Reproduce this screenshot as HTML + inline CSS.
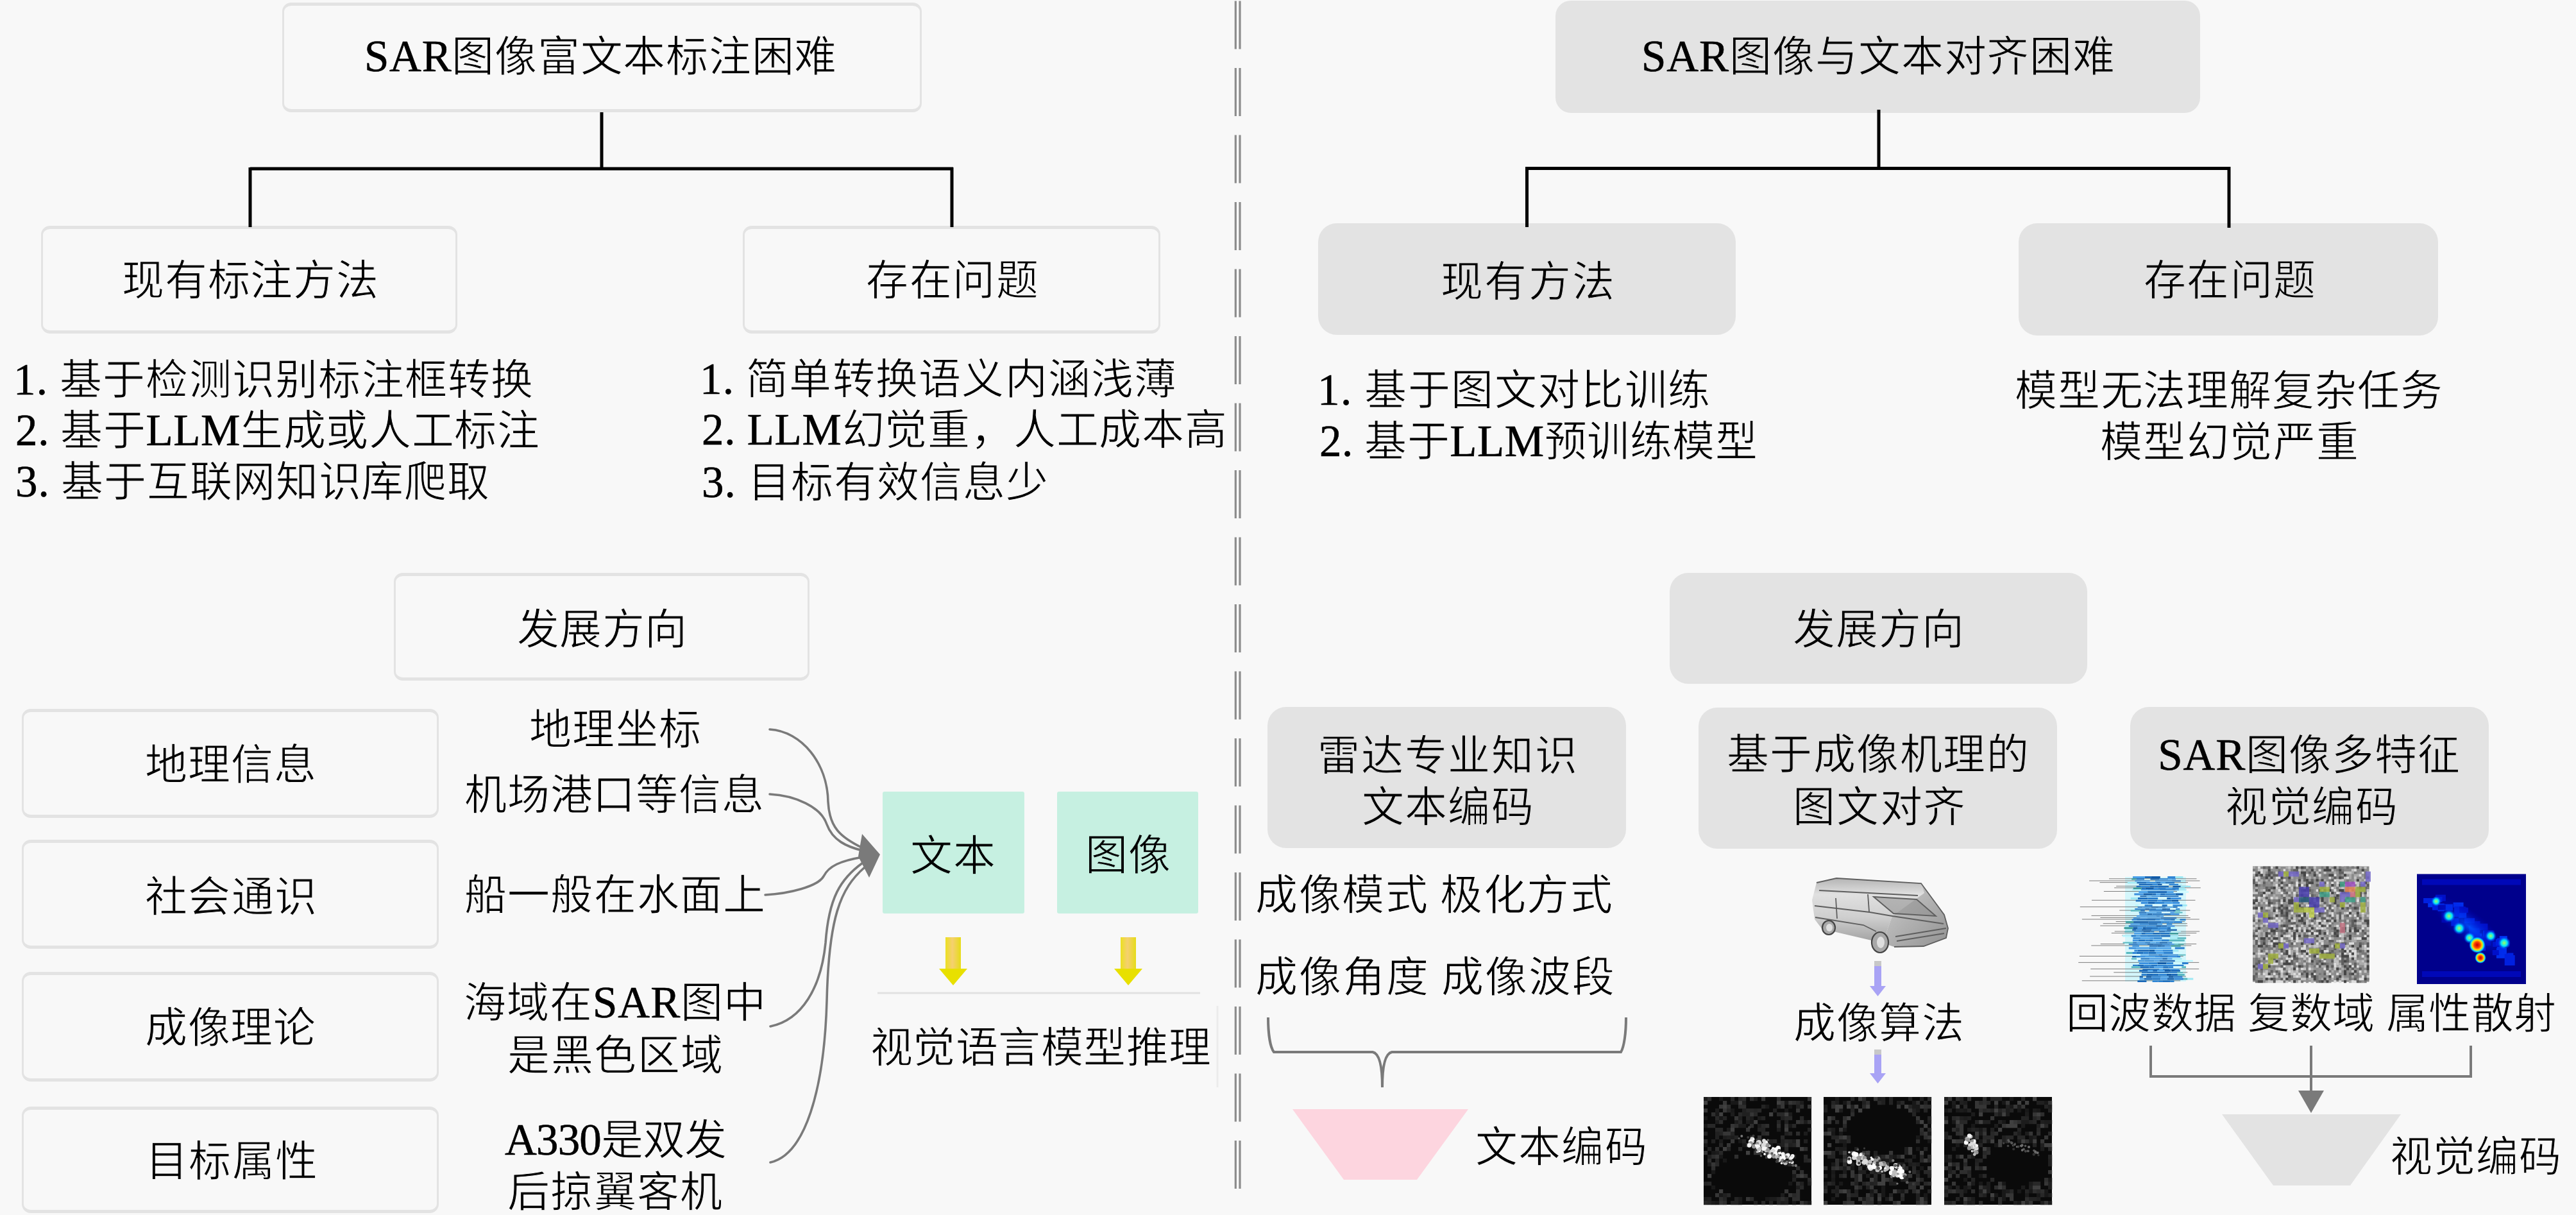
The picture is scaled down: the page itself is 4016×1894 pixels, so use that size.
<!DOCTYPE html>
<html lang="zh-CN"><head><meta charset="utf-8"><style>
html,body{margin:0;padding:0;background:#f8f8f8;}
#c{position:relative;width:4016px;height:1894px;overflow:hidden;background:#f8f8f8;}
.b{position:absolute;box-sizing:border-box;}
.t{position:absolute;white-space:nowrap;font-family:"Liberation Serif",serif;font-size:66px;color:#000;line-height:66px;}
svg{position:absolute;left:0;top:0;}
.l{-webkit-text-stroke:0.6px #000 !important;font-size:69px;}
</style></head><body><div id="c">
<div class="b" style="left:440px;top:4px;width:997px;height:171px;background:#f8f8f8;border:solid #e3e3e3;border-width:5px 3px;border-radius:14px;"></div>
<div class="b" style="left:64px;top:352px;width:649px;height:168px;background:#f8f8f8;border:solid #e3e3e3;border-width:5px 3px;border-radius:14px;"></div>
<div class="b" style="left:1158px;top:352px;width:651px;height:168px;background:#f8f8f8;border:solid #e3e3e3;border-width:5px 3px;border-radius:14px;"></div>
<div class="b" style="left:614px;top:893px;width:648px;height:168px;background:#f8f8f8;border:solid #e3e3e3;border-width:5px 3px;border-radius:14px;"></div>
<div class="b" style="left:34px;top:1105px;width:650px;height:170px;background:#f8f8f8;border:solid #e3e3e3;border-width:5px 3px;border-radius:14px;"></div>
<div class="b" style="left:34px;top:1309px;width:650px;height:170px;background:#f8f8f8;border:solid #e3e3e3;border-width:5px 3px;border-radius:14px;"></div>
<div class="b" style="left:34px;top:1515px;width:650px;height:171px;background:#f8f8f8;border:solid #e3e3e3;border-width:5px 3px;border-radius:14px;"></div>
<div class="b" style="left:34px;top:1725px;width:650px;height:166px;background:#f8f8f8;border:solid #e3e3e3;border-width:5px 3px;border-radius:14px;"></div>
<div class="b" style="left:1376px;top:1234px;width:221px;height:190px;background:#c6f0e1;border:solid #c6f0e1;border-width:0px 0px;border-radius:3px;"></div>
<div class="b" style="left:1648px;top:1234px;width:220px;height:190px;background:#c6f0e1;border:solid #c6f0e1;border-width:0px 0px;border-radius:3px;"></div>
<div class="b" style="left:2425px;top:1px;width:1005px;height:175px;background:#e3e3e3;border:solid #e3e3e3;border-width:0px 0px;border-radius:24px;"></div>
<div class="b" style="left:2055px;top:348px;width:651px;height:174px;background:#e3e3e3;border:solid #e3e3e3;border-width:0px 0px;border-radius:29px;"></div>
<div class="b" style="left:3147px;top:348px;width:654px;height:175px;background:#e3e3e3;border:solid #e3e3e3;border-width:0px 0px;border-radius:29px;"></div>
<div class="b" style="left:2603px;top:893px;width:651px;height:173px;background:#e3e3e3;border:solid #e3e3e3;border-width:0px 0px;border-radius:29px;"></div>
<div class="b" style="left:1976px;top:1102px;width:559px;height:220px;background:#e3e3e3;border:solid #e3e3e3;border-width:0px 0px;border-radius:29px;"></div>
<div class="b" style="left:2648px;top:1103px;width:559px;height:220px;background:#e3e3e3;border:solid #e3e3e3;border-width:0px 0px;border-radius:29px;"></div>
<div class="b" style="left:3321px;top:1102px;width:559px;height:221px;background:#e3e3e3;border:solid #e3e3e3;border-width:0px 0px;border-radius:29px;"></div>
<div class="t" id="t_ltop" style="left:568.00px;top:55.00px;letter-spacing:0.727px;-webkit-text-stroke:1.0px #f8f8f8"><span class="l">SAR</span>图像富文本标注困难</div>
<div class="t" id="t_l2a" style="left:190.00px;top:405.00px;letter-spacing:0.800px;-webkit-text-stroke:1.0px #f8f8f8">现有标注方法</div>
<div class="t" id="t_l2b" style="left:1350.00px;top:405.00px;letter-spacing:1.667px;-webkit-text-stroke:1.0px #f8f8f8">存在问题</div>
<div class="t" id="t_ll1" style="left:21.00px;top:559.00px;letter-spacing:1.231px;-webkit-text-stroke:1.0px #f8f8f8"><span class="l">1.</span> 基于检测识别标注框转换</div>
<div class="t" id="t_ll2" style="left:24.00px;top:638.00px;letter-spacing:0.643px;-webkit-text-stroke:1.0px #f8f8f8"><span class="l">2.</span> 基于<span class="l">LLM</span>生成或人工标注</div>
<div class="t" id="t_ll3" style="left:24.00px;top:718.00px;letter-spacing:0.917px;-webkit-text-stroke:1.0px #f8f8f8"><span class="l">3.</span> 基于互联网知识库爬取</div>
<div class="t" id="t_lr1" style="left:1091.00px;top:558.00px;letter-spacing:1.250px;-webkit-text-stroke:1.0px #f8f8f8"><span class="l">1.</span> 简单转换语义内涵浅薄</div>
<div class="t" id="t_lr2" style="left:1094.00px;top:637.00px;letter-spacing:0.786px;-webkit-text-stroke:1.0px #f8f8f8"><span class="l">2.</span> <span class="l">LLM</span>幻觉重，人工成本高</div>
<div class="t" id="t_lr3" style="left:1094.00px;top:719.00px;letter-spacing:1.111px;-webkit-text-stroke:1.0px #f8f8f8"><span class="l">3.</span> 目标有效信息少</div>
<div class="t" id="t_lfz" style="left:806.00px;top:949.00px;letter-spacing:0.333px;-webkit-text-stroke:1.0px #f8f8f8">发展方向</div>
<div class="t" id="t_s1" style="left:226.00px;top:1160.00px;letter-spacing:1.000px;-webkit-text-stroke:1.0px #f8f8f8">地理信息</div>
<div class="t" id="t_s2" style="left:226.00px;top:1366.00px;letter-spacing:1.333px;-webkit-text-stroke:1.0px #f8f8f8">社会通识</div>
<div class="t" id="t_s3" style="left:226.00px;top:1570.00px;letter-spacing:0.667px;-webkit-text-stroke:1.0px #f8f8f8">成像理论</div>
<div class="t" id="t_s4" style="left:227.00px;top:1778.00px;letter-spacing:1.333px;-webkit-text-stroke:1.0px #f8f8f8">目标属性</div>
<div class="t" id="t_m1" style="left:825.00px;top:1105.00px;letter-spacing:1.333px;-webkit-text-stroke:1.0px #f8f8f8">地理坐标</div>
<div class="t" id="t_m2" style="left:724.00px;top:1207.00px;letter-spacing:0.833px;-webkit-text-stroke:1.0px #f8f8f8">机场港口等信息</div>
<div class="t" id="t_m3" style="left:724.00px;top:1363.00px;letter-spacing:1.167px;-webkit-text-stroke:1.0px #f8f8f8">船一般在水面上</div>
<div class="t" id="t_m4" style="left:723.00px;top:1530.00px;letter-spacing:1.000px;-webkit-text-stroke:1.0px #f8f8f8">海域在<span class="l">SAR</span>图中</div>
<div class="t" id="t_m5" style="left:791.00px;top:1613.00px;letter-spacing:1.500px;-webkit-text-stroke:1.0px #f8f8f8">是黑色区域</div>
<div class="t" id="t_m6" style="left:787.00px;top:1744.00px;letter-spacing:-0.833px;-webkit-text-stroke:1.0px #f8f8f8"><span class="l">A330</span>是双发</div>
<div class="t" id="t_m7" style="left:791.00px;top:1826.00px;letter-spacing:1.250px;-webkit-text-stroke:1.0px #f8f8f8">后掠翼客机</div>
<div class="t" id="t_wb" style="left:1419.00px;top:1302.00px;letter-spacing:1.000px;-webkit-text-stroke:1.0px #c6f0e1">文本</div>
<div class="t" id="t_tx" style="left:1691.60px;top:1301.00px;letter-spacing:1.000px;-webkit-text-stroke:1.0px #c6f0e1">图像</div>
<div class="t" id="t_vlm" style="left:1357.00px;top:1601.00px;letter-spacing:0.429px;-webkit-text-stroke:1.0px #f8f8f8">视觉语言模型推理</div>
<div class="t" id="t_rtop" style="left:2559.00px;top:55.00px;letter-spacing:0.909px;-webkit-text-stroke:1.0px #e3e3e3"><span class="l">SAR</span>图像与文本对齐困难</div>
<div class="t" id="t_r2a" style="left:2246.00px;top:407.00px;letter-spacing:2.333px;-webkit-text-stroke:1.0px #e3e3e3">现有方法</div>
<div class="t" id="t_r2b" style="left:3342.00px;top:405.00px;letter-spacing:1.333px;-webkit-text-stroke:1.0px #e3e3e3">存在问题</div>
<div class="t" id="t_rl1" style="left:2054.00px;top:575.00px;letter-spacing:1.600px;-webkit-text-stroke:1.0px #f8f8f8"><span class="l">1.</span> 基于图文对比训练</div>
<div class="t" id="t_rl2" style="left:2057.00px;top:654.80px;letter-spacing:0.583px;-webkit-text-stroke:1.0px #f8f8f8"><span class="l">2.</span> 基于<span class="l">LLM</span>预训练模型</div>
<div class="t" id="t_rr1" style="left:3141.00px;top:577.00px;letter-spacing:0.778px;-webkit-text-stroke:1.0px #f8f8f8">模型无法理解复杂任务</div>
<div class="t" id="t_rr2" style="left:3274.00px;top:657.00px;letter-spacing:1.400px;-webkit-text-stroke:1.0px #f8f8f8">模型幻觉严重</div>
<div class="t" id="t_rfz" style="left:2795.00px;top:949.00px;letter-spacing:1.000px;-webkit-text-stroke:1.0px #e3e3e3">发展方向</div>
<div class="t" id="t_b1a" style="left:2054.00px;top:1146.00px;letter-spacing:1.800px;-webkit-text-stroke:1.0px #e3e3e3">雷达专业知识</div>
<div class="t" id="t_b1b" style="left:2123.00px;top:1225.80px;letter-spacing:1.167px;-webkit-text-stroke:1.0px #e3e3e3">文本编码</div>
<div class="t" id="t_b2a" style="left:2692.00px;top:1143.60px;letter-spacing:1.417px;-webkit-text-stroke:1.0px #e3e3e3">基于成像机理的</div>
<div class="t" id="t_b2b" style="left:2795.00px;top:1226.00px;letter-spacing:1.833px;-webkit-text-stroke:1.0px #e3e3e3">图文对齐</div>
<div class="t" id="t_b3a" style="left:3364.20px;top:1143.60px;letter-spacing:0.929px;-webkit-text-stroke:1.0px #e3e3e3"><span class="l">SAR</span>图像多特征</div>
<div class="t" id="t_b3b" style="left:3469.00px;top:1225.60px;letter-spacing:1.667px;-webkit-text-stroke:1.0px #e3e3e3">视觉编码</div>
<div class="t" id="t_cx1" style="left:1957.00px;top:1362.60px;letter-spacing:1.500px;-webkit-text-stroke:1.0px #f8f8f8">成像模式 极化方式</div>
<div class="t" id="t_cx2" style="left:1957.00px;top:1490.60px;letter-spacing:1.875px;-webkit-text-stroke:1.0px #f8f8f8">成像角度 成像波段</div>
<div class="t" id="t_wbm" style="left:2300.00px;top:1755.60px;letter-spacing:1.167px;-webkit-text-stroke:1.0px #f8f8f8">文本编码</div>
<div class="t" id="t_cxsf" style="left:2796.00px;top:1562.80px;letter-spacing:0.667px;-webkit-text-stroke:1.0px #f8f8f8">成像算法</div>
<div class="t" id="t_hb" style="left:3221.00px;top:1548.00px;letter-spacing:0.417px;-webkit-text-stroke:1.0px #f8f8f8">回波数据 复数域 属性散射</div>
<div class="t" id="t_sjbm" style="left:3726.40px;top:1771.00px;letter-spacing:1.000px;-webkit-text-stroke:1.0px #f8f8f8">视觉编码</div>
<svg width="4016" height="1894" viewBox="0 0 4016 1894">
<g stroke="#000" stroke-width="5" fill="none" stroke-linecap="butt"><path d="M938 175V263M390 263H1486M390 261V354M1484 261V354"/><path d="M2929 171V263M2378 262.5H3477M2380.5 260V354M3475 260V355"/></g>
<path d="M1926.3 1.5v75M1933 1.5v75M1926.3 106.0v75M1933 106.0v75M1926.3 210.5v75M1933 210.5v75M1926.3 315.0v75M1933 315.0v75M1926.3 419.5v75M1933 419.5v75M1926.3 524.0v75M1933 524.0v75M1926.3 628.5v75M1933 628.5v75M1926.3 733.0v75M1933 733.0v75M1926.3 837.5v75M1933 837.5v75M1926.3 942.0v75M1933 942.0v75M1926.3 1046.5v75M1933 1046.5v75M1926.3 1151.0v75M1933 1151.0v75M1926.3 1255.5v75M1933 1255.5v75M1926.3 1360.0v75M1933 1360.0v75M1926.3 1464.5v75M1933 1464.5v75M1926.3 1569.0v75M1933 1569.0v75M1926.3 1673.5v75M1933 1673.5v75M1926.3 1778.0v75M1933 1778.0v75" stroke="#8c8c8c" stroke-width="3.2" fill="none"/>
<path d="M1368 1548H1871" stroke="#e2e2e2" stroke-width="3" fill="none"/>
<path d="M1898 1568V1695" stroke="#ececec" stroke-width="3" fill="none"/>
<g stroke="#7a7a7a" stroke-width="3.6" fill="none" stroke-linecap="round"><path d="M1200 1137C1250 1140 1290 1190 1291 1250C1293 1290 1310 1305 1345 1322"/><path d="M1200 1238C1240 1240 1280 1258 1289 1285C1298 1310 1320 1320 1345 1326"/><path d="M1193 1395C1230 1393 1275 1382 1284 1366C1292 1350 1310 1342 1345 1336"/><path d="M1201 1600C1250 1590 1280 1540 1287 1470C1292 1400 1310 1370 1345 1345"/><path d="M1201 1812C1255 1800 1285 1700 1289 1560C1292 1430 1310 1385 1348 1352"/></g>
<path d="M1344 1300L1372 1332L1355 1368L1338 1335Z" fill="#7a7a7a"/>
<defs><linearGradient id="yg1486" x1="0" y1="0" x2="1" y2="0"><stop offset="0" stop-color="#ece020"/><stop offset="0.45" stop-color="#f5d070"/><stop offset="1" stop-color="#e6dc18"/></linearGradient></defs>
<path d="M1474 1461H1498V1512H1474Z" fill="url(#yg1486)"/>
<path d="M1464 1510H1508L1486 1536Z" fill="#e8e000"/>
<defs><linearGradient id="yg1759" x1="0" y1="0" x2="1" y2="0"><stop offset="0" stop-color="#ece020"/><stop offset="0.45" stop-color="#f5d070"/><stop offset="1" stop-color="#e6dc18"/></linearGradient></defs>
<path d="M1747 1461H1771V1512H1747Z" fill="url(#yg1759)"/>
<path d="M1737 1510H1781L1759 1536Z" fill="#e8e000"/>
<path d="M1977 1586C1977 1610 1980 1632 1986 1640H2140C2150 1642 2155 1660 2155 1695C2155 1660 2160 1642 2170 1640H2527C2532 1632 2535 1610 2535 1586" stroke="#7a7a7a" stroke-width="4" fill="none"/>
<path d="M2015 1729H2289L2209 1839H2095Z" fill="#fdd5df"/>
<path d="M2922 1498H2933V1537H2940L2927.5 1553L2915 1537H2922Z" fill="#a9a3f5"/>
<path d="M2922 1498H2933V1506H2922Z" fill="#c8c8c8"/>
<path d="M2922 1636H2933V1673H2940L2927.5 1689L2915 1673H2922Z" fill="#a9a3f5"/>
<path d="M2922 1636H2933V1644H2922Z" fill="#c8c8c8"/>
<g stroke="#7a7a7a" stroke-width="4" fill="none"><path d="M3353 1630V1678H3852V1630M3603 1630V1702"/></g>
<path d="M3583 1700H3623L3603 1735Z" fill="#7a7a7a"/>
<path d="M3464 1737H3743L3664 1848H3544Z" fill="#e3e3e3"/>
<rect x="2656" y="1710" width="168" height="168" fill="#0a0a0a"/>
<path fill="#1c1c1c" d="M2656.0 1710.0h6.2v6.2h-6.2zM2656.0 1866.0h6.2v6.2h-6.2zM2662.0 1812.0h6.2v6.2h-6.2zM2668.0 1872.0h6.2v6.2h-6.2zM2674.0 1728.0h6.2v6.2h-6.2zM2674.0 1746.0h6.2v6.2h-6.2zM2674.0 1794.0h6.2v6.2h-6.2zM2680.0 1776.0h6.2v6.2h-6.2zM2686.0 1770.0h6.2v6.2h-6.2zM2692.0 1758.0h6.2v6.2h-6.2zM2698.0 1734.0h6.2v6.2h-6.2zM2698.0 1770.0h6.2v6.2h-6.2zM2704.0 1746.0h6.2v6.2h-6.2zM2710.0 1752.0h6.2v6.2h-6.2zM2710.0 1866.0h6.2v6.2h-6.2zM2716.0 1752.0h6.2v6.2h-6.2zM2722.0 1746.0h6.2v6.2h-6.2zM2728.0 1740.0h6.2v6.2h-6.2zM2734.0 1710.0h6.2v6.2h-6.2zM2740.0 1740.0h6.2v6.2h-6.2zM2740.0 1752.0h6.2v6.2h-6.2zM2746.0 1788.0h6.2v6.2h-6.2zM2752.0 1776.0h6.2v6.2h-6.2zM2758.0 1866.0h6.2v6.2h-6.2zM2764.0 1866.0h6.2v6.2h-6.2zM2770.0 1758.0h6.2v6.2h-6.2zM2776.0 1860.0h6.2v6.2h-6.2zM2776.0 1872.0h6.2v6.2h-6.2zM2782.0 1794.0h6.2v6.2h-6.2zM2788.0 1734.0h6.2v6.2h-6.2zM2794.0 1776.0h6.2v6.2h-6.2zM2794.0 1800.0h6.2v6.2h-6.2zM2800.0 1848.0h6.2v6.2h-6.2zM2806.0 1716.0h6.2v6.2h-6.2zM2812.0 1746.0h6.2v6.2h-6.2zM2812.0 1764.0h6.2v6.2h-6.2z"/>
<path fill="#404040" d="M2656.0 1716.0h6.2v6.2h-6.2zM2662.0 1830.0h6.2v6.2h-6.2zM2680.0 1734.0h6.2v6.2h-6.2zM2680.0 1854.0h6.2v6.2h-6.2zM2686.0 1722.0h6.2v6.2h-6.2zM2686.0 1788.0h6.2v6.2h-6.2zM2698.0 1758.0h6.2v6.2h-6.2zM2710.0 1716.0h6.2v6.2h-6.2zM2722.0 1794.0h6.2v6.2h-6.2zM2728.0 1776.0h6.2v6.2h-6.2zM2734.0 1746.0h6.2v6.2h-6.2zM2740.0 1782.0h6.2v6.2h-6.2zM2752.0 1782.0h6.2v6.2h-6.2zM2752.0 1794.0h6.2v6.2h-6.2zM2758.0 1734.0h6.2v6.2h-6.2zM2764.0 1800.0h6.2v6.2h-6.2zM2770.0 1716.0h6.2v6.2h-6.2zM2782.0 1734.0h6.2v6.2h-6.2zM2782.0 1758.0h6.2v6.2h-6.2zM2800.0 1776.0h6.2v6.2h-6.2zM2800.0 1782.0h6.2v6.2h-6.2zM2806.0 1788.0h6.2v6.2h-6.2zM2806.0 1830.0h6.2v6.2h-6.2z"/>
<path fill="#363636" d="M2656.0 1728.0h6.2v6.2h-6.2zM2656.0 1794.0h6.2v6.2h-6.2zM2668.0 1812.0h6.2v6.2h-6.2zM2674.0 1800.0h6.2v6.2h-6.2zM2674.0 1860.0h6.2v6.2h-6.2zM2680.0 1722.0h6.2v6.2h-6.2zM2680.0 1872.0h6.2v6.2h-6.2zM2686.0 1716.0h6.2v6.2h-6.2zM2686.0 1728.0h6.2v6.2h-6.2zM2686.0 1764.0h6.2v6.2h-6.2zM2692.0 1764.0h6.2v6.2h-6.2zM2692.0 1782.0h6.2v6.2h-6.2zM2698.0 1752.0h6.2v6.2h-6.2zM2698.0 1776.0h6.2v6.2h-6.2zM2704.0 1740.0h6.2v6.2h-6.2zM2722.0 1758.0h6.2v6.2h-6.2zM2722.0 1782.0h6.2v6.2h-6.2zM2722.0 1866.0h6.2v6.2h-6.2zM2728.0 1734.0h6.2v6.2h-6.2zM2734.0 1794.0h6.2v6.2h-6.2zM2740.0 1770.0h6.2v6.2h-6.2zM2740.0 1794.0h6.2v6.2h-6.2zM2746.0 1710.0h6.2v6.2h-6.2zM2752.0 1788.0h6.2v6.2h-6.2zM2752.0 1800.0h6.2v6.2h-6.2zM2770.0 1800.0h6.2v6.2h-6.2zM2776.0 1716.0h6.2v6.2h-6.2zM2776.0 1722.0h6.2v6.2h-6.2zM2782.0 1752.0h6.2v6.2h-6.2zM2782.0 1782.0h6.2v6.2h-6.2zM2782.0 1854.0h6.2v6.2h-6.2zM2788.0 1716.0h6.2v6.2h-6.2zM2788.0 1860.0h6.2v6.2h-6.2zM2800.0 1728.0h6.2v6.2h-6.2zM2800.0 1746.0h6.2v6.2h-6.2zM2800.0 1830.0h6.2v6.2h-6.2zM2806.0 1872.0h6.2v6.2h-6.2zM2818.0 1710.0h6.2v6.2h-6.2zM2818.0 1722.0h6.2v6.2h-6.2z"/>
<path fill="#181818" d="M2656.0 1740.0h6.2v6.2h-6.2zM2656.0 1752.0h6.2v6.2h-6.2zM2656.0 1782.0h6.2v6.2h-6.2zM2668.0 1794.0h6.2v6.2h-6.2zM2668.0 1824.0h6.2v6.2h-6.2zM2668.0 1848.0h6.2v6.2h-6.2zM2674.0 1734.0h6.2v6.2h-6.2zM2674.0 1872.0h6.2v6.2h-6.2zM2680.0 1710.0h6.2v6.2h-6.2zM2680.0 1740.0h6.2v6.2h-6.2zM2680.0 1800.0h6.2v6.2h-6.2zM2680.0 1860.0h6.2v6.2h-6.2zM2686.0 1806.0h6.2v6.2h-6.2zM2698.0 1716.0h6.2v6.2h-6.2zM2698.0 1728.0h6.2v6.2h-6.2zM2704.0 1716.0h6.2v6.2h-6.2zM2710.0 1776.0h6.2v6.2h-6.2zM2710.0 1872.0h6.2v6.2h-6.2zM2716.0 1782.0h6.2v6.2h-6.2zM2728.0 1746.0h6.2v6.2h-6.2zM2734.0 1788.0h6.2v6.2h-6.2zM2752.0 1722.0h6.2v6.2h-6.2zM2752.0 1866.0h6.2v6.2h-6.2zM2758.0 1782.0h6.2v6.2h-6.2zM2770.0 1782.0h6.2v6.2h-6.2zM2782.0 1716.0h6.2v6.2h-6.2zM2782.0 1728.0h6.2v6.2h-6.2zM2782.0 1812.0h6.2v6.2h-6.2zM2788.0 1722.0h6.2v6.2h-6.2zM2788.0 1752.0h6.2v6.2h-6.2zM2788.0 1842.0h6.2v6.2h-6.2zM2794.0 1830.0h6.2v6.2h-6.2zM2794.0 1872.0h6.2v6.2h-6.2zM2818.0 1872.0h6.2v6.2h-6.2z"/>
<path fill="#242424" d="M2656.0 1764.0h6.2v6.2h-6.2zM2656.0 1842.0h6.2v6.2h-6.2zM2662.0 1788.0h6.2v6.2h-6.2zM2662.0 1872.0h6.2v6.2h-6.2zM2674.0 1806.0h6.2v6.2h-6.2zM2680.0 1764.0h6.2v6.2h-6.2zM2686.0 1740.0h6.2v6.2h-6.2zM2686.0 1866.0h6.2v6.2h-6.2zM2692.0 1728.0h6.2v6.2h-6.2zM2692.0 1788.0h6.2v6.2h-6.2zM2698.0 1764.0h6.2v6.2h-6.2zM2698.0 1872.0h6.2v6.2h-6.2zM2704.0 1770.0h6.2v6.2h-6.2zM2704.0 1866.0h6.2v6.2h-6.2zM2704.0 1872.0h6.2v6.2h-6.2zM2716.0 1776.0h6.2v6.2h-6.2zM2722.0 1740.0h6.2v6.2h-6.2zM2728.0 1770.0h6.2v6.2h-6.2zM2734.0 1728.0h6.2v6.2h-6.2zM2740.0 1758.0h6.2v6.2h-6.2zM2746.0 1722.0h6.2v6.2h-6.2zM2746.0 1740.0h6.2v6.2h-6.2zM2746.0 1758.0h6.2v6.2h-6.2zM2758.0 1776.0h6.2v6.2h-6.2zM2758.0 1872.0h6.2v6.2h-6.2zM2770.0 1746.0h6.2v6.2h-6.2zM2770.0 1794.0h6.2v6.2h-6.2zM2770.0 1866.0h6.2v6.2h-6.2zM2770.0 1872.0h6.2v6.2h-6.2zM2776.0 1806.0h6.2v6.2h-6.2zM2782.0 1866.0h6.2v6.2h-6.2zM2788.0 1776.0h6.2v6.2h-6.2zM2794.0 1782.0h6.2v6.2h-6.2zM2812.0 1806.0h6.2v6.2h-6.2zM2812.0 1872.0h6.2v6.2h-6.2zM2818.0 1758.0h6.2v6.2h-6.2z"/>
<path fill="#2e2e2e" d="M2656.0 1776.0h6.2v6.2h-6.2zM2662.0 1710.0h6.2v6.2h-6.2zM2662.0 1806.0h6.2v6.2h-6.2zM2668.0 1734.0h6.2v6.2h-6.2zM2668.0 1800.0h6.2v6.2h-6.2zM2668.0 1818.0h6.2v6.2h-6.2zM2674.0 1788.0h6.2v6.2h-6.2zM2680.0 1746.0h6.2v6.2h-6.2zM2680.0 1866.0h6.2v6.2h-6.2zM2686.0 1872.0h6.2v6.2h-6.2zM2692.0 1722.0h6.2v6.2h-6.2zM2704.0 1752.0h6.2v6.2h-6.2zM2704.0 1800.0h6.2v6.2h-6.2zM2710.0 1722.0h6.2v6.2h-6.2zM2716.0 1710.0h6.2v6.2h-6.2zM2716.0 1722.0h6.2v6.2h-6.2zM2728.0 1710.0h6.2v6.2h-6.2zM2728.0 1752.0h6.2v6.2h-6.2zM2740.0 1776.0h6.2v6.2h-6.2zM2752.0 1752.0h6.2v6.2h-6.2zM2752.0 1764.0h6.2v6.2h-6.2zM2770.0 1710.0h6.2v6.2h-6.2zM2770.0 1752.0h6.2v6.2h-6.2zM2776.0 1866.0h6.2v6.2h-6.2zM2794.0 1716.0h6.2v6.2h-6.2zM2794.0 1824.0h6.2v6.2h-6.2zM2794.0 1866.0h6.2v6.2h-6.2zM2800.0 1764.0h6.2v6.2h-6.2zM2800.0 1842.0h6.2v6.2h-6.2zM2800.0 1854.0h6.2v6.2h-6.2zM2800.0 1860.0h6.2v6.2h-6.2zM2800.0 1866.0h6.2v6.2h-6.2zM2806.0 1722.0h6.2v6.2h-6.2zM2806.0 1746.0h6.2v6.2h-6.2zM2806.0 1824.0h6.2v6.2h-6.2zM2812.0 1788.0h6.2v6.2h-6.2zM2812.0 1830.0h6.2v6.2h-6.2zM2818.0 1746.0h6.2v6.2h-6.2z"/>
<path fill="#282828" d="M2656.0 1872.0h6.2v6.2h-6.2zM2662.0 1752.0h6.2v6.2h-6.2zM2662.0 1842.0h6.2v6.2h-6.2zM2668.0 1752.0h6.2v6.2h-6.2zM2674.0 1740.0h6.2v6.2h-6.2zM2674.0 1758.0h6.2v6.2h-6.2zM2674.0 1812.0h6.2v6.2h-6.2zM2680.0 1758.0h6.2v6.2h-6.2zM2680.0 1782.0h6.2v6.2h-6.2zM2680.0 1794.0h6.2v6.2h-6.2zM2692.0 1860.0h6.2v6.2h-6.2zM2698.0 1710.0h6.2v6.2h-6.2zM2710.0 1710.0h6.2v6.2h-6.2zM2710.0 1734.0h6.2v6.2h-6.2zM2710.0 1746.0h6.2v6.2h-6.2zM2710.0 1788.0h6.2v6.2h-6.2zM2722.0 1728.0h6.2v6.2h-6.2zM2728.0 1728.0h6.2v6.2h-6.2zM2728.0 1866.0h6.2v6.2h-6.2zM2734.0 1734.0h6.2v6.2h-6.2zM2734.0 1782.0h6.2v6.2h-6.2zM2740.0 1728.0h6.2v6.2h-6.2zM2746.0 1752.0h6.2v6.2h-6.2zM2746.0 1764.0h6.2v6.2h-6.2zM2746.0 1872.0h6.2v6.2h-6.2zM2764.0 1776.0h6.2v6.2h-6.2zM2764.0 1788.0h6.2v6.2h-6.2zM2764.0 1794.0h6.2v6.2h-6.2zM2770.0 1734.0h6.2v6.2h-6.2zM2770.0 1788.0h6.2v6.2h-6.2zM2770.0 1806.0h6.2v6.2h-6.2zM2776.0 1734.0h6.2v6.2h-6.2zM2776.0 1770.0h6.2v6.2h-6.2zM2776.0 1794.0h6.2v6.2h-6.2zM2782.0 1740.0h6.2v6.2h-6.2zM2782.0 1776.0h6.2v6.2h-6.2zM2782.0 1788.0h6.2v6.2h-6.2zM2788.0 1740.0h6.2v6.2h-6.2zM2788.0 1764.0h6.2v6.2h-6.2zM2788.0 1812.0h6.2v6.2h-6.2zM2794.0 1752.0h6.2v6.2h-6.2zM2794.0 1860.0h6.2v6.2h-6.2zM2800.0 1716.0h6.2v6.2h-6.2zM2800.0 1818.0h6.2v6.2h-6.2zM2806.0 1740.0h6.2v6.2h-6.2zM2806.0 1848.0h6.2v6.2h-6.2zM2812.0 1800.0h6.2v6.2h-6.2zM2818.0 1806.0h6.2v6.2h-6.2zM2818.0 1836.0h6.2v6.2h-6.2z"/>
<path fill="#202020" d="M2662.0 1800.0h6.2v6.2h-6.2zM2662.0 1866.0h6.2v6.2h-6.2zM2668.0 1776.0h6.2v6.2h-6.2zM2674.0 1764.0h6.2v6.2h-6.2zM2674.0 1770.0h6.2v6.2h-6.2zM2686.0 1860.0h6.2v6.2h-6.2zM2692.0 1770.0h6.2v6.2h-6.2zM2710.0 1740.0h6.2v6.2h-6.2zM2716.0 1716.0h6.2v6.2h-6.2zM2716.0 1728.0h6.2v6.2h-6.2zM2716.0 1734.0h6.2v6.2h-6.2zM2722.0 1734.0h6.2v6.2h-6.2zM2734.0 1872.0h6.2v6.2h-6.2zM2746.0 1776.0h6.2v6.2h-6.2zM2764.0 1728.0h6.2v6.2h-6.2zM2770.0 1722.0h6.2v6.2h-6.2zM2776.0 1740.0h6.2v6.2h-6.2zM2776.0 1776.0h6.2v6.2h-6.2zM2776.0 1782.0h6.2v6.2h-6.2zM2782.0 1746.0h6.2v6.2h-6.2zM2782.0 1764.0h6.2v6.2h-6.2zM2782.0 1872.0h6.2v6.2h-6.2zM2788.0 1782.0h6.2v6.2h-6.2zM2794.0 1836.0h6.2v6.2h-6.2zM2800.0 1722.0h6.2v6.2h-6.2zM2806.0 1842.0h6.2v6.2h-6.2zM2812.0 1776.0h6.2v6.2h-6.2zM2818.0 1842.0h6.2v6.2h-6.2z"/>
<circle cx="2794.0" cy="1811.7" r="2.5" fill="#f5f5f5"/>
<circle cx="2744.8" cy="1788.5" r="1.5" fill="#969696"/>
<circle cx="2791.2" cy="1806.1" r="2.8" fill="#dcdcdc"/>
<circle cx="2771.8" cy="1801.9" r="2.5" fill="#969696"/>
<circle cx="2749.7" cy="1785.8" r="4.2" fill="#dcdcdc"/>
<circle cx="2741.6" cy="1792.2" r="4.1" fill="#f5f5f5"/>
<circle cx="2740.8" cy="1787.4" r="3.4" fill="#f5f5f5"/>
<circle cx="2752.7" cy="1781.5" r="3.7" fill="#f5f5f5"/>
<circle cx="2764.5" cy="1794.1" r="4.1" fill="#bebebe"/>
<circle cx="2765.6" cy="1795.0" r="3.6" fill="#969696"/>
<circle cx="2753.8" cy="1794.2" r="1.7" fill="#ffffff"/>
<circle cx="2779.8" cy="1804.4" r="2.6" fill="#969696"/>
<circle cx="2794.7" cy="1802.1" r="3.0" fill="#f5f5f5"/>
<circle cx="2783.4" cy="1813.0" r="3.3" fill="#bebebe"/>
<circle cx="2760.4" cy="1797.6" r="3.6" fill="#969696"/>
<circle cx="2775.1" cy="1805.0" r="3.3" fill="#f5f5f5"/>
<circle cx="2777.6" cy="1813.2" r="1.8" fill="#f5f5f5"/>
<circle cx="2767.8" cy="1790.9" r="2.2" fill="#ffffff"/>
<circle cx="2742.5" cy="1791.1" r="3.0" fill="#bebebe"/>
<circle cx="2778.3" cy="1809.1" r="1.8" fill="#dcdcdc"/>
<circle cx="2793.3" cy="1804.2" r="3.0" fill="#f5f5f5"/>
<circle cx="2750.1" cy="1778.2" r="2.9" fill="#dcdcdc"/>
<circle cx="2769.2" cy="1793.7" r="2.0" fill="#ffffff"/>
<circle cx="2772.3" cy="1789.7" r="3.8" fill="#ffffff"/>
<circle cx="2731.8" cy="1775.6" r="3.4" fill="#dcdcdc"/>
<circle cx="2756.2" cy="1793.7" r="2.2" fill="#bebebe"/>
<circle cx="2758.5" cy="1802.6" r="3.4" fill="#ffffff"/>
<circle cx="2733.3" cy="1779.8" r="1.9" fill="#bebebe"/>
<circle cx="2744.3" cy="1782.6" r="1.8" fill="#bebebe"/>
<circle cx="2765.5" cy="1801.9" r="3.7" fill="#969696"/>
<circle cx="2764.1" cy="1790.1" r="2.0" fill="#ffffff"/>
<circle cx="2764.3" cy="1795.3" r="3.6" fill="#dcdcdc"/>
<circle cx="2773.8" cy="1808.3" r="2.3" fill="#dcdcdc"/>
<circle cx="2745.0" cy="1781.8" r="1.8" fill="#dcdcdc"/>
<circle cx="2728.4" cy="1783.5" r="3.3" fill="#969696"/>
<circle cx="2739.7" cy="1795.0" r="2.3" fill="#bebebe"/>
<circle cx="2733.7" cy="1775.9" r="1.9" fill="#f5f5f5"/>
<circle cx="2751.9" cy="1790.8" r="1.8" fill="#dcdcdc"/>
<circle cx="2741.8" cy="1781.0" r="4.1" fill="#dcdcdc"/>
<circle cx="2790.1" cy="1811.7" r="1.8" fill="#dcdcdc"/>
<circle cx="2753.4" cy="1790.8" r="2.9" fill="#ffffff"/>
<circle cx="2758.6" cy="1786.0" r="2.1" fill="#dcdcdc"/>
<circle cx="2752.6" cy="1794.3" r="2.0" fill="#bebebe"/>
<circle cx="2779.7" cy="1798.9" r="3.0" fill="#ffffff"/>
<circle cx="2734.5" cy="1787.0" r="3.5" fill="#969696"/>
<circle cx="2767.9" cy="1798.8" r="3.8" fill="#ffffff"/>
<circle cx="2761.3" cy="1795.9" r="3.3" fill="#bebebe"/>
<circle cx="2729.5" cy="1779.6" r="3.7" fill="#f5f5f5"/>
<circle cx="2785.6" cy="1802.2" r="3.9" fill="#bebebe"/>
<circle cx="2738.6" cy="1785.2" r="2.6" fill="#ffffff"/>
<circle cx="2729.5" cy="1782.3" r="3.2" fill="#969696"/>
<circle cx="2751.1" cy="1799.0" r="1.9" fill="#ffffff"/>
<circle cx="2779.8" cy="1800.8" r="2.7" fill="#f5f5f5"/>
<circle cx="2739.6" cy="1782.5" r="2.7" fill="#969696"/>
<circle cx="2747.1" cy="1794.7" r="1.5" fill="#969696"/>
<circle cx="2780.6" cy="1805.1" r="3.6" fill="#ffffff"/>
<circle cx="2749.5" cy="1790.7" r="3.3" fill="#f5f5f5"/>
<circle cx="2774.0" cy="1809.3" r="2.1" fill="#ffffff"/>
<circle cx="2793.4" cy="1802.6" r="1.6" fill="#dcdcdc"/>
<circle cx="2755.4" cy="1785.3" r="3.2" fill="#969696"/>
<circle cx="2763.2" cy="1794.3" r="3.5" fill="#dcdcdc"/>
<circle cx="2756.2" cy="1792.4" r="2.9" fill="#969696"/>
<circle cx="2739.7" cy="1786.7" r="3.0" fill="#f5f5f5"/>
<circle cx="2787.6" cy="1800.5" r="3.1" fill="#f5f5f5"/>
<circle cx="2781.5" cy="1812.6" r="2.0" fill="#bebebe"/>
<circle cx="2727.1" cy="1785.4" r="3.3" fill="#f5f5f5"/>
<circle cx="2770.9" cy="1803.8" r="3.3" fill="#bebebe"/>
<circle cx="2750.5" cy="1783.4" r="2.8" fill="#dcdcdc"/>
<circle cx="2773.7" cy="1802.8" r="1.8" fill="#969696"/>
<circle cx="2774.5" cy="1797.3" r="2.5" fill="#ffffff"/>
<circle cx="2773.7" cy="1793.6" r="2.5" fill="#3c3c3c"/>
<circle cx="2779.3" cy="1808.3" r="2.1" fill="#787878"/>
<circle cx="2771.5" cy="1809.6" r="2.5" fill="#787878"/>
<circle cx="2795.3" cy="1816.6" r="2.2" fill="#5a5a5a"/>
<circle cx="2754.8" cy="1798.2" r="2.1" fill="#3c3c3c"/>
<circle cx="2725.2" cy="1773.0" r="1.9" fill="#3c3c3c"/>
<circle cx="2799.7" cy="1817.0" r="2.2" fill="#787878"/>
<circle cx="2785.8" cy="1811.0" r="2.0" fill="#787878"/>
<circle cx="2762.5" cy="1798.0" r="2.1" fill="#5a5a5a"/>
<circle cx="2711.1" cy="1774.4" r="1.5" fill="#5a5a5a"/>
<circle cx="2756.2" cy="1777.2" r="1.6" fill="#787878"/>
<circle cx="2766.3" cy="1800.5" r="1.9" fill="#787878"/>
<circle cx="2782.2" cy="1810.2" r="2.2" fill="#3c3c3c"/>
<circle cx="2745.5" cy="1801.7" r="1.8" fill="#5a5a5a"/>
<circle cx="2792.9" cy="1810.0" r="2.2" fill="#5a5a5a"/>
<circle cx="2784.9" cy="1803.1" r="1.9" fill="#787878"/>
<circle cx="2739.0" cy="1776.2" r="1.8" fill="#3c3c3c"/>
<circle cx="2715.3" cy="1770.9" r="2.0" fill="#787878"/>
<circle cx="2789.3" cy="1809.3" r="1.9" fill="#3c3c3c"/>
<circle cx="2727.2" cy="1757.4" r="2.2" fill="#3c3c3c"/>
<circle cx="2771.8" cy="1806.9" r="2.1" fill="#3c3c3c"/>
<circle cx="2770.0" cy="1810.6" r="2.3" fill="#3c3c3c"/>
<circle cx="2737.7" cy="1792.9" r="1.9" fill="#3c3c3c"/>
<circle cx="2733.5" cy="1770.5" r="2.0" fill="#3c3c3c"/>
<circle cx="2747.8" cy="1795.9" r="1.5" fill="#787878"/>
<rect x="2843" y="1710" width="168" height="168" fill="#0a0a0a"/>
<path fill="#1c1c1c" d="M2843.0 1722.0h6.2v6.2h-6.2zM2855.0 1758.0h6.2v6.2h-6.2zM2855.0 1830.0h6.2v6.2h-6.2zM2861.0 1716.0h6.2v6.2h-6.2zM2861.0 1854.0h6.2v6.2h-6.2zM2867.0 1728.0h6.2v6.2h-6.2zM2867.0 1776.0h6.2v6.2h-6.2zM2867.0 1788.0h6.2v6.2h-6.2zM2873.0 1776.0h6.2v6.2h-6.2zM2873.0 1788.0h6.2v6.2h-6.2zM2873.0 1818.0h6.2v6.2h-6.2zM2873.0 1824.0h6.2v6.2h-6.2zM2879.0 1800.0h6.2v6.2h-6.2zM2897.0 1806.0h6.2v6.2h-6.2zM2903.0 1812.0h6.2v6.2h-6.2zM2903.0 1866.0h6.2v6.2h-6.2zM2909.0 1830.0h6.2v6.2h-6.2zM2915.0 1812.0h6.2v6.2h-6.2zM2927.0 1710.0h6.2v6.2h-6.2zM2927.0 1800.0h6.2v6.2h-6.2zM2927.0 1872.0h6.2v6.2h-6.2zM2933.0 1824.0h6.2v6.2h-6.2zM2939.0 1806.0h6.2v6.2h-6.2zM2939.0 1866.0h6.2v6.2h-6.2zM2957.0 1716.0h6.2v6.2h-6.2zM2963.0 1812.0h6.2v6.2h-6.2zM2969.0 1806.0h6.2v6.2h-6.2zM2975.0 1812.0h6.2v6.2h-6.2zM2981.0 1800.0h6.2v6.2h-6.2zM2987.0 1812.0h6.2v6.2h-6.2zM2987.0 1824.0h6.2v6.2h-6.2zM2999.0 1866.0h6.2v6.2h-6.2zM3005.0 1746.0h6.2v6.2h-6.2z"/>
<path fill="#202020" d="M2843.0 1728.0h6.2v6.2h-6.2zM2843.0 1830.0h6.2v6.2h-6.2zM2843.0 1848.0h6.2v6.2h-6.2zM2855.0 1842.0h6.2v6.2h-6.2zM2855.0 1854.0h6.2v6.2h-6.2zM2861.0 1788.0h6.2v6.2h-6.2zM2861.0 1848.0h6.2v6.2h-6.2zM2867.0 1794.0h6.2v6.2h-6.2zM2879.0 1806.0h6.2v6.2h-6.2zM2885.0 1722.0h6.2v6.2h-6.2zM2885.0 1812.0h6.2v6.2h-6.2zM2891.0 1788.0h6.2v6.2h-6.2zM2891.0 1842.0h6.2v6.2h-6.2zM2891.0 1854.0h6.2v6.2h-6.2zM2897.0 1824.0h6.2v6.2h-6.2zM2903.0 1716.0h6.2v6.2h-6.2zM2903.0 1824.0h6.2v6.2h-6.2zM2909.0 1806.0h6.2v6.2h-6.2zM2909.0 1848.0h6.2v6.2h-6.2zM2915.0 1842.0h6.2v6.2h-6.2zM2915.0 1860.0h6.2v6.2h-6.2zM2921.0 1794.0h6.2v6.2h-6.2zM2921.0 1812.0h6.2v6.2h-6.2zM2921.0 1824.0h6.2v6.2h-6.2zM2933.0 1710.0h6.2v6.2h-6.2zM2933.0 1716.0h6.2v6.2h-6.2zM2945.0 1800.0h6.2v6.2h-6.2zM2945.0 1842.0h6.2v6.2h-6.2zM2951.0 1818.0h6.2v6.2h-6.2zM2951.0 1842.0h6.2v6.2h-6.2zM2957.0 1854.0h6.2v6.2h-6.2zM2963.0 1824.0h6.2v6.2h-6.2zM2969.0 1788.0h6.2v6.2h-6.2zM2969.0 1794.0h6.2v6.2h-6.2zM2981.0 1728.0h6.2v6.2h-6.2zM2981.0 1812.0h6.2v6.2h-6.2zM2987.0 1860.0h6.2v6.2h-6.2zM2987.0 1866.0h6.2v6.2h-6.2zM2993.0 1710.0h6.2v6.2h-6.2zM2999.0 1716.0h6.2v6.2h-6.2z"/>
<path fill="#242424" d="M2843.0 1746.0h6.2v6.2h-6.2zM2849.0 1758.0h6.2v6.2h-6.2zM2849.0 1800.0h6.2v6.2h-6.2zM2855.0 1716.0h6.2v6.2h-6.2zM2855.0 1770.0h6.2v6.2h-6.2zM2855.0 1800.0h6.2v6.2h-6.2zM2861.0 1770.0h6.2v6.2h-6.2zM2861.0 1860.0h6.2v6.2h-6.2zM2867.0 1830.0h6.2v6.2h-6.2zM2879.0 1770.0h6.2v6.2h-6.2zM2885.0 1710.0h6.2v6.2h-6.2zM2885.0 1728.0h6.2v6.2h-6.2zM2885.0 1860.0h6.2v6.2h-6.2zM2891.0 1800.0h6.2v6.2h-6.2zM2891.0 1830.0h6.2v6.2h-6.2zM2891.0 1836.0h6.2v6.2h-6.2zM2891.0 1860.0h6.2v6.2h-6.2zM2903.0 1842.0h6.2v6.2h-6.2zM2909.0 1818.0h6.2v6.2h-6.2zM2921.0 1800.0h6.2v6.2h-6.2zM2921.0 1836.0h6.2v6.2h-6.2zM2921.0 1842.0h6.2v6.2h-6.2zM2945.0 1710.0h6.2v6.2h-6.2zM2945.0 1716.0h6.2v6.2h-6.2zM2945.0 1860.0h6.2v6.2h-6.2zM2951.0 1830.0h6.2v6.2h-6.2zM2963.0 1836.0h6.2v6.2h-6.2zM2969.0 1830.0h6.2v6.2h-6.2zM2975.0 1710.0h6.2v6.2h-6.2zM2975.0 1722.0h6.2v6.2h-6.2zM2975.0 1806.0h6.2v6.2h-6.2zM2981.0 1734.0h6.2v6.2h-6.2zM2987.0 1746.0h6.2v6.2h-6.2zM2987.0 1830.0h6.2v6.2h-6.2zM2993.0 1800.0h6.2v6.2h-6.2zM2999.0 1728.0h6.2v6.2h-6.2zM2999.0 1788.0h6.2v6.2h-6.2zM3005.0 1740.0h6.2v6.2h-6.2zM3005.0 1830.0h6.2v6.2h-6.2zM3005.0 1854.0h6.2v6.2h-6.2z"/>
<path fill="#363636" d="M2843.0 1764.0h6.2v6.2h-6.2zM2849.0 1746.0h6.2v6.2h-6.2zM2861.0 1818.0h6.2v6.2h-6.2zM2867.0 1758.0h6.2v6.2h-6.2zM2867.0 1770.0h6.2v6.2h-6.2zM2867.0 1854.0h6.2v6.2h-6.2zM2873.0 1746.0h6.2v6.2h-6.2zM2879.0 1818.0h6.2v6.2h-6.2zM2879.0 1872.0h6.2v6.2h-6.2zM2885.0 1824.0h6.2v6.2h-6.2zM2885.0 1830.0h6.2v6.2h-6.2zM2885.0 1872.0h6.2v6.2h-6.2zM2891.0 1848.0h6.2v6.2h-6.2zM2897.0 1818.0h6.2v6.2h-6.2zM2897.0 1866.0h6.2v6.2h-6.2zM2903.0 1872.0h6.2v6.2h-6.2zM2909.0 1860.0h6.2v6.2h-6.2zM2915.0 1818.0h6.2v6.2h-6.2zM2915.0 1848.0h6.2v6.2h-6.2zM2915.0 1866.0h6.2v6.2h-6.2zM2921.0 1710.0h6.2v6.2h-6.2zM2927.0 1806.0h6.2v6.2h-6.2zM2927.0 1860.0h6.2v6.2h-6.2zM2939.0 1836.0h6.2v6.2h-6.2zM2945.0 1794.0h6.2v6.2h-6.2zM2945.0 1866.0h6.2v6.2h-6.2zM2957.0 1722.0h6.2v6.2h-6.2zM2957.0 1824.0h6.2v6.2h-6.2zM2957.0 1830.0h6.2v6.2h-6.2zM2975.0 1728.0h6.2v6.2h-6.2zM2975.0 1830.0h6.2v6.2h-6.2zM2987.0 1740.0h6.2v6.2h-6.2zM2987.0 1836.0h6.2v6.2h-6.2zM2987.0 1854.0h6.2v6.2h-6.2zM2993.0 1722.0h6.2v6.2h-6.2zM2999.0 1764.0h6.2v6.2h-6.2zM3005.0 1770.0h6.2v6.2h-6.2z"/>
<path fill="#404040" d="M2843.0 1794.0h6.2v6.2h-6.2zM2843.0 1872.0h6.2v6.2h-6.2zM2849.0 1740.0h6.2v6.2h-6.2zM2849.0 1764.0h6.2v6.2h-6.2zM2849.0 1782.0h6.2v6.2h-6.2zM2849.0 1794.0h6.2v6.2h-6.2zM2861.0 1722.0h6.2v6.2h-6.2zM2861.0 1728.0h6.2v6.2h-6.2zM2867.0 1722.0h6.2v6.2h-6.2zM2873.0 1770.0h6.2v6.2h-6.2zM2873.0 1794.0h6.2v6.2h-6.2zM2873.0 1806.0h6.2v6.2h-6.2zM2873.0 1854.0h6.2v6.2h-6.2zM2879.0 1722.0h6.2v6.2h-6.2zM2879.0 1740.0h6.2v6.2h-6.2zM2885.0 1794.0h6.2v6.2h-6.2zM2891.0 1722.0h6.2v6.2h-6.2zM2897.0 1710.0h6.2v6.2h-6.2zM2897.0 1728.0h6.2v6.2h-6.2zM2897.0 1800.0h6.2v6.2h-6.2zM2897.0 1830.0h6.2v6.2h-6.2zM2897.0 1836.0h6.2v6.2h-6.2zM2909.0 1722.0h6.2v6.2h-6.2zM2909.0 1794.0h6.2v6.2h-6.2zM2915.0 1836.0h6.2v6.2h-6.2zM2927.0 1818.0h6.2v6.2h-6.2zM2927.0 1842.0h6.2v6.2h-6.2zM2927.0 1866.0h6.2v6.2h-6.2zM2933.0 1830.0h6.2v6.2h-6.2zM2933.0 1836.0h6.2v6.2h-6.2zM2933.0 1842.0h6.2v6.2h-6.2zM2939.0 1800.0h6.2v6.2h-6.2zM2939.0 1812.0h6.2v6.2h-6.2zM2951.0 1854.0h6.2v6.2h-6.2zM2957.0 1872.0h6.2v6.2h-6.2zM2963.0 1800.0h6.2v6.2h-6.2zM2963.0 1818.0h6.2v6.2h-6.2zM2969.0 1722.0h6.2v6.2h-6.2zM2975.0 1788.0h6.2v6.2h-6.2zM2975.0 1794.0h6.2v6.2h-6.2zM2993.0 1746.0h6.2v6.2h-6.2zM2993.0 1794.0h6.2v6.2h-6.2zM2993.0 1848.0h6.2v6.2h-6.2zM2993.0 1866.0h6.2v6.2h-6.2zM2993.0 1872.0h6.2v6.2h-6.2zM2999.0 1752.0h6.2v6.2h-6.2zM2999.0 1806.0h6.2v6.2h-6.2zM3005.0 1818.0h6.2v6.2h-6.2z"/>
<path fill="#2e2e2e" d="M2843.0 1818.0h6.2v6.2h-6.2zM2843.0 1854.0h6.2v6.2h-6.2zM2855.0 1722.0h6.2v6.2h-6.2zM2855.0 1740.0h6.2v6.2h-6.2zM2855.0 1818.0h6.2v6.2h-6.2zM2861.0 1776.0h6.2v6.2h-6.2zM2861.0 1806.0h6.2v6.2h-6.2zM2861.0 1812.0h6.2v6.2h-6.2zM2873.0 1740.0h6.2v6.2h-6.2zM2873.0 1800.0h6.2v6.2h-6.2zM2873.0 1812.0h6.2v6.2h-6.2zM2873.0 1830.0h6.2v6.2h-6.2zM2873.0 1872.0h6.2v6.2h-6.2zM2879.0 1716.0h6.2v6.2h-6.2zM2879.0 1860.0h6.2v6.2h-6.2zM2885.0 1734.0h6.2v6.2h-6.2zM2885.0 1842.0h6.2v6.2h-6.2zM2903.0 1794.0h6.2v6.2h-6.2zM2909.0 1716.0h6.2v6.2h-6.2zM2909.0 1842.0h6.2v6.2h-6.2zM2909.0 1866.0h6.2v6.2h-6.2zM2909.0 1872.0h6.2v6.2h-6.2zM2915.0 1872.0h6.2v6.2h-6.2zM2921.0 1854.0h6.2v6.2h-6.2zM2927.0 1824.0h6.2v6.2h-6.2zM2933.0 1812.0h6.2v6.2h-6.2zM2951.0 1872.0h6.2v6.2h-6.2zM2963.0 1860.0h6.2v6.2h-6.2zM2969.0 1854.0h6.2v6.2h-6.2zM2975.0 1848.0h6.2v6.2h-6.2zM2981.0 1824.0h6.2v6.2h-6.2zM2981.0 1842.0h6.2v6.2h-6.2zM2981.0 1848.0h6.2v6.2h-6.2zM2987.0 1716.0h6.2v6.2h-6.2zM2987.0 1776.0h6.2v6.2h-6.2zM2987.0 1872.0h6.2v6.2h-6.2zM2993.0 1758.0h6.2v6.2h-6.2zM2999.0 1722.0h6.2v6.2h-6.2zM2999.0 1770.0h6.2v6.2h-6.2zM2999.0 1872.0h6.2v6.2h-6.2zM3005.0 1710.0h6.2v6.2h-6.2zM3005.0 1722.0h6.2v6.2h-6.2zM3005.0 1800.0h6.2v6.2h-6.2zM3005.0 1842.0h6.2v6.2h-6.2z"/>
<path fill="#181818" d="M2843.0 1842.0h6.2v6.2h-6.2zM2855.0 1764.0h6.2v6.2h-6.2zM2855.0 1812.0h6.2v6.2h-6.2zM2855.0 1824.0h6.2v6.2h-6.2zM2855.0 1836.0h6.2v6.2h-6.2zM2855.0 1866.0h6.2v6.2h-6.2zM2861.0 1710.0h6.2v6.2h-6.2zM2867.0 1764.0h6.2v6.2h-6.2zM2867.0 1806.0h6.2v6.2h-6.2zM2867.0 1842.0h6.2v6.2h-6.2zM2873.0 1716.0h6.2v6.2h-6.2zM2873.0 1758.0h6.2v6.2h-6.2zM2873.0 1782.0h6.2v6.2h-6.2zM2885.0 1818.0h6.2v6.2h-6.2zM2915.0 1854.0h6.2v6.2h-6.2zM2927.0 1812.0h6.2v6.2h-6.2zM2933.0 1806.0h6.2v6.2h-6.2zM2933.0 1818.0h6.2v6.2h-6.2zM2933.0 1848.0h6.2v6.2h-6.2zM2933.0 1854.0h6.2v6.2h-6.2zM2933.0 1860.0h6.2v6.2h-6.2zM2939.0 1818.0h6.2v6.2h-6.2zM2951.0 1800.0h6.2v6.2h-6.2zM2963.0 1854.0h6.2v6.2h-6.2zM2981.0 1716.0h6.2v6.2h-6.2zM2981.0 1722.0h6.2v6.2h-6.2zM2987.0 1722.0h6.2v6.2h-6.2zM2987.0 1728.0h6.2v6.2h-6.2zM2987.0 1770.0h6.2v6.2h-6.2zM2987.0 1788.0h6.2v6.2h-6.2zM2993.0 1818.0h6.2v6.2h-6.2zM2999.0 1860.0h6.2v6.2h-6.2zM3005.0 1764.0h6.2v6.2h-6.2zM3005.0 1776.0h6.2v6.2h-6.2z"/>
<path fill="#282828" d="M2849.0 1842.0h6.2v6.2h-6.2zM2855.0 1794.0h6.2v6.2h-6.2zM2861.0 1746.0h6.2v6.2h-6.2zM2867.0 1818.0h6.2v6.2h-6.2zM2873.0 1752.0h6.2v6.2h-6.2zM2879.0 1776.0h6.2v6.2h-6.2zM2879.0 1854.0h6.2v6.2h-6.2zM2879.0 1866.0h6.2v6.2h-6.2zM2897.0 1848.0h6.2v6.2h-6.2zM2903.0 1710.0h6.2v6.2h-6.2zM2903.0 1722.0h6.2v6.2h-6.2zM2903.0 1800.0h6.2v6.2h-6.2zM2909.0 1800.0h6.2v6.2h-6.2zM2915.0 1824.0h6.2v6.2h-6.2zM2921.0 1830.0h6.2v6.2h-6.2zM2927.0 1716.0h6.2v6.2h-6.2zM2933.0 1800.0h6.2v6.2h-6.2zM2945.0 1806.0h6.2v6.2h-6.2zM2945.0 1824.0h6.2v6.2h-6.2zM2945.0 1836.0h6.2v6.2h-6.2zM2957.0 1800.0h6.2v6.2h-6.2zM2957.0 1812.0h6.2v6.2h-6.2zM2963.0 1716.0h6.2v6.2h-6.2zM2963.0 1866.0h6.2v6.2h-6.2zM2969.0 1818.0h6.2v6.2h-6.2zM2969.0 1836.0h6.2v6.2h-6.2zM2975.0 1842.0h6.2v6.2h-6.2zM2981.0 1818.0h6.2v6.2h-6.2zM2981.0 1854.0h6.2v6.2h-6.2zM2987.0 1842.0h6.2v6.2h-6.2zM2993.0 1764.0h6.2v6.2h-6.2zM2993.0 1806.0h6.2v6.2h-6.2zM2993.0 1836.0h6.2v6.2h-6.2zM2999.0 1824.0h6.2v6.2h-6.2zM2999.0 1842.0h6.2v6.2h-6.2zM3005.0 1758.0h6.2v6.2h-6.2zM3005.0 1806.0h6.2v6.2h-6.2zM3005.0 1824.0h6.2v6.2h-6.2z"/>
<circle cx="2901.8" cy="1806.1" r="2.2" fill="#bebebe"/>
<circle cx="2921.9" cy="1813.8" r="2.8" fill="#dcdcdc"/>
<circle cx="2941.1" cy="1822.2" r="3.1" fill="#bebebe"/>
<circle cx="2956.2" cy="1828.1" r="1.9" fill="#bebebe"/>
<circle cx="2962.5" cy="1829.3" r="2.7" fill="#bebebe"/>
<circle cx="2942.6" cy="1822.8" r="1.6" fill="#dcdcdc"/>
<circle cx="2954.3" cy="1825.6" r="2.8" fill="#969696"/>
<circle cx="2890.7" cy="1798.9" r="3.9" fill="#f5f5f5"/>
<circle cx="2962.1" cy="1821.8" r="3.8" fill="#ffffff"/>
<circle cx="2895.8" cy="1804.7" r="3.7" fill="#dcdcdc"/>
<circle cx="2961.1" cy="1826.4" r="1.7" fill="#bebebe"/>
<circle cx="2897.4" cy="1813.5" r="3.8" fill="#dcdcdc"/>
<circle cx="2916.2" cy="1821.3" r="3.8" fill="#dcdcdc"/>
<circle cx="2941.9" cy="1820.6" r="3.8" fill="#bebebe"/>
<circle cx="2947.8" cy="1820.2" r="2.2" fill="#dcdcdc"/>
<circle cx="2948.9" cy="1828.3" r="4.1" fill="#ffffff"/>
<circle cx="2890.6" cy="1804.7" r="3.5" fill="#dcdcdc"/>
<circle cx="2923.3" cy="1809.0" r="3.2" fill="#969696"/>
<circle cx="2959.7" cy="1818.6" r="3.5" fill="#f5f5f5"/>
<circle cx="2940.4" cy="1816.4" r="1.7" fill="#bebebe"/>
<circle cx="2958.4" cy="1831.5" r="3.9" fill="#dcdcdc"/>
<circle cx="2961.5" cy="1831.6" r="3.6" fill="#ffffff"/>
<circle cx="2903.1" cy="1801.6" r="3.5" fill="#bebebe"/>
<circle cx="2958.7" cy="1828.4" r="3.3" fill="#bebebe"/>
<circle cx="2921.2" cy="1817.8" r="2.4" fill="#f5f5f5"/>
<circle cx="2936.4" cy="1814.1" r="4.1" fill="#969696"/>
<circle cx="2902.1" cy="1800.2" r="3.6" fill="#bebebe"/>
<circle cx="2938.9" cy="1821.4" r="1.8" fill="#ffffff"/>
<circle cx="2957.0" cy="1818.5" r="3.3" fill="#ffffff"/>
<circle cx="2934.1" cy="1826.2" r="1.8" fill="#bebebe"/>
<circle cx="2903.9" cy="1807.0" r="1.8" fill="#bebebe"/>
<circle cx="2883.0" cy="1796.3" r="1.8" fill="#dcdcdc"/>
<circle cx="2910.2" cy="1810.1" r="1.6" fill="#bebebe"/>
<circle cx="2970.5" cy="1831.6" r="2.0" fill="#bebebe"/>
<circle cx="2968.9" cy="1831.4" r="2.8" fill="#969696"/>
<circle cx="2922.6" cy="1818.1" r="2.0" fill="#969696"/>
<circle cx="2906.3" cy="1812.1" r="3.8" fill="#bebebe"/>
<circle cx="2903.6" cy="1805.5" r="2.1" fill="#ffffff"/>
<circle cx="2960.0" cy="1827.2" r="2.8" fill="#f5f5f5"/>
<circle cx="2955.4" cy="1816.8" r="3.7" fill="#dcdcdc"/>
<circle cx="2949.5" cy="1821.2" r="3.4" fill="#ffffff"/>
<circle cx="2883.5" cy="1810.7" r="3.9" fill="#f5f5f5"/>
<circle cx="2950.5" cy="1825.9" r="3.0" fill="#ffffff"/>
<circle cx="2932.4" cy="1814.2" r="3.7" fill="#bebebe"/>
<circle cx="2965.0" cy="1834.3" r="3.9" fill="#ffffff"/>
<circle cx="2921.8" cy="1817.8" r="2.3" fill="#f5f5f5"/>
<circle cx="2896.9" cy="1809.5" r="3.3" fill="#bebebe"/>
<circle cx="2959.7" cy="1824.1" r="1.6" fill="#f5f5f5"/>
<circle cx="2927.0" cy="1823.7" r="3.5" fill="#bebebe"/>
<circle cx="2965.3" cy="1826.1" r="3.7" fill="#ffffff"/>
<circle cx="2959.5" cy="1826.6" r="1.9" fill="#ffffff"/>
<circle cx="2964.1" cy="1829.9" r="1.7" fill="#f5f5f5"/>
<circle cx="2898.4" cy="1804.2" r="4.1" fill="#969696"/>
<circle cx="2918.7" cy="1807.3" r="2.5" fill="#f5f5f5"/>
<circle cx="2906.8" cy="1805.3" r="3.4" fill="#969696"/>
<circle cx="2915.3" cy="1811.2" r="3.3" fill="#bebebe"/>
<circle cx="2927.3" cy="1806.6" r="4.1" fill="#969696"/>
<circle cx="2924.5" cy="1820.0" r="3.1" fill="#969696"/>
<circle cx="2883.2" cy="1805.9" r="3.0" fill="#ffffff"/>
<circle cx="2930.9" cy="1820.6" r="3.2" fill="#ffffff"/>
<circle cx="2917.3" cy="1804.3" r="1.6" fill="#ffffff"/>
<circle cx="2958.8" cy="1829.6" r="1.6" fill="#969696"/>
<circle cx="2903.6" cy="1812.0" r="1.6" fill="#dcdcdc"/>
<circle cx="2953.0" cy="1827.5" r="3.3" fill="#bebebe"/>
<circle cx="2914.9" cy="1818.6" r="3.9" fill="#f5f5f5"/>
<circle cx="2922.7" cy="1812.7" r="2.1" fill="#bebebe"/>
<circle cx="2893.7" cy="1799.6" r="3.7" fill="#ffffff"/>
<circle cx="2951.7" cy="1832.0" r="3.1" fill="#bebebe"/>
<circle cx="2911.1" cy="1815.2" r="2.1" fill="#bebebe"/>
<circle cx="2938.9" cy="1824.2" r="2.5" fill="#bebebe"/>
<circle cx="2900.6" cy="1800.2" r="2.1" fill="#ffffff"/>
<circle cx="2908.2" cy="1810.7" r="4.1" fill="#dcdcdc"/>
<circle cx="2960.4" cy="1824.7" r="1.7" fill="#f5f5f5"/>
<circle cx="2920.8" cy="1816.0" r="2.3" fill="#ffffff"/>
<circle cx="2921.2" cy="1818.9" r="3.7" fill="#ffffff"/>
<circle cx="2898.2" cy="1813.2" r="2.1" fill="#3c3c3c"/>
<circle cx="2926.0" cy="1812.8" r="1.7" fill="#3c3c3c"/>
<circle cx="2925.5" cy="1804.3" r="2.4" fill="#3c3c3c"/>
<circle cx="2905.5" cy="1798.5" r="2.1" fill="#5a5a5a"/>
<circle cx="2969.1" cy="1834.0" r="2.3" fill="#3c3c3c"/>
<circle cx="2882.7" cy="1806.6" r="2.4" fill="#3c3c3c"/>
<circle cx="2906.5" cy="1790.1" r="1.6" fill="#3c3c3c"/>
<circle cx="2930.3" cy="1809.4" r="2.0" fill="#3c3c3c"/>
<circle cx="2959.0" cy="1816.8" r="2.4" fill="#3c3c3c"/>
<circle cx="2948.8" cy="1834.5" r="2.0" fill="#787878"/>
<circle cx="2957.9" cy="1845.1" r="1.7" fill="#787878"/>
<circle cx="2913.4" cy="1795.6" r="2.2" fill="#3c3c3c"/>
<circle cx="2973.2" cy="1843.3" r="2.3" fill="#5a5a5a"/>
<circle cx="2927.6" cy="1816.0" r="2.3" fill="#3c3c3c"/>
<circle cx="2954.5" cy="1816.8" r="2.4" fill="#5a5a5a"/>
<circle cx="2968.3" cy="1816.6" r="2.5" fill="#3c3c3c"/>
<circle cx="2928.4" cy="1821.2" r="2.5" fill="#5a5a5a"/>
<circle cx="2927.2" cy="1814.3" r="1.7" fill="#3c3c3c"/>
<circle cx="2896.3" cy="1791.9" r="1.9" fill="#5a5a5a"/>
<circle cx="2936.8" cy="1811.7" r="2.0" fill="#787878"/>
<circle cx="2977.4" cy="1826.8" r="2.1" fill="#787878"/>
<circle cx="2951.3" cy="1809.1" r="2.2" fill="#787878"/>
<circle cx="2967.9" cy="1833.3" r="1.8" fill="#5a5a5a"/>
<circle cx="2982.9" cy="1845.7" r="2.3" fill="#3c3c3c"/>
<circle cx="2958.5" cy="1820.7" r="1.5" fill="#787878"/>
<rect x="3031" y="1710" width="168" height="168" fill="#0a0a0a"/>
<path fill="#202020" d="M3031.0 1710.0h6.2v6.2h-6.2zM3031.0 1764.0h6.2v6.2h-6.2zM3031.0 1770.0h6.2v6.2h-6.2zM3031.0 1854.0h6.2v6.2h-6.2zM3037.0 1824.0h6.2v6.2h-6.2zM3049.0 1758.0h6.2v6.2h-6.2zM3049.0 1848.0h6.2v6.2h-6.2zM3055.0 1716.0h6.2v6.2h-6.2zM3055.0 1740.0h6.2v6.2h-6.2zM3067.0 1740.0h6.2v6.2h-6.2zM3067.0 1848.0h6.2v6.2h-6.2zM3073.0 1872.0h6.2v6.2h-6.2zM3079.0 1758.0h6.2v6.2h-6.2zM3079.0 1806.0h6.2v6.2h-6.2zM3091.0 1746.0h6.2v6.2h-6.2zM3091.0 1848.0h6.2v6.2h-6.2zM3091.0 1860.0h6.2v6.2h-6.2zM3097.0 1746.0h6.2v6.2h-6.2zM3103.0 1728.0h6.2v6.2h-6.2zM3103.0 1758.0h6.2v6.2h-6.2zM3121.0 1770.0h6.2v6.2h-6.2zM3121.0 1776.0h6.2v6.2h-6.2zM3127.0 1722.0h6.2v6.2h-6.2zM3139.0 1872.0h6.2v6.2h-6.2zM3163.0 1848.0h6.2v6.2h-6.2zM3169.0 1770.0h6.2v6.2h-6.2zM3175.0 1716.0h6.2v6.2h-6.2zM3175.0 1752.0h6.2v6.2h-6.2zM3175.0 1866.0h6.2v6.2h-6.2zM3181.0 1716.0h6.2v6.2h-6.2zM3181.0 1746.0h6.2v6.2h-6.2zM3181.0 1782.0h6.2v6.2h-6.2zM3181.0 1872.0h6.2v6.2h-6.2zM3193.0 1806.0h6.2v6.2h-6.2zM3193.0 1812.0h6.2v6.2h-6.2zM3193.0 1842.0h6.2v6.2h-6.2zM3193.0 1848.0h6.2v6.2h-6.2zM3193.0 1860.0h6.2v6.2h-6.2z"/>
<path fill="#404040" d="M3031.0 1716.0h6.2v6.2h-6.2zM3031.0 1746.0h6.2v6.2h-6.2zM3031.0 1836.0h6.2v6.2h-6.2zM3037.0 1812.0h6.2v6.2h-6.2zM3043.0 1776.0h6.2v6.2h-6.2zM3049.0 1722.0h6.2v6.2h-6.2zM3049.0 1746.0h6.2v6.2h-6.2zM3055.0 1800.0h6.2v6.2h-6.2zM3061.0 1866.0h6.2v6.2h-6.2zM3067.0 1770.0h6.2v6.2h-6.2zM3079.0 1764.0h6.2v6.2h-6.2zM3079.0 1788.0h6.2v6.2h-6.2zM3085.0 1734.0h6.2v6.2h-6.2zM3085.0 1746.0h6.2v6.2h-6.2zM3091.0 1788.0h6.2v6.2h-6.2zM3091.0 1818.0h6.2v6.2h-6.2zM3091.0 1854.0h6.2v6.2h-6.2zM3103.0 1776.0h6.2v6.2h-6.2zM3103.0 1860.0h6.2v6.2h-6.2zM3109.0 1716.0h6.2v6.2h-6.2zM3109.0 1728.0h6.2v6.2h-6.2zM3115.0 1758.0h6.2v6.2h-6.2zM3115.0 1776.0h6.2v6.2h-6.2zM3115.0 1782.0h6.2v6.2h-6.2zM3115.0 1848.0h6.2v6.2h-6.2zM3121.0 1734.0h6.2v6.2h-6.2zM3127.0 1752.0h6.2v6.2h-6.2zM3133.0 1746.0h6.2v6.2h-6.2zM3133.0 1752.0h6.2v6.2h-6.2zM3139.0 1752.0h6.2v6.2h-6.2zM3145.0 1716.0h6.2v6.2h-6.2zM3151.0 1776.0h6.2v6.2h-6.2zM3151.0 1872.0h6.2v6.2h-6.2zM3157.0 1716.0h6.2v6.2h-6.2zM3169.0 1710.0h6.2v6.2h-6.2zM3169.0 1776.0h6.2v6.2h-6.2zM3169.0 1848.0h6.2v6.2h-6.2zM3175.0 1734.0h6.2v6.2h-6.2zM3175.0 1848.0h6.2v6.2h-6.2zM3181.0 1752.0h6.2v6.2h-6.2zM3187.0 1782.0h6.2v6.2h-6.2zM3193.0 1782.0h6.2v6.2h-6.2z"/>
<path fill="#181818" d="M3031.0 1728.0h6.2v6.2h-6.2zM3031.0 1800.0h6.2v6.2h-6.2zM3031.0 1806.0h6.2v6.2h-6.2zM3037.0 1848.0h6.2v6.2h-6.2zM3043.0 1722.0h6.2v6.2h-6.2zM3043.0 1746.0h6.2v6.2h-6.2zM3049.0 1728.0h6.2v6.2h-6.2zM3049.0 1782.0h6.2v6.2h-6.2zM3055.0 1770.0h6.2v6.2h-6.2zM3061.0 1728.0h6.2v6.2h-6.2zM3061.0 1836.0h6.2v6.2h-6.2zM3061.0 1848.0h6.2v6.2h-6.2zM3061.0 1854.0h6.2v6.2h-6.2zM3067.0 1788.0h6.2v6.2h-6.2zM3073.0 1752.0h6.2v6.2h-6.2zM3073.0 1788.0h6.2v6.2h-6.2zM3085.0 1758.0h6.2v6.2h-6.2zM3085.0 1776.0h6.2v6.2h-6.2zM3085.0 1830.0h6.2v6.2h-6.2zM3085.0 1842.0h6.2v6.2h-6.2zM3097.0 1776.0h6.2v6.2h-6.2zM3109.0 1782.0h6.2v6.2h-6.2zM3109.0 1860.0h6.2v6.2h-6.2zM3121.0 1716.0h6.2v6.2h-6.2zM3121.0 1746.0h6.2v6.2h-6.2zM3121.0 1842.0h6.2v6.2h-6.2zM3121.0 1854.0h6.2v6.2h-6.2zM3121.0 1860.0h6.2v6.2h-6.2zM3121.0 1866.0h6.2v6.2h-6.2zM3133.0 1710.0h6.2v6.2h-6.2zM3133.0 1722.0h6.2v6.2h-6.2zM3145.0 1728.0h6.2v6.2h-6.2zM3145.0 1854.0h6.2v6.2h-6.2zM3145.0 1872.0h6.2v6.2h-6.2zM3157.0 1728.0h6.2v6.2h-6.2zM3163.0 1770.0h6.2v6.2h-6.2zM3163.0 1776.0h6.2v6.2h-6.2zM3163.0 1854.0h6.2v6.2h-6.2zM3175.0 1728.0h6.2v6.2h-6.2zM3175.0 1860.0h6.2v6.2h-6.2zM3187.0 1716.0h6.2v6.2h-6.2zM3187.0 1854.0h6.2v6.2h-6.2zM3187.0 1860.0h6.2v6.2h-6.2zM3193.0 1836.0h6.2v6.2h-6.2z"/>
<path fill="#242424" d="M3031.0 1740.0h6.2v6.2h-6.2zM3037.0 1728.0h6.2v6.2h-6.2zM3037.0 1872.0h6.2v6.2h-6.2zM3043.0 1812.0h6.2v6.2h-6.2zM3049.0 1800.0h6.2v6.2h-6.2zM3049.0 1854.0h6.2v6.2h-6.2zM3049.0 1866.0h6.2v6.2h-6.2zM3055.0 1710.0h6.2v6.2h-6.2zM3055.0 1854.0h6.2v6.2h-6.2zM3055.0 1860.0h6.2v6.2h-6.2zM3061.0 1770.0h6.2v6.2h-6.2zM3067.0 1728.0h6.2v6.2h-6.2zM3067.0 1824.0h6.2v6.2h-6.2zM3073.0 1758.0h6.2v6.2h-6.2zM3073.0 1836.0h6.2v6.2h-6.2zM3079.0 1746.0h6.2v6.2h-6.2zM3079.0 1812.0h6.2v6.2h-6.2zM3085.0 1782.0h6.2v6.2h-6.2zM3085.0 1806.0h6.2v6.2h-6.2zM3085.0 1818.0h6.2v6.2h-6.2zM3091.0 1728.0h6.2v6.2h-6.2zM3103.0 1710.0h6.2v6.2h-6.2zM3103.0 1866.0h6.2v6.2h-6.2zM3109.0 1710.0h6.2v6.2h-6.2zM3109.0 1722.0h6.2v6.2h-6.2zM3115.0 1710.0h6.2v6.2h-6.2zM3115.0 1728.0h6.2v6.2h-6.2zM3115.0 1746.0h6.2v6.2h-6.2zM3133.0 1728.0h6.2v6.2h-6.2zM3145.0 1758.0h6.2v6.2h-6.2zM3151.0 1740.0h6.2v6.2h-6.2zM3157.0 1740.0h6.2v6.2h-6.2zM3157.0 1854.0h6.2v6.2h-6.2zM3157.0 1872.0h6.2v6.2h-6.2zM3163.0 1746.0h6.2v6.2h-6.2zM3163.0 1866.0h6.2v6.2h-6.2zM3169.0 1740.0h6.2v6.2h-6.2zM3169.0 1782.0h6.2v6.2h-6.2zM3169.0 1866.0h6.2v6.2h-6.2zM3187.0 1722.0h6.2v6.2h-6.2zM3193.0 1728.0h6.2v6.2h-6.2zM3193.0 1800.0h6.2v6.2h-6.2z"/>
<path fill="#363636" d="M3031.0 1818.0h6.2v6.2h-6.2zM3037.0 1710.0h6.2v6.2h-6.2zM3037.0 1830.0h6.2v6.2h-6.2zM3043.0 1842.0h6.2v6.2h-6.2zM3043.0 1854.0h6.2v6.2h-6.2zM3049.0 1776.0h6.2v6.2h-6.2zM3049.0 1818.0h6.2v6.2h-6.2zM3055.0 1752.0h6.2v6.2h-6.2zM3055.0 1758.0h6.2v6.2h-6.2zM3055.0 1764.0h6.2v6.2h-6.2zM3055.0 1776.0h6.2v6.2h-6.2zM3061.0 1806.0h6.2v6.2h-6.2zM3061.0 1818.0h6.2v6.2h-6.2zM3067.0 1710.0h6.2v6.2h-6.2zM3067.0 1818.0h6.2v6.2h-6.2zM3067.0 1842.0h6.2v6.2h-6.2zM3079.0 1716.0h6.2v6.2h-6.2zM3079.0 1722.0h6.2v6.2h-6.2zM3079.0 1770.0h6.2v6.2h-6.2zM3085.0 1722.0h6.2v6.2h-6.2zM3085.0 1848.0h6.2v6.2h-6.2zM3091.0 1722.0h6.2v6.2h-6.2zM3091.0 1764.0h6.2v6.2h-6.2zM3103.0 1740.0h6.2v6.2h-6.2zM3115.0 1842.0h6.2v6.2h-6.2zM3121.0 1752.0h6.2v6.2h-6.2zM3127.0 1716.0h6.2v6.2h-6.2zM3127.0 1860.0h6.2v6.2h-6.2zM3133.0 1860.0h6.2v6.2h-6.2zM3133.0 1866.0h6.2v6.2h-6.2zM3139.0 1722.0h6.2v6.2h-6.2zM3139.0 1746.0h6.2v6.2h-6.2zM3151.0 1722.0h6.2v6.2h-6.2zM3163.0 1764.0h6.2v6.2h-6.2zM3163.0 1872.0h6.2v6.2h-6.2zM3169.0 1734.0h6.2v6.2h-6.2zM3181.0 1776.0h6.2v6.2h-6.2zM3187.0 1770.0h6.2v6.2h-6.2zM3187.0 1842.0h6.2v6.2h-6.2zM3187.0 1872.0h6.2v6.2h-6.2zM3193.0 1716.0h6.2v6.2h-6.2zM3193.0 1824.0h6.2v6.2h-6.2z"/>
<path fill="#2e2e2e" d="M3031.0 1848.0h6.2v6.2h-6.2zM3037.0 1770.0h6.2v6.2h-6.2zM3037.0 1854.0h6.2v6.2h-6.2zM3043.0 1758.0h6.2v6.2h-6.2zM3043.0 1872.0h6.2v6.2h-6.2zM3049.0 1710.0h6.2v6.2h-6.2zM3049.0 1740.0h6.2v6.2h-6.2zM3049.0 1752.0h6.2v6.2h-6.2zM3049.0 1764.0h6.2v6.2h-6.2zM3049.0 1812.0h6.2v6.2h-6.2zM3049.0 1830.0h6.2v6.2h-6.2zM3055.0 1824.0h6.2v6.2h-6.2zM3061.0 1824.0h6.2v6.2h-6.2zM3061.0 1872.0h6.2v6.2h-6.2zM3067.0 1800.0h6.2v6.2h-6.2zM3073.0 1854.0h6.2v6.2h-6.2zM3079.0 1818.0h6.2v6.2h-6.2zM3085.0 1728.0h6.2v6.2h-6.2zM3085.0 1872.0h6.2v6.2h-6.2zM3091.0 1710.0h6.2v6.2h-6.2zM3091.0 1716.0h6.2v6.2h-6.2zM3091.0 1776.0h6.2v6.2h-6.2zM3091.0 1800.0h6.2v6.2h-6.2zM3097.0 1794.0h6.2v6.2h-6.2zM3109.0 1764.0h6.2v6.2h-6.2zM3109.0 1848.0h6.2v6.2h-6.2zM3115.0 1866.0h6.2v6.2h-6.2zM3115.0 1872.0h6.2v6.2h-6.2zM3121.0 1728.0h6.2v6.2h-6.2zM3121.0 1848.0h6.2v6.2h-6.2zM3127.0 1776.0h6.2v6.2h-6.2zM3145.0 1746.0h6.2v6.2h-6.2zM3157.0 1776.0h6.2v6.2h-6.2zM3157.0 1866.0h6.2v6.2h-6.2zM3169.0 1854.0h6.2v6.2h-6.2zM3175.0 1740.0h6.2v6.2h-6.2zM3175.0 1764.0h6.2v6.2h-6.2zM3181.0 1734.0h6.2v6.2h-6.2zM3181.0 1854.0h6.2v6.2h-6.2zM3187.0 1836.0h6.2v6.2h-6.2z"/>
<path fill="#282828" d="M3031.0 1860.0h6.2v6.2h-6.2zM3031.0 1872.0h6.2v6.2h-6.2zM3037.0 1800.0h6.2v6.2h-6.2zM3043.0 1740.0h6.2v6.2h-6.2zM3043.0 1824.0h6.2v6.2h-6.2zM3055.0 1746.0h6.2v6.2h-6.2zM3061.0 1722.0h6.2v6.2h-6.2zM3061.0 1746.0h6.2v6.2h-6.2zM3061.0 1782.0h6.2v6.2h-6.2zM3061.0 1812.0h6.2v6.2h-6.2zM3067.0 1830.0h6.2v6.2h-6.2zM3067.0 1866.0h6.2v6.2h-6.2zM3085.0 1716.0h6.2v6.2h-6.2zM3085.0 1860.0h6.2v6.2h-6.2zM3091.0 1758.0h6.2v6.2h-6.2zM3091.0 1770.0h6.2v6.2h-6.2zM3091.0 1794.0h6.2v6.2h-6.2zM3091.0 1830.0h6.2v6.2h-6.2zM3097.0 1716.0h6.2v6.2h-6.2zM3097.0 1728.0h6.2v6.2h-6.2zM3097.0 1770.0h6.2v6.2h-6.2zM3097.0 1788.0h6.2v6.2h-6.2zM3103.0 1764.0h6.2v6.2h-6.2zM3103.0 1770.0h6.2v6.2h-6.2zM3103.0 1836.0h6.2v6.2h-6.2zM3109.0 1734.0h6.2v6.2h-6.2zM3127.0 1770.0h6.2v6.2h-6.2zM3133.0 1770.0h6.2v6.2h-6.2zM3133.0 1854.0h6.2v6.2h-6.2zM3139.0 1764.0h6.2v6.2h-6.2zM3145.0 1770.0h6.2v6.2h-6.2zM3151.0 1710.0h6.2v6.2h-6.2zM3151.0 1770.0h6.2v6.2h-6.2zM3169.0 1746.0h6.2v6.2h-6.2zM3169.0 1842.0h6.2v6.2h-6.2zM3175.0 1758.0h6.2v6.2h-6.2zM3175.0 1842.0h6.2v6.2h-6.2zM3175.0 1854.0h6.2v6.2h-6.2zM3181.0 1860.0h6.2v6.2h-6.2zM3187.0 1752.0h6.2v6.2h-6.2zM3193.0 1764.0h6.2v6.2h-6.2zM3193.0 1788.0h6.2v6.2h-6.2z"/>
<path fill="#1c1c1c" d="M3037.0 1806.0h6.2v6.2h-6.2zM3037.0 1818.0h6.2v6.2h-6.2zM3043.0 1716.0h6.2v6.2h-6.2zM3043.0 1788.0h6.2v6.2h-6.2zM3055.0 1728.0h6.2v6.2h-6.2zM3061.0 1716.0h6.2v6.2h-6.2zM3061.0 1740.0h6.2v6.2h-6.2zM3061.0 1776.0h6.2v6.2h-6.2zM3067.0 1758.0h6.2v6.2h-6.2zM3067.0 1872.0h6.2v6.2h-6.2zM3073.0 1734.0h6.2v6.2h-6.2zM3073.0 1770.0h6.2v6.2h-6.2zM3073.0 1794.0h6.2v6.2h-6.2zM3073.0 1800.0h6.2v6.2h-6.2zM3073.0 1842.0h6.2v6.2h-6.2zM3073.0 1866.0h6.2v6.2h-6.2zM3079.0 1782.0h6.2v6.2h-6.2zM3085.0 1764.0h6.2v6.2h-6.2zM3085.0 1854.0h6.2v6.2h-6.2zM3097.0 1842.0h6.2v6.2h-6.2zM3097.0 1848.0h6.2v6.2h-6.2zM3097.0 1854.0h6.2v6.2h-6.2zM3109.0 1752.0h6.2v6.2h-6.2zM3115.0 1734.0h6.2v6.2h-6.2zM3127.0 1728.0h6.2v6.2h-6.2zM3127.0 1734.0h6.2v6.2h-6.2zM3127.0 1854.0h6.2v6.2h-6.2zM3145.0 1722.0h6.2v6.2h-6.2zM3145.0 1764.0h6.2v6.2h-6.2zM3145.0 1776.0h6.2v6.2h-6.2zM3151.0 1746.0h6.2v6.2h-6.2zM3151.0 1752.0h6.2v6.2h-6.2zM3151.0 1848.0h6.2v6.2h-6.2zM3157.0 1734.0h6.2v6.2h-6.2zM3157.0 1746.0h6.2v6.2h-6.2zM3157.0 1764.0h6.2v6.2h-6.2zM3157.0 1860.0h6.2v6.2h-6.2zM3163.0 1842.0h6.2v6.2h-6.2zM3169.0 1728.0h6.2v6.2h-6.2zM3181.0 1788.0h6.2v6.2h-6.2zM3187.0 1746.0h6.2v6.2h-6.2zM3193.0 1722.0h6.2v6.2h-6.2zM3193.0 1746.0h6.2v6.2h-6.2zM3193.0 1872.0h6.2v6.2h-6.2z"/>
<circle cx="3071.0" cy="1778.5" r="1.8" fill="#969696"/>
<circle cx="3067.0" cy="1775.5" r="3.8" fill="#969696"/>
<circle cx="3074.8" cy="1794.3" r="1.9" fill="#f5f5f5"/>
<circle cx="3070.8" cy="1784.9" r="2.7" fill="#dcdcdc"/>
<circle cx="3078.0" cy="1785.3" r="3.6" fill="#f5f5f5"/>
<circle cx="3075.9" cy="1787.7" r="2.6" fill="#ffffff"/>
<circle cx="3073.6" cy="1787.6" r="2.2" fill="#bebebe"/>
<circle cx="3077.4" cy="1786.3" r="2.3" fill="#bebebe"/>
<circle cx="3072.4" cy="1771.7" r="3.0" fill="#bebebe"/>
<circle cx="3065.3" cy="1780.9" r="3.5" fill="#ffffff"/>
<circle cx="3078.0" cy="1793.1" r="1.7" fill="#ffffff"/>
<circle cx="3074.4" cy="1788.6" r="2.0" fill="#f5f5f5"/>
<circle cx="3074.1" cy="1783.6" r="2.4" fill="#ffffff"/>
<circle cx="3081.3" cy="1790.1" r="3.2" fill="#dcdcdc"/>
<circle cx="3078.6" cy="1777.9" r="1.8" fill="#ffffff"/>
<circle cx="3078.1" cy="1781.7" r="2.1" fill="#f5f5f5"/>
<circle cx="3080.5" cy="1796.3" r="2.8" fill="#bebebe"/>
<circle cx="3081.6" cy="1796.4" r="3.0" fill="#969696"/>
<circle cx="3075.1" cy="1785.0" r="2.2" fill="#bebebe"/>
<circle cx="3078.3" cy="1799.6" r="2.4" fill="#bebebe"/>
<circle cx="3070.2" cy="1770.6" r="3.3" fill="#f5f5f5"/>
<circle cx="3076.4" cy="1788.2" r="2.8" fill="#f5f5f5"/>
<circle cx="3079.6" cy="1786.4" r="1.8" fill="#f5f5f5"/>
<circle cx="3068.1" cy="1775.8" r="3.0" fill="#bebebe"/>
<circle cx="3076.6" cy="1793.9" r="2.0" fill="#969696"/>
<circle cx="3080.9" cy="1786.9" r="3.3" fill="#bebebe"/>
<circle cx="3077.0" cy="1779.8" r="3.7" fill="#f5f5f5"/>
<circle cx="3068.0" cy="1776.9" r="2.9" fill="#969696"/>
<circle cx="3080.5" cy="1788.3" r="1.6" fill="#dcdcdc"/>
<circle cx="3074.0" cy="1788.6" r="2.7" fill="#bebebe"/>
<circle cx="3074.3" cy="1782.2" r="3.1" fill="#dcdcdc"/>
<circle cx="3070.0" cy="1789.7" r="3.2" fill="#969696"/>
<circle cx="3074.8" cy="1778.2" r="2.3" fill="#969696"/>
<circle cx="3078.3" cy="1783.0" r="1.7" fill="#dcdcdc"/>
<circle cx="3081.7" cy="1785.8" r="2.3" fill="#f5f5f5"/>
<circle cx="3173.7" cy="1796.9" r="2.1" fill="#464646"/>
<circle cx="3151.6" cy="1786.6" r="1.8" fill="#6e6e6e"/>
<circle cx="3146.6" cy="1787.5" r="1.9" fill="#464646"/>
<circle cx="3155.0" cy="1791.4" r="1.9" fill="#5a5a5a"/>
<circle cx="3157.9" cy="1794.6" r="2.1" fill="#464646"/>
<circle cx="3152.7" cy="1792.9" r="1.9" fill="#6e6e6e"/>
<circle cx="3170.8" cy="1799.5" r="2.2" fill="#323232"/>
<circle cx="3178.0" cy="1800.8" r="1.7" fill="#323232"/>
<circle cx="3139.2" cy="1791.2" r="2.0" fill="#323232"/>
<circle cx="3135.5" cy="1780.8" r="1.7" fill="#5a5a5a"/>
<circle cx="3141.5" cy="1782.8" r="1.6" fill="#464646"/>
<circle cx="3136.9" cy="1781.2" r="1.8" fill="#464646"/>
<circle cx="3138.4" cy="1785.6" r="1.6" fill="#6e6e6e"/>
<circle cx="3157.6" cy="1786.3" r="1.7" fill="#5a5a5a"/>
<circle cx="3130.5" cy="1786.3" r="1.8" fill="#464646"/>
<circle cx="3144.5" cy="1787.6" r="1.7" fill="#6e6e6e"/>
<circle cx="3150.4" cy="1786.1" r="1.6" fill="#6e6e6e"/>
<circle cx="3146.4" cy="1787.4" r="1.6" fill="#464646"/>
<circle cx="3173.1" cy="1795.4" r="2.1" fill="#6e6e6e"/>
<circle cx="3139.3" cy="1784.8" r="1.9" fill="#323232"/>
<circle cx="3171.1" cy="1793.6" r="1.9" fill="#5a5a5a"/>
<circle cx="3161.8" cy="1794.2" r="2.0" fill="#5a5a5a"/>
<circle cx="3176.7" cy="1796.9" r="2.0" fill="#6e6e6e"/>
<circle cx="3152.5" cy="1785.2" r="2.0" fill="#6e6e6e"/>
<circle cx="3163.0" cy="1788.0" r="2.1" fill="#6e6e6e"/>
<circle cx="3132.1" cy="1779.4" r="1.8" fill="#5a5a5a"/>
<circle cx="3123.7" cy="1782.1" r="1.6" fill="#464646"/>
<circle cx="3131.1" cy="1777.4" r="1.8" fill="#5a5a5a"/>
<circle cx="3140.9" cy="1784.2" r="1.7" fill="#5a5a5a"/>
<circle cx="3136.3" cy="1782.2" r="1.8" fill="#5a5a5a"/>
<defs><linearGradient id="vs" x1="0" y1="0" x2="0" y2="1"><stop offset="0" stop-color="#b4b4b4"/><stop offset="0.25" stop-color="#e0e0e0"/><stop offset="0.6" stop-color="#cfcfcf"/><stop offset="1" stop-color="#a0a0a0"/></linearGradient><linearGradient id="vf" x1="0" y1="0" x2="1" y2="1"><stop offset="0" stop-color="#d0d0d0"/><stop offset="1" stop-color="#929292"/></linearGradient></defs>
<path d="M2832 1376L2863 1369L2995 1377L3000 1392L2950 1428L2935 1470L2858 1452L2842 1450L2829 1433L2825 1403Z" fill="url(#vs)"/>
<path d="M2995 1377L3031 1426L3037 1447L3034 1462L2999 1475L2953 1476L2935 1470L2950 1428L3000 1392Z" fill="url(#vf)"/>
<g stroke="#5e5e5e" stroke-width="1.8" fill="none"><path d="M2832 1376L2863 1369L2995 1377L3031 1426L3037 1447L3034 1462L2999 1475L2953 1476"/><path d="M2836 1388L2990 1396"/><path d="M2829 1412L2915 1422L2950 1428L3030 1440"/><path d="M2912 1394L2914 1421"/><path d="M2921 1398L2988 1402L3018 1428L2952 1424Z" fill="#8a8a8a" fill-opacity="0.5"/><path d="M2955 1460L3034 1447"/><path d="M2957 1467L3031 1455"/><path d="M2830 1430L2905 1442L2925 1452"/><path d="M2862 1400L2864 1432"/></g>
<g stroke="#444" stroke-width="2.2"><ellipse cx="2931" cy="1469" rx="13" ry="16" fill="#a8a8a8"/><ellipse cx="2851" cy="1446" rx="10" ry="11" fill="#a8a8a8"/></g>
<g fill="#dedede"><ellipse cx="2932" cy="1469" rx="6" ry="9"/><ellipse cx="2852" cy="1446" rx="5" ry="6"/></g>
<rect x="3313" y="1367" width="95" height="163" fill="#d4f6fb"/>
<rect x="3288.0" y="1369.3" width="136.5" height="1" fill="#555" opacity="0.75"/>
<rect x="3257.1" y="1372.5" width="172.4" height="1" fill="#555" opacity="0.75"/>
<rect x="3273.5" y="1375.1" width="137.5" height="1" fill="#555" opacity="0.75"/>
<rect x="3299.2" y="1380.8" width="112.1" height="1" fill="#555" opacity="0.75"/>
<rect x="3296.1" y="1383.4" width="134.7" height="1" fill="#555" opacity="0.75"/>
<rect x="3279.9" y="1389.0" width="126.3" height="1" fill="#555" opacity="0.75"/>
<rect x="3261.0" y="1402.8" width="161.5" height="1" fill="#555" opacity="0.75"/>
<rect x="3242.8" y="1413.2" width="160.4" height="1" fill="#555" opacity="0.75"/>
<rect x="3304.2" y="1418.6" width="110.2" height="1" fill="#555" opacity="0.75"/>
<rect x="3260.5" y="1426.9" width="151.1" height="1" fill="#555" opacity="0.75"/>
<rect x="3274.4" y="1430.0" width="140.4" height="1" fill="#555" opacity="0.75"/>
<rect x="3245.9" y="1432.5" width="182.9" height="1" fill="#555" opacity="0.75"/>
<rect x="3298.7" y="1436.1" width="107.4" height="1" fill="#555" opacity="0.75"/>
<rect x="3278.7" y="1439.2" width="131.3" height="1" fill="#555" opacity="0.75"/>
<rect x="3274.2" y="1442.6" width="136.3" height="1" fill="#555" opacity="0.75"/>
<rect x="3296.7" y="1451.4" width="132.5" height="1" fill="#555" opacity="0.75"/>
<rect x="3291.8" y="1454.0" width="132.5" height="1" fill="#555" opacity="0.75"/>
<rect x="3308.3" y="1457.6" width="106.2" height="1" fill="#555" opacity="0.75"/>
<rect x="3274.7" y="1471.0" width="149.5" height="1" fill="#555" opacity="0.75"/>
<rect x="3260.3" y="1473.5" width="156.0" height="1" fill="#555" opacity="0.75"/>
<rect x="3241.9" y="1490.0" width="161.9" height="1" fill="#555" opacity="0.75"/>
<rect x="3240.2" y="1499.9" width="188.1" height="1" fill="#555" opacity="0.75"/>
<rect x="3259.2" y="1509.9" width="169.0" height="1" fill="#555" opacity="0.75"/>
<rect x="3295.3" y="1515.3" width="115.0" height="1" fill="#555" opacity="0.75"/>
<rect x="3258.1" y="1521.5" width="149.8" height="1" fill="#555" opacity="0.75"/>
<rect x="3245.8" y="1528.3" width="153.4" height="1" fill="#555" opacity="0.75"/>
<path fill="#4aa0e8" d="M3325.0 1366.0h7.1v3.0h-7.1zM3332.1 1366.0h11.9v3.0h-11.9zM3380.1 1369.3h5.8v2.2h-5.8zM3368.1 1375.1h7.8v2.2h-7.8zM3376.7 1383.4h9.6v2.6h-9.6zM3334.4 1389.0h13.8v3.0h-13.8zM3378.1 1389.0h10.5v3.0h-10.5zM3361.0 1392.6h7.1v3.0h-7.1zM3346.6 1396.2h7.5v1.8h-7.5zM3374.0 1406.1h12.4v3.0h-12.4zM3376.1 1413.2h12.0v1.8h-12.0zM3361.0 1415.9h9.6v2.2h-9.6zM3346.0 1421.6h15.8v1.8h-15.8zM3367.0 1432.5h6.3v2.6h-6.3zM3321.3 1439.2h14.6v2.6h-14.6zM3363.3 1439.2h7.8v2.6h-7.8zM3327.1 1454.0h11.4v2.6h-11.4zM3329.9 1457.6h6.5v3.0h-6.5zM3337.2 1461.2h6.7v2.6h-6.7zM3343.8 1461.2h7.2v2.6h-7.2zM3356.4 1464.5h13.2v3.0h-13.2zM3352.1 1468.4h8.6v2.2h-8.6zM3330.0 1476.6h13.2v3.0h-13.2zM3343.2 1476.6h6.6v3.0h-6.6zM3362.3 1476.6h11.3v3.0h-11.3zM3373.6 1476.6h11.6v3.0h-11.6zM3359.1 1480.4h12.9v3.0h-12.9zM3361.5 1484.1h11.6v3.0h-11.6zM3336.9 1487.7h13.0v1.8h-13.0zM3344.6 1490.0h15.3v2.6h-15.3zM3378.7 1493.6h8.0v2.2h-8.0zM3358.1 1506.3h14.1v2.6h-14.1zM3365.8 1509.9h6.3v1.8h-6.3zM3348.4 1512.1h7.7v2.6h-7.7zM3363.0 1512.1h11.5v2.6h-11.5zM3368.7 1521.5h12.3v2.6h-12.3zM3335.6 1524.5h7.2v3.0h-7.2z"/>
<path fill="#1a68b8" d="M3344.0 1366.0h9.9v3.0h-9.9zM3386.1 1372.5h13.8v1.8h-13.8zM3331.3 1375.1h14.7v2.2h-14.7zM3362.0 1375.1h6.1v2.2h-6.1zM3334.7 1377.7h14.2v2.2h-14.2zM3348.9 1377.7h7.0v2.2h-7.0zM3351.4 1380.8h7.3v2.2h-7.3zM3364.5 1380.8h5.7v2.2h-5.7zM3370.2 1380.8h10.8v2.2h-10.8zM3363.0 1389.0h15.1v3.0h-15.1zM3355.8 1392.6h5.2v3.0h-5.2zM3368.1 1392.6h7.6v3.0h-7.6zM3366.8 1396.2h16.0v1.8h-16.0zM3382.7 1396.2h13.7v1.8h-13.7zM3378.2 1398.9h6.4v3.0h-6.4zM3348.6 1406.1h11.2v3.0h-11.2zM3388.0 1413.2h6.8v1.8h-6.8zM3377.9 1415.9h5.2v2.2h-5.2zM3336.8 1418.6h7.0v2.2h-7.0zM3377.7 1418.6h8.9v2.2h-8.9zM3334.7 1421.6h11.3v1.8h-11.3zM3373.7 1424.0h10.5v2.2h-10.5zM3345.1 1432.5h15.6v2.6h-15.6zM3349.3 1436.1h7.6v2.6h-7.6zM3356.9 1436.1h12.2v2.6h-12.2zM3369.6 1442.6h8.6v2.2h-8.6zM3345.8 1445.2h9.3v3.0h-9.3zM3366.0 1451.4h9.1v1.8h-9.1zM3338.6 1454.0h6.2v2.6h-6.2zM3356.2 1454.0h11.5v2.6h-11.5zM3325.1 1468.4h6.0v2.2h-6.0zM3357.3 1471.0h13.7v1.8h-13.7zM3350.9 1473.5h12.8v2.2h-12.8zM3369.0 1473.5h5.9v2.2h-5.9zM3332.7 1480.4h11.3v3.0h-11.3zM3344.0 1480.4h6.4v3.0h-6.4zM3366.3 1496.8h11.3v2.2h-11.3zM3377.5 1496.8h13.3v2.2h-13.3zM3332.2 1503.7h9.9v2.2h-9.9zM3336.3 1506.3h14.0v2.6h-14.0zM3352.8 1509.9h13.1v1.8h-13.1zM3372.1 1509.9h10.1v1.8h-10.1zM3334.9 1512.1h13.6v2.6h-13.6zM3356.2 1512.1h6.8v2.6h-6.8zM3384.4 1512.1h14.5v2.6h-14.5zM3346.9 1515.3h12.1v1.8h-12.1zM3359.0 1515.3h9.0v1.8h-9.0zM3368.0 1515.3h13.5v1.8h-13.5zM3346.2 1518.0h10.7v3.0h-10.7zM3385.8 1518.0h9.1v3.0h-9.1zM3342.8 1524.5h12.3v3.0h-12.3zM3332.4 1528.3h14.0v2.6h-14.0z"/>
<path fill="#0f5aa8" d="M3353.9 1366.0h13.9v3.0h-13.9zM3352.5 1369.3h14.2v2.2h-14.2zM3363.4 1377.7h7.1v2.2h-7.1zM3387.5 1380.8h12.2v2.2h-12.2zM3344.7 1383.4h13.1v2.6h-13.1zM3341.4 1392.6h5.5v3.0h-5.5zM3346.9 1392.6h8.9v3.0h-8.9zM3391.5 1392.6h11.9v3.0h-11.9zM3336.4 1396.2h10.2v1.8h-10.2zM3385.4 1402.8h10.7v2.6h-10.7zM3353.4 1413.2h11.9v1.8h-11.9zM3344.1 1415.9h7.6v2.2h-7.6zM3370.7 1415.9h7.2v2.2h-7.2zM3386.6 1418.6h5.1v2.2h-5.1zM3347.4 1424.0h8.0v2.2h-8.0zM3368.8 1430.0h9.5v1.8h-9.5zM3378.3 1430.0h14.9v1.8h-14.9zM3326.1 1436.1h11.7v2.6h-11.7zM3337.8 1436.1h11.5v2.6h-11.5zM3361.3 1442.6h8.3v2.2h-8.3zM3325.3 1445.2h7.4v3.0h-7.4zM3340.5 1445.2h5.3v3.0h-5.3zM3324.1 1448.6h5.9v2.2h-5.9zM3338.4 1448.6h6.6v2.2h-6.6zM3345.0 1448.6h9.6v2.2h-9.6zM3378.1 1448.6h15.7v2.2h-15.7zM3341.3 1451.4h10.8v1.8h-10.8zM3366.9 1468.4h12.5v2.2h-12.5zM3347.9 1471.0h9.4v1.8h-9.4zM3363.7 1473.5h5.3v2.2h-5.3zM3350.4 1480.4h8.7v3.0h-8.7zM3364.5 1487.7h6.8v1.8h-6.8zM3324.1 1490.0h6.6v2.6h-6.6zM3371.2 1493.6h7.6v2.2h-7.6zM3363.4 1499.9h14.1v3.0h-14.1zM3340.3 1509.9h12.5v1.8h-12.5zM3374.5 1512.1h9.9v2.6h-9.9zM3377.9 1518.0h7.9v3.0h-7.9zM3335.6 1521.5h5.3v2.6h-5.3zM3346.0 1521.5h8.3v2.6h-8.3zM3381.0 1521.5h7.6v2.6h-7.6zM3378.5 1524.5h11.1v3.0h-11.1z"/>
<path fill="#2f86d6" d="M3379.3 1366.0h12.2v3.0h-12.2zM3366.7 1369.3h13.3v2.2h-13.3zM3328.4 1372.5h9.6v1.8h-9.6zM3346.1 1375.1h16.0v2.2h-16.0zM3355.9 1377.7h7.5v2.2h-7.5zM3381.6 1377.7h14.7v2.2h-14.7zM3337.0 1380.8h14.4v2.2h-14.4zM3337.6 1386.3h10.1v1.8h-10.1zM3354.1 1396.2h12.7v1.8h-12.7zM3359.7 1406.1h14.3v3.0h-14.3zM3349.9 1410.1h5.7v2.6h-5.7zM3387.4 1410.1h15.1v2.6h-15.1zM3392.0 1415.9h6.3v2.2h-6.3zM3335.4 1424.0h12.0v2.2h-12.0zM3384.1 1424.0h13.4v2.2h-13.4zM3336.9 1426.9h8.7v2.2h-8.7zM3345.7 1426.9h15.6v2.2h-15.6zM3367.4 1426.9h5.8v2.2h-5.8zM3323.6 1432.5h7.7v2.6h-7.7zM3360.7 1432.5h6.3v2.6h-6.3zM3382.4 1436.1h6.1v2.6h-6.1zM3335.9 1439.2h13.9v2.6h-13.9zM3377.8 1439.2h8.6v2.6h-8.6zM3346.3 1442.6h15.0v2.2h-15.0zM3364.1 1445.2h14.2v3.0h-14.2zM3354.6 1448.6h13.4v2.2h-13.4zM3326.6 1451.4h14.8v1.8h-14.8zM3375.1 1451.4h9.3v1.8h-9.3zM3344.7 1454.0h11.5v2.6h-11.5zM3336.4 1457.6h10.8v3.0h-10.8zM3325.4 1461.2h11.8v2.6h-11.8zM3360.8 1468.4h6.1v2.2h-6.1zM3332.8 1471.0h15.1v1.8h-15.1zM3324.4 1473.5h10.6v2.2h-10.6zM3327.4 1480.4h5.4v3.0h-5.4zM3372.0 1480.4h15.6v3.0h-15.6zM3324.2 1484.1h6.3v3.0h-6.3zM3333.3 1496.8h9.8v2.2h-9.8zM3349.8 1499.9h13.6v3.0h-13.6zM3377.5 1499.9h10.7v3.0h-10.7zM3342.2 1503.7h11.7v2.2h-11.7zM3378.1 1503.7h15.0v2.2h-15.0zM3382.2 1509.9h8.7v1.8h-8.7zM3390.9 1509.9h6.8v1.8h-6.8zM3365.3 1518.0h12.6v3.0h-12.6zM3354.3 1521.5h14.4v2.6h-14.4zM3355.6 1528.3h9.0v2.6h-9.0z"/>
<path fill="#9ee8f4" d="M3391.5 1366.0h11.9v3.0h-11.9zM3399.9 1372.5h7.1v1.8h-7.1zM3316.8 1375.1h14.5v2.2h-14.5zM3399.8 1380.8h15.4v2.2h-15.4zM3396.8 1383.4h9.2v2.6h-9.2zM3324.5 1386.3h13.1v1.8h-13.1zM3397.0 1386.3h11.7v1.8h-11.7zM3321.8 1398.9h11.3v3.0h-11.3zM3402.6 1410.1h7.1v2.6h-7.1zM3390.6 1432.5h7.9v2.6h-7.9zM3312.9 1442.6h5.9v2.2h-5.9zM3313.1 1448.6h11.0v2.2h-11.0zM3383.4 1457.6h12.8v3.0h-12.8zM3383.0 1461.2h11.5v2.6h-11.5zM3387.6 1480.4h8.8v3.0h-8.8zM3386.8 1493.6h14.7v2.2h-14.7zM3410.2 1524.5h9.1v3.0h-9.1z"/>
<path fill="#3a9a9a" d="M3323.2 1369.3h7.6v2.2h-7.6zM3325.8 1383.4h13.0v2.6h-13.0zM3314.2 1436.1h11.9v2.6h-11.9zM3311.5 1445.2h13.8v3.0h-13.8zM3382.6 1454.0h13.3v2.6h-13.3zM3395.9 1471.0h8.7v1.8h-8.7zM3384.5 1473.5h15.2v2.2h-15.2z"/>
<path fill="#1e70c0" d="M3330.7 1369.3h12.3v2.2h-12.3zM3376.0 1375.1h14.1v2.2h-14.1zM3330.6 1380.8h6.4v2.2h-6.4zM3358.8 1380.8h5.8v2.2h-5.8zM3338.9 1383.4h5.8v2.6h-5.8zM3366.9 1386.3h12.7v1.8h-12.7zM3379.6 1386.3h12.3v1.8h-12.3zM3348.3 1389.0h14.7v3.0h-14.7zM3333.0 1398.9h15.4v3.0h-15.4zM3329.7 1402.8h8.8v2.6h-8.8zM3348.8 1402.8h14.5v2.6h-14.5zM3370.3 1402.8h15.1v2.6h-15.1zM3370.7 1410.1h8.0v2.6h-8.0zM3332.6 1413.2h7.7v1.8h-7.7zM3365.2 1413.2h10.8v1.8h-10.8zM3351.8 1415.9h9.3v2.2h-9.3zM3369.1 1418.6h8.6v2.2h-8.6zM3355.4 1424.0h7.4v2.2h-7.4zM3362.8 1424.0h10.9v2.2h-10.9zM3361.3 1426.9h6.1v2.2h-6.1zM3325.9 1430.0h10.8v1.8h-10.8zM3331.2 1432.5h13.9v2.6h-13.9zM3384.1 1432.5h6.5v2.6h-6.5zM3349.8 1439.2h13.5v2.6h-13.5zM3318.8 1442.6h14.0v2.2h-14.0zM3355.0 1445.2h9.1v3.0h-9.1zM3378.3 1445.2h6.0v3.0h-6.0zM3352.1 1451.4h6.2v1.8h-6.2zM3367.8 1454.0h14.8v2.6h-14.8zM3368.5 1457.6h15.0v3.0h-15.0zM3333.4 1464.5h11.1v3.0h-11.1zM3350.2 1464.5h6.2v3.0h-6.2zM3344.1 1468.4h8.0v2.2h-8.0zM3318.8 1471.0h14.0v1.8h-14.0zM3330.5 1484.1h10.7v3.0h-10.7zM3349.7 1484.1h11.8v3.0h-11.8zM3349.9 1487.7h14.5v1.8h-14.5zM3337.5 1493.6h13.6v2.2h-13.6zM3353.8 1503.7h9.8v2.2h-9.8zM3350.4 1506.3h7.7v2.6h-7.7zM3372.2 1506.3h8.5v2.6h-8.5zM3339.0 1515.3h7.9v1.8h-7.9zM3356.8 1518.0h8.4v3.0h-8.4zM3355.1 1524.5h13.2v3.0h-13.2zM3372.0 1528.3h11.8v2.6h-11.8z"/>
<path fill="#3a90e0" d="M3385.8 1369.3h6.2v2.2h-6.2zM3338.0 1372.5h13.6v1.8h-13.6zM3357.8 1383.4h6.4v2.6h-6.4zM3391.8 1386.3h5.1v1.8h-5.1zM3327.3 1392.6h14.1v3.0h-14.1zM3384.6 1398.9h15.8v3.0h-15.8zM3363.4 1402.8h6.9v2.6h-6.9zM3337.8 1406.1h10.8v3.0h-10.8zM3386.4 1406.1h11.7v3.0h-11.7zM3383.4 1421.6h6.5v1.8h-6.5zM3330.9 1426.9h6.1v2.2h-6.1zM3336.7 1430.0h11.2v1.8h-11.2zM3378.2 1442.6h12.2v2.2h-12.2zM3332.8 1445.2h7.7v3.0h-7.7zM3368.1 1448.6h10.0v2.2h-10.0zM3351.1 1461.2h6.4v2.6h-6.4zM3324.9 1464.5h8.4v3.0h-8.4zM3331.1 1468.4h13.0v2.2h-13.0zM3382.7 1471.0h7.1v1.8h-7.1zM3374.9 1473.5h9.6v2.2h-9.6zM3318.8 1476.6h11.2v3.0h-11.2zM3349.8 1476.6h12.5v3.0h-12.5zM3336.2 1490.0h8.5v2.6h-8.5zM3359.9 1490.0h7.3v2.6h-7.3zM3379.8 1490.0h14.2v2.6h-14.2zM3351.1 1493.6h7.5v2.2h-7.5zM3358.6 1493.6h12.6v2.2h-12.6zM3358.2 1496.8h8.1v2.2h-8.1zM3334.8 1499.9h15.0v3.0h-15.0zM3368.3 1524.5h10.3v3.0h-10.3z"/>
<path fill="#2a80d0" d="M3360.0 1372.5h13.3v1.8h-13.3zM3373.3 1372.5h12.8v1.8h-12.8zM3364.2 1383.4h12.5v2.6h-12.5zM3386.3 1383.4h10.5v2.6h-10.5zM3347.7 1386.3h13.3v1.8h-13.3zM3360.9 1386.3h6.0v1.8h-6.0zM3375.7 1392.6h15.8v3.0h-15.8zM3348.4 1398.9h15.8v3.0h-15.8zM3338.5 1402.8h10.4v2.6h-10.4zM3343.6 1410.1h6.3v2.6h-6.3zM3340.3 1413.2h13.0v1.8h-13.0zM3328.1 1415.9h16.0v2.2h-16.0zM3350.5 1418.6h6.0v2.2h-6.0zM3356.6 1418.6h12.5v2.2h-12.5zM3361.8 1421.6h8.1v1.8h-8.1zM3347.9 1430.0h13.2v1.8h-13.2zM3361.1 1430.0h7.7v1.8h-7.7zM3373.3 1432.5h10.8v2.6h-10.8zM3398.5 1432.5h9.0v2.6h-9.0zM3369.1 1436.1h5.4v2.6h-5.4zM3374.6 1436.1h7.9v2.6h-7.9zM3388.5 1436.1h13.3v2.6h-13.3zM3332.7 1442.6h13.5v2.2h-13.5zM3330.0 1448.6h8.5v2.2h-8.5zM3322.5 1457.6h7.4v3.0h-7.4zM3347.2 1457.6h13.7v3.0h-13.7zM3360.8 1457.6h7.6v3.0h-7.6zM3357.5 1461.2h12.9v2.6h-12.9zM3344.5 1464.5h5.7v3.0h-5.7zM3369.6 1464.5h12.2v3.0h-12.2zM3379.4 1468.4h7.1v2.2h-7.1zM3371.0 1471.0h11.7v1.8h-11.7zM3390.5 1476.6h15.2v3.0h-15.2zM3341.2 1484.1h8.5v3.0h-8.5zM3373.1 1484.1h14.7v3.0h-14.7zM3371.3 1487.7h11.2v1.8h-11.2zM3382.5 1487.7h13.7v1.8h-13.7zM3330.7 1490.0h5.5v2.6h-5.5zM3367.2 1490.0h12.6v2.6h-12.6zM3394.0 1490.0h5.2v2.6h-5.2zM3343.2 1496.8h15.0v2.2h-15.0zM3401.8 1499.9h9.8v3.0h-9.8zM3325.0 1503.7h7.2v2.2h-7.2zM3363.6 1503.7h14.4v2.2h-14.4zM3393.0 1503.7h11.4v2.2h-11.4zM3380.7 1506.3h7.4v2.6h-7.4zM3381.5 1515.3h13.0v1.8h-13.0zM3338.6 1518.0h7.6v3.0h-7.6zM3388.6 1521.5h13.8v2.6h-13.8zM3389.6 1524.5h14.9v3.0h-14.9zM3364.6 1528.3h7.4v2.6h-7.4zM3383.8 1528.3h5.7v2.6h-5.7z"/>
<path fill="#b8f6ff" d="M3396.3 1377.7h5.5v2.2h-5.5zM3328.8 1410.1h5.3v2.6h-5.3zM3384.3 1445.2h8.1v3.0h-8.1zM3384.4 1451.4h15.7v1.8h-15.7zM3309.0 1457.6h13.5v3.0h-13.5zM3386.5 1468.4h11.5v2.2h-11.5zM3390.9 1496.8h13.1v2.2h-13.1zM3403.9 1496.8h14.9v2.2h-14.9z"/>
<path fill="#d0fbff" d="M3394.0 1389.0h8.0v3.0h-8.0zM3402.0 1389.0h10.2v3.0h-10.2zM3394.8 1413.2h10.9v1.8h-10.9zM3319.7 1415.9h8.5v2.2h-8.5zM3312.2 1471.0h6.5v1.8h-6.5zM3385.2 1476.6h5.4v3.0h-5.4zM3387.8 1484.1h14.3v3.0h-14.3zM3388.2 1499.9h13.6v3.0h-13.6zM3320.4 1512.1h14.5v2.6h-14.5z"/>
<path fill="#58b8c0" d="M3321.8 1418.6h15.0v2.2h-15.0zM3391.7 1418.6h7.2v2.2h-7.2zM3389.9 1421.6h12.6v1.8h-12.6zM3312.2 1451.4h14.4v1.8h-14.4zM3394.5 1461.2h13.7v2.6h-13.7zM3381.8 1464.5h12.8v3.0h-12.8zM3394.6 1464.5h11.2v3.0h-11.2zM3309.6 1468.4h15.5v2.2h-15.5zM3389.8 1471.0h6.2v1.8h-6.2zM3314.7 1484.1h9.5v3.0h-9.5zM3396.2 1487.7h11.3v1.8h-11.3zM3323.0 1493.6h8.0v2.2h-8.0zM3322.9 1506.3h13.4v2.6h-13.4zM3401.4 1506.3h6.6v2.6h-6.6zM3394.5 1515.3h8.5v1.8h-8.5zM3394.9 1518.0h10.9v3.0h-10.9zM3404.6 1524.5h5.7v3.0h-5.7z"/>
<rect x="3512" y="1350.5" width="181.5" height="180" fill="#8a8a8a"/>
<path fill="#aaaaaa" d="M3512.0 1350.5h4.1v4.1h-4.1zM3512.0 1362.3h4.1v4.1h-4.1zM3512.0 1386.0h4.1v4.1h-4.1zM3512.0 1409.7h4.1v4.1h-4.1zM3512.0 1464.9h4.1v4.1h-4.1zM3512.0 1468.9h4.1v4.1h-4.1zM3515.9 1382.1h4.1v4.1h-4.1zM3515.9 1417.6h4.1v4.1h-4.1zM3515.9 1484.7h4.1v4.1h-4.1zM3519.9 1429.4h4.1v4.1h-4.1zM3519.9 1453.1h4.1v4.1h-4.1zM3519.9 1457.0h4.1v4.1h-4.1zM3519.9 1464.9h4.1v4.1h-4.1zM3519.9 1476.8h4.1v4.1h-4.1zM3519.9 1508.3h4.1v4.1h-4.1zM3519.9 1520.2h4.1v4.1h-4.1zM3523.8 1370.2h4.1v4.1h-4.1zM3523.8 1374.2h4.1v4.1h-4.1zM3523.8 1386.0h4.1v4.1h-4.1zM3523.8 1397.8h4.1v4.1h-4.1zM3523.8 1405.7h4.1v4.1h-4.1zM3523.8 1421.5h4.1v4.1h-4.1zM3523.8 1429.4h4.1v4.1h-4.1zM3523.8 1449.1h4.1v4.1h-4.1zM3523.8 1492.5h4.1v4.1h-4.1zM3523.8 1520.2h4.1v4.1h-4.1zM3527.8 1354.4h4.1v4.1h-4.1zM3527.8 1358.4h4.1v4.1h-4.1zM3527.8 1362.3h4.1v4.1h-4.1zM3527.8 1397.8h4.1v4.1h-4.1zM3527.8 1453.1h4.1v4.1h-4.1zM3527.8 1457.0h4.1v4.1h-4.1zM3527.8 1512.3h4.1v4.1h-4.1zM3527.8 1520.2h4.1v4.1h-4.1zM3527.8 1524.1h4.1v4.1h-4.1zM3531.7 1354.4h4.1v4.1h-4.1zM3531.7 1370.2h4.1v4.1h-4.1zM3531.7 1393.9h4.1v4.1h-4.1zM3531.7 1401.8h4.1v4.1h-4.1zM3531.7 1441.2h4.1v4.1h-4.1zM3531.7 1488.6h4.1v4.1h-4.1zM3531.7 1528.1h4.1v4.1h-4.1zM3535.7 1464.9h4.1v4.1h-4.1zM3539.6 1386.0h4.1v4.1h-4.1zM3539.6 1413.6h4.1v4.1h-4.1zM3539.6 1417.6h4.1v4.1h-4.1zM3539.6 1461.0h4.1v4.1h-4.1zM3539.6 1472.8h4.1v4.1h-4.1zM3543.6 1374.2h4.1v4.1h-4.1zM3543.6 1378.1h4.1v4.1h-4.1zM3543.6 1393.9h4.1v4.1h-4.1zM3543.6 1397.8h4.1v4.1h-4.1zM3543.6 1409.7h4.1v4.1h-4.1zM3543.6 1421.5h4.1v4.1h-4.1zM3543.6 1476.8h4.1v4.1h-4.1zM3543.6 1496.5h4.1v4.1h-4.1zM3547.5 1374.2h4.1v4.1h-4.1zM3547.5 1386.0h4.1v4.1h-4.1zM3547.5 1390.0h4.1v4.1h-4.1zM3547.5 1405.7h4.1v4.1h-4.1zM3547.5 1433.4h4.1v4.1h-4.1zM3547.5 1488.6h4.1v4.1h-4.1zM3547.5 1492.5h4.1v4.1h-4.1zM3551.5 1350.5h4.1v4.1h-4.1zM3551.5 1382.1h4.1v4.1h-4.1zM3551.5 1390.0h4.1v4.1h-4.1zM3551.5 1421.5h4.1v4.1h-4.1zM3551.5 1429.4h4.1v4.1h-4.1zM3551.5 1480.7h4.1v4.1h-4.1zM3551.5 1484.7h4.1v4.1h-4.1zM3555.4 1437.3h4.1v4.1h-4.1zM3555.4 1500.4h4.1v4.1h-4.1zM3559.3 1433.4h4.1v4.1h-4.1zM3559.3 1488.6h4.1v4.1h-4.1zM3559.3 1512.3h4.1v4.1h-4.1zM3559.3 1520.2h4.1v4.1h-4.1zM3563.3 1350.5h4.1v4.1h-4.1zM3563.3 1397.8h4.1v4.1h-4.1zM3563.3 1401.8h4.1v4.1h-4.1zM3563.3 1488.6h4.1v4.1h-4.1zM3563.3 1504.4h4.1v4.1h-4.1zM3563.3 1508.3h4.1v4.1h-4.1zM3567.2 1354.4h4.1v4.1h-4.1zM3567.2 1397.8h4.1v4.1h-4.1zM3567.2 1425.5h4.1v4.1h-4.1zM3567.2 1429.4h4.1v4.1h-4.1zM3567.2 1441.2h4.1v4.1h-4.1zM3567.2 1453.1h4.1v4.1h-4.1zM3567.2 1461.0h4.1v4.1h-4.1zM3567.2 1504.4h4.1v4.1h-4.1zM3571.2 1366.3h4.1v4.1h-4.1zM3571.2 1378.1h4.1v4.1h-4.1zM3571.2 1386.0h4.1v4.1h-4.1zM3571.2 1464.9h4.1v4.1h-4.1zM3571.2 1480.7h4.1v4.1h-4.1zM3571.2 1484.7h4.1v4.1h-4.1zM3571.2 1508.3h4.1v4.1h-4.1zM3575.1 1417.6h4.1v4.1h-4.1zM3575.1 1425.5h4.1v4.1h-4.1zM3575.1 1512.3h4.1v4.1h-4.1zM3579.1 1370.2h4.1v4.1h-4.1zM3579.1 1386.0h4.1v4.1h-4.1zM3579.1 1453.1h4.1v4.1h-4.1zM3579.1 1516.2h4.1v4.1h-4.1zM3579.1 1528.1h4.1v4.1h-4.1zM3583.0 1358.4h4.1v4.1h-4.1zM3583.0 1390.0h4.1v4.1h-4.1zM3583.0 1397.8h4.1v4.1h-4.1zM3583.0 1417.6h4.1v4.1h-4.1zM3583.0 1421.5h4.1v4.1h-4.1zM3583.0 1429.4h4.1v4.1h-4.1zM3583.0 1484.7h4.1v4.1h-4.1zM3583.0 1496.5h4.1v4.1h-4.1zM3587.0 1370.2h4.1v4.1h-4.1zM3587.0 1374.2h4.1v4.1h-4.1zM3587.0 1409.7h4.1v4.1h-4.1zM3587.0 1421.5h4.1v4.1h-4.1zM3587.0 1453.1h4.1v4.1h-4.1zM3587.0 1457.0h4.1v4.1h-4.1zM3587.0 1464.9h4.1v4.1h-4.1zM3590.9 1354.4h4.1v4.1h-4.1zM3590.9 1374.2h4.1v4.1h-4.1zM3590.9 1390.0h4.1v4.1h-4.1zM3590.9 1405.7h4.1v4.1h-4.1zM3590.9 1488.6h4.1v4.1h-4.1zM3594.9 1350.5h4.1v4.1h-4.1zM3594.9 1405.7h4.1v4.1h-4.1zM3594.9 1425.5h4.1v4.1h-4.1zM3594.9 1441.2h4.1v4.1h-4.1zM3594.9 1453.1h4.1v4.1h-4.1zM3594.9 1468.9h4.1v4.1h-4.1zM3594.9 1496.5h4.1v4.1h-4.1zM3598.8 1366.3h4.1v4.1h-4.1zM3598.8 1437.3h4.1v4.1h-4.1zM3598.8 1504.4h4.1v4.1h-4.1zM3598.8 1524.1h4.1v4.1h-4.1zM3602.8 1409.7h4.1v4.1h-4.1zM3602.8 1472.8h4.1v4.1h-4.1zM3602.8 1508.3h4.1v4.1h-4.1zM3602.8 1524.1h4.1v4.1h-4.1zM3602.8 1528.1h4.1v4.1h-4.1zM3606.7 1354.4h4.1v4.1h-4.1zM3606.7 1366.3h4.1v4.1h-4.1zM3606.7 1397.8h4.1v4.1h-4.1zM3606.7 1421.5h4.1v4.1h-4.1zM3606.7 1476.8h4.1v4.1h-4.1zM3610.6 1417.6h4.1v4.1h-4.1zM3610.6 1441.2h4.1v4.1h-4.1zM3610.6 1461.0h4.1v4.1h-4.1zM3614.6 1366.3h4.1v4.1h-4.1zM3614.6 1374.2h4.1v4.1h-4.1zM3614.6 1401.8h4.1v4.1h-4.1zM3614.6 1429.4h4.1v4.1h-4.1zM3614.6 1457.0h4.1v4.1h-4.1zM3614.6 1461.0h4.1v4.1h-4.1zM3614.6 1472.8h4.1v4.1h-4.1zM3614.6 1484.7h4.1v4.1h-4.1zM3618.5 1405.7h4.1v4.1h-4.1zM3618.5 1457.0h4.1v4.1h-4.1zM3618.5 1504.4h4.1v4.1h-4.1zM3618.5 1524.1h4.1v4.1h-4.1zM3622.5 1370.2h4.1v4.1h-4.1zM3622.5 1461.0h4.1v4.1h-4.1zM3622.5 1504.4h4.1v4.1h-4.1zM3626.4 1386.0h4.1v4.1h-4.1zM3626.4 1437.3h4.1v4.1h-4.1zM3626.4 1476.8h4.1v4.1h-4.1zM3626.4 1524.1h4.1v4.1h-4.1zM3630.4 1350.5h4.1v4.1h-4.1zM3630.4 1393.9h4.1v4.1h-4.1zM3630.4 1397.8h4.1v4.1h-4.1zM3630.4 1429.4h4.1v4.1h-4.1zM3630.4 1457.0h4.1v4.1h-4.1zM3630.4 1508.3h4.1v4.1h-4.1zM3634.3 1393.9h4.1v4.1h-4.1zM3634.3 1461.0h4.1v4.1h-4.1zM3634.3 1512.3h4.1v4.1h-4.1zM3634.3 1524.1h4.1v4.1h-4.1zM3638.3 1358.4h4.1v4.1h-4.1zM3638.3 1382.1h4.1v4.1h-4.1zM3638.3 1413.6h4.1v4.1h-4.1zM3638.3 1417.6h4.1v4.1h-4.1zM3638.3 1441.2h4.1v4.1h-4.1zM3642.2 1350.5h4.1v4.1h-4.1zM3642.2 1433.4h4.1v4.1h-4.1zM3642.2 1445.2h4.1v4.1h-4.1zM3642.2 1492.5h4.1v4.1h-4.1zM3642.2 1504.4h4.1v4.1h-4.1zM3646.2 1382.1h4.1v4.1h-4.1zM3646.2 1413.6h4.1v4.1h-4.1zM3646.2 1453.1h4.1v4.1h-4.1zM3646.2 1476.8h4.1v4.1h-4.1zM3646.2 1484.7h4.1v4.1h-4.1zM3646.2 1500.4h4.1v4.1h-4.1zM3650.1 1393.9h4.1v4.1h-4.1zM3650.1 1461.0h4.1v4.1h-4.1zM3650.1 1508.3h4.1v4.1h-4.1zM3650.1 1520.2h4.1v4.1h-4.1zM3654.0 1382.1h4.1v4.1h-4.1zM3654.0 1393.9h4.1v4.1h-4.1zM3654.0 1397.8h4.1v4.1h-4.1zM3654.0 1405.7h4.1v4.1h-4.1zM3654.0 1453.1h4.1v4.1h-4.1zM3654.0 1472.8h4.1v4.1h-4.1zM3654.0 1524.1h4.1v4.1h-4.1zM3658.0 1461.0h4.1v4.1h-4.1zM3658.0 1476.8h4.1v4.1h-4.1zM3658.0 1484.7h4.1v4.1h-4.1zM3658.0 1524.1h4.1v4.1h-4.1zM3661.9 1362.3h4.1v4.1h-4.1zM3661.9 1366.3h4.1v4.1h-4.1zM3661.9 1374.2h4.1v4.1h-4.1zM3661.9 1382.1h4.1v4.1h-4.1zM3661.9 1390.0h4.1v4.1h-4.1zM3661.9 1401.8h4.1v4.1h-4.1zM3661.9 1492.5h4.1v4.1h-4.1zM3661.9 1528.1h4.1v4.1h-4.1zM3665.9 1358.4h4.1v4.1h-4.1zM3665.9 1382.1h4.1v4.1h-4.1zM3665.9 1393.9h4.1v4.1h-4.1zM3665.9 1409.7h4.1v4.1h-4.1zM3665.9 1421.5h4.1v4.1h-4.1zM3665.9 1461.0h4.1v4.1h-4.1zM3665.9 1464.9h4.1v4.1h-4.1zM3665.9 1520.2h4.1v4.1h-4.1zM3669.8 1362.3h4.1v4.1h-4.1zM3669.8 1370.2h4.1v4.1h-4.1zM3669.8 1386.0h4.1v4.1h-4.1zM3669.8 1421.5h4.1v4.1h-4.1zM3669.8 1464.9h4.1v4.1h-4.1zM3669.8 1476.8h4.1v4.1h-4.1zM3669.8 1516.2h4.1v4.1h-4.1zM3673.8 1362.3h4.1v4.1h-4.1zM3673.8 1386.0h4.1v4.1h-4.1zM3673.8 1390.0h4.1v4.1h-4.1zM3673.8 1405.7h4.1v4.1h-4.1zM3673.8 1484.7h4.1v4.1h-4.1zM3677.7 1350.5h4.1v4.1h-4.1zM3677.7 1370.2h4.1v4.1h-4.1zM3677.7 1421.5h4.1v4.1h-4.1zM3677.7 1496.5h4.1v4.1h-4.1zM3677.7 1500.4h4.1v4.1h-4.1zM3677.7 1516.2h4.1v4.1h-4.1zM3681.7 1366.3h4.1v4.1h-4.1zM3681.7 1390.0h4.1v4.1h-4.1zM3681.7 1429.4h4.1v4.1h-4.1zM3681.7 1472.8h4.1v4.1h-4.1zM3681.7 1476.8h4.1v4.1h-4.1zM3681.7 1500.4h4.1v4.1h-4.1zM3685.6 1378.1h4.1v4.1h-4.1zM3685.6 1421.5h4.1v4.1h-4.1zM3685.6 1480.7h4.1v4.1h-4.1zM3685.6 1492.5h4.1v4.1h-4.1zM3689.6 1362.3h4.1v4.1h-4.1zM3689.6 1405.7h4.1v4.1h-4.1zM3689.6 1409.7h4.1v4.1h-4.1zM3689.6 1464.9h4.1v4.1h-4.1zM3689.6 1484.7h4.1v4.1h-4.1z"/>
<path fill="#787878" d="M3512.0 1354.4h4.1v4.1h-4.1zM3512.0 1393.9h4.1v4.1h-4.1zM3512.0 1429.4h4.1v4.1h-4.1zM3512.0 1453.1h4.1v4.1h-4.1zM3512.0 1461.0h4.1v4.1h-4.1zM3512.0 1472.8h4.1v4.1h-4.1zM3515.9 1358.4h4.1v4.1h-4.1zM3515.9 1393.9h4.1v4.1h-4.1zM3515.9 1397.8h4.1v4.1h-4.1zM3515.9 1492.5h4.1v4.1h-4.1zM3515.9 1496.5h4.1v4.1h-4.1zM3515.9 1520.2h4.1v4.1h-4.1zM3515.9 1528.1h4.1v4.1h-4.1zM3519.9 1362.3h4.1v4.1h-4.1zM3519.9 1378.1h4.1v4.1h-4.1zM3519.9 1390.0h4.1v4.1h-4.1zM3519.9 1393.9h4.1v4.1h-4.1zM3519.9 1405.7h4.1v4.1h-4.1zM3519.9 1409.7h4.1v4.1h-4.1zM3523.8 1366.3h4.1v4.1h-4.1zM3523.8 1390.0h4.1v4.1h-4.1zM3523.8 1417.6h4.1v4.1h-4.1zM3523.8 1425.5h4.1v4.1h-4.1zM3523.8 1464.9h4.1v4.1h-4.1zM3523.8 1468.9h4.1v4.1h-4.1zM3523.8 1512.3h4.1v4.1h-4.1zM3527.8 1366.3h4.1v4.1h-4.1zM3527.8 1378.1h4.1v4.1h-4.1zM3527.8 1441.2h4.1v4.1h-4.1zM3527.8 1476.8h4.1v4.1h-4.1zM3527.8 1504.4h4.1v4.1h-4.1zM3531.7 1350.5h4.1v4.1h-4.1zM3531.7 1417.6h4.1v4.1h-4.1zM3531.7 1429.4h4.1v4.1h-4.1zM3535.7 1370.2h4.1v4.1h-4.1zM3535.7 1382.1h4.1v4.1h-4.1zM3535.7 1425.5h4.1v4.1h-4.1zM3535.7 1445.2h4.1v4.1h-4.1zM3535.7 1472.8h4.1v4.1h-4.1zM3535.7 1476.8h4.1v4.1h-4.1zM3539.6 1374.2h4.1v4.1h-4.1zM3539.6 1457.0h4.1v4.1h-4.1zM3539.6 1476.8h4.1v4.1h-4.1zM3543.6 1358.4h4.1v4.1h-4.1zM3543.6 1370.2h4.1v4.1h-4.1zM3543.6 1401.8h4.1v4.1h-4.1zM3543.6 1405.7h4.1v4.1h-4.1zM3543.6 1437.3h4.1v4.1h-4.1zM3543.6 1504.4h4.1v4.1h-4.1zM3547.5 1401.8h4.1v4.1h-4.1zM3547.5 1441.2h4.1v4.1h-4.1zM3547.5 1449.1h4.1v4.1h-4.1zM3551.5 1354.4h4.1v4.1h-4.1zM3551.5 1362.3h4.1v4.1h-4.1zM3551.5 1405.7h4.1v4.1h-4.1zM3551.5 1409.7h4.1v4.1h-4.1zM3551.5 1417.6h4.1v4.1h-4.1zM3551.5 1449.1h4.1v4.1h-4.1zM3551.5 1476.8h4.1v4.1h-4.1zM3551.5 1520.2h4.1v4.1h-4.1zM3555.4 1362.3h4.1v4.1h-4.1zM3555.4 1393.9h4.1v4.1h-4.1zM3555.4 1453.1h4.1v4.1h-4.1zM3555.4 1468.9h4.1v4.1h-4.1zM3555.4 1492.5h4.1v4.1h-4.1zM3559.3 1366.3h4.1v4.1h-4.1zM3559.3 1378.1h4.1v4.1h-4.1zM3559.3 1390.0h4.1v4.1h-4.1zM3559.3 1421.5h4.1v4.1h-4.1zM3559.3 1449.1h4.1v4.1h-4.1zM3559.3 1461.0h4.1v4.1h-4.1zM3559.3 1468.9h4.1v4.1h-4.1zM3559.3 1516.2h4.1v4.1h-4.1zM3559.3 1528.1h4.1v4.1h-4.1zM3563.3 1362.3h4.1v4.1h-4.1zM3563.3 1366.3h4.1v4.1h-4.1zM3563.3 1409.7h4.1v4.1h-4.1zM3563.3 1433.4h4.1v4.1h-4.1zM3563.3 1437.3h4.1v4.1h-4.1zM3563.3 1445.2h4.1v4.1h-4.1zM3563.3 1461.0h4.1v4.1h-4.1zM3567.2 1370.2h4.1v4.1h-4.1zM3567.2 1374.2h4.1v4.1h-4.1zM3567.2 1393.9h4.1v4.1h-4.1zM3567.2 1437.3h4.1v4.1h-4.1zM3567.2 1464.9h4.1v4.1h-4.1zM3567.2 1472.8h4.1v4.1h-4.1zM3567.2 1524.1h4.1v4.1h-4.1zM3571.2 1354.4h4.1v4.1h-4.1zM3571.2 1417.6h4.1v4.1h-4.1zM3571.2 1472.8h4.1v4.1h-4.1zM3571.2 1520.2h4.1v4.1h-4.1zM3571.2 1524.1h4.1v4.1h-4.1zM3575.1 1358.4h4.1v4.1h-4.1zM3575.1 1374.2h4.1v4.1h-4.1zM3575.1 1386.0h4.1v4.1h-4.1zM3575.1 1500.4h4.1v4.1h-4.1zM3575.1 1504.4h4.1v4.1h-4.1zM3575.1 1524.1h4.1v4.1h-4.1zM3579.1 1496.5h4.1v4.1h-4.1zM3579.1 1524.1h4.1v4.1h-4.1zM3583.0 1366.3h4.1v4.1h-4.1zM3583.0 1374.2h4.1v4.1h-4.1zM3583.0 1382.1h4.1v4.1h-4.1zM3583.0 1393.9h4.1v4.1h-4.1zM3583.0 1413.6h4.1v4.1h-4.1zM3583.0 1476.8h4.1v4.1h-4.1zM3583.0 1480.7h4.1v4.1h-4.1zM3583.0 1524.1h4.1v4.1h-4.1zM3587.0 1362.3h4.1v4.1h-4.1zM3587.0 1405.7h4.1v4.1h-4.1zM3587.0 1437.3h4.1v4.1h-4.1zM3587.0 1484.7h4.1v4.1h-4.1zM3587.0 1528.1h4.1v4.1h-4.1zM3590.9 1413.6h4.1v4.1h-4.1zM3590.9 1433.4h4.1v4.1h-4.1zM3590.9 1453.1h4.1v4.1h-4.1zM3590.9 1461.0h4.1v4.1h-4.1zM3590.9 1496.5h4.1v4.1h-4.1zM3594.9 1354.4h4.1v4.1h-4.1zM3594.9 1461.0h4.1v4.1h-4.1zM3594.9 1472.8h4.1v4.1h-4.1zM3594.9 1500.4h4.1v4.1h-4.1zM3594.9 1504.4h4.1v4.1h-4.1zM3594.9 1508.3h4.1v4.1h-4.1zM3594.9 1512.3h4.1v4.1h-4.1zM3598.8 1350.5h4.1v4.1h-4.1zM3598.8 1382.1h4.1v4.1h-4.1zM3602.8 1350.5h4.1v4.1h-4.1zM3602.8 1386.0h4.1v4.1h-4.1zM3602.8 1390.0h4.1v4.1h-4.1zM3602.8 1397.8h4.1v4.1h-4.1zM3602.8 1401.8h4.1v4.1h-4.1zM3602.8 1405.7h4.1v4.1h-4.1zM3602.8 1488.6h4.1v4.1h-4.1zM3602.8 1500.4h4.1v4.1h-4.1zM3606.7 1393.9h4.1v4.1h-4.1zM3606.7 1425.5h4.1v4.1h-4.1zM3606.7 1461.0h4.1v4.1h-4.1zM3606.7 1484.7h4.1v4.1h-4.1zM3606.7 1492.5h4.1v4.1h-4.1zM3606.7 1504.4h4.1v4.1h-4.1zM3610.6 1366.3h4.1v4.1h-4.1zM3610.6 1401.8h4.1v4.1h-4.1zM3610.6 1409.7h4.1v4.1h-4.1zM3610.6 1464.9h4.1v4.1h-4.1zM3610.6 1496.5h4.1v4.1h-4.1zM3610.6 1520.2h4.1v4.1h-4.1zM3610.6 1524.1h4.1v4.1h-4.1zM3610.6 1528.1h4.1v4.1h-4.1zM3614.6 1358.4h4.1v4.1h-4.1zM3614.6 1390.0h4.1v4.1h-4.1zM3614.6 1476.8h4.1v4.1h-4.1zM3614.6 1516.2h4.1v4.1h-4.1zM3618.5 1350.5h4.1v4.1h-4.1zM3618.5 1382.1h4.1v4.1h-4.1zM3618.5 1472.8h4.1v4.1h-4.1zM3618.5 1488.6h4.1v4.1h-4.1zM3622.5 1362.3h4.1v4.1h-4.1zM3622.5 1421.5h4.1v4.1h-4.1zM3622.5 1512.3h4.1v4.1h-4.1zM3626.4 1362.3h4.1v4.1h-4.1zM3626.4 1409.7h4.1v4.1h-4.1zM3626.4 1417.6h4.1v4.1h-4.1zM3626.4 1421.5h4.1v4.1h-4.1zM3626.4 1425.5h4.1v4.1h-4.1zM3626.4 1461.0h4.1v4.1h-4.1zM3626.4 1500.4h4.1v4.1h-4.1zM3630.4 1370.2h4.1v4.1h-4.1zM3630.4 1382.1h4.1v4.1h-4.1zM3630.4 1468.9h4.1v4.1h-4.1zM3630.4 1480.7h4.1v4.1h-4.1zM3630.4 1512.3h4.1v4.1h-4.1zM3630.4 1524.1h4.1v4.1h-4.1zM3634.3 1437.3h4.1v4.1h-4.1zM3634.3 1445.2h4.1v4.1h-4.1zM3634.3 1457.0h4.1v4.1h-4.1zM3634.3 1484.7h4.1v4.1h-4.1zM3634.3 1492.5h4.1v4.1h-4.1zM3638.3 1429.4h4.1v4.1h-4.1zM3638.3 1484.7h4.1v4.1h-4.1zM3642.2 1354.4h4.1v4.1h-4.1zM3642.2 1382.1h4.1v4.1h-4.1zM3642.2 1421.5h4.1v4.1h-4.1zM3642.2 1520.2h4.1v4.1h-4.1zM3646.2 1350.5h4.1v4.1h-4.1zM3646.2 1362.3h4.1v4.1h-4.1zM3646.2 1374.2h4.1v4.1h-4.1zM3646.2 1393.9h4.1v4.1h-4.1zM3646.2 1409.7h4.1v4.1h-4.1zM3646.2 1433.4h4.1v4.1h-4.1zM3646.2 1472.8h4.1v4.1h-4.1zM3646.2 1480.7h4.1v4.1h-4.1zM3646.2 1496.5h4.1v4.1h-4.1zM3650.1 1354.4h4.1v4.1h-4.1zM3654.0 1374.2h4.1v4.1h-4.1zM3654.0 1425.5h4.1v4.1h-4.1zM3654.0 1433.4h4.1v4.1h-4.1zM3654.0 1437.3h4.1v4.1h-4.1zM3654.0 1449.1h4.1v4.1h-4.1zM3658.0 1350.5h4.1v4.1h-4.1zM3658.0 1370.2h4.1v4.1h-4.1zM3658.0 1374.2h4.1v4.1h-4.1zM3658.0 1457.0h4.1v4.1h-4.1zM3658.0 1504.4h4.1v4.1h-4.1zM3661.9 1433.4h4.1v4.1h-4.1zM3661.9 1441.2h4.1v4.1h-4.1zM3661.9 1520.2h4.1v4.1h-4.1zM3661.9 1524.1h4.1v4.1h-4.1zM3665.9 1350.5h4.1v4.1h-4.1zM3665.9 1374.2h4.1v4.1h-4.1zM3665.9 1413.6h4.1v4.1h-4.1zM3665.9 1429.4h4.1v4.1h-4.1zM3669.8 1358.4h4.1v4.1h-4.1zM3669.8 1390.0h4.1v4.1h-4.1zM3669.8 1405.7h4.1v4.1h-4.1zM3669.8 1453.1h4.1v4.1h-4.1zM3669.8 1520.2h4.1v4.1h-4.1zM3673.8 1445.2h4.1v4.1h-4.1zM3673.8 1480.7h4.1v4.1h-4.1zM3673.8 1488.6h4.1v4.1h-4.1zM3673.8 1516.2h4.1v4.1h-4.1zM3673.8 1520.2h4.1v4.1h-4.1zM3677.7 1378.1h4.1v4.1h-4.1zM3677.7 1401.8h4.1v4.1h-4.1zM3677.7 1445.2h4.1v4.1h-4.1zM3677.7 1528.1h4.1v4.1h-4.1zM3681.7 1378.1h4.1v4.1h-4.1zM3681.7 1382.1h4.1v4.1h-4.1zM3681.7 1401.8h4.1v4.1h-4.1zM3681.7 1417.6h4.1v4.1h-4.1zM3681.7 1453.1h4.1v4.1h-4.1zM3681.7 1457.0h4.1v4.1h-4.1zM3681.7 1468.9h4.1v4.1h-4.1zM3681.7 1480.7h4.1v4.1h-4.1zM3681.7 1484.7h4.1v4.1h-4.1zM3685.6 1358.4h4.1v4.1h-4.1zM3685.6 1362.3h4.1v4.1h-4.1zM3685.6 1366.3h4.1v4.1h-4.1zM3685.6 1386.0h4.1v4.1h-4.1zM3685.6 1401.8h4.1v4.1h-4.1zM3685.6 1484.7h4.1v4.1h-4.1zM3685.6 1520.2h4.1v4.1h-4.1zM3685.6 1528.1h4.1v4.1h-4.1zM3689.6 1382.1h4.1v4.1h-4.1zM3689.6 1492.5h4.1v4.1h-4.1zM3689.6 1512.3h4.1v4.1h-4.1zM3689.6 1524.1h4.1v4.1h-4.1z"/>
<path fill="#dcdcdc" d="M3512.0 1358.4h4.1v4.1h-4.1zM3512.0 1397.8h4.1v4.1h-4.1zM3512.0 1417.6h4.1v4.1h-4.1zM3512.0 1421.5h4.1v4.1h-4.1zM3515.9 1366.3h4.1v4.1h-4.1zM3515.9 1370.2h4.1v4.1h-4.1zM3515.9 1429.4h4.1v4.1h-4.1zM3515.9 1461.0h4.1v4.1h-4.1zM3519.9 1350.5h4.1v4.1h-4.1zM3519.9 1397.8h4.1v4.1h-4.1zM3519.9 1413.6h4.1v4.1h-4.1zM3519.9 1417.6h4.1v4.1h-4.1zM3519.9 1421.5h4.1v4.1h-4.1zM3519.9 1484.7h4.1v4.1h-4.1zM3523.8 1354.4h4.1v4.1h-4.1zM3523.8 1358.4h4.1v4.1h-4.1zM3523.8 1484.7h4.1v4.1h-4.1zM3523.8 1500.4h4.1v4.1h-4.1zM3527.8 1393.9h4.1v4.1h-4.1zM3527.8 1516.2h4.1v4.1h-4.1zM3531.7 1405.7h4.1v4.1h-4.1zM3531.7 1413.6h4.1v4.1h-4.1zM3531.7 1437.3h4.1v4.1h-4.1zM3531.7 1492.5h4.1v4.1h-4.1zM3531.7 1520.2h4.1v4.1h-4.1zM3535.7 1520.2h4.1v4.1h-4.1zM3539.6 1350.5h4.1v4.1h-4.1zM3539.6 1370.2h4.1v4.1h-4.1zM3539.6 1397.8h4.1v4.1h-4.1zM3539.6 1409.7h4.1v4.1h-4.1zM3539.6 1433.4h4.1v4.1h-4.1zM3539.6 1468.9h4.1v4.1h-4.1zM3539.6 1496.5h4.1v4.1h-4.1zM3539.6 1500.4h4.1v4.1h-4.1zM3543.6 1433.4h4.1v4.1h-4.1zM3543.6 1464.9h4.1v4.1h-4.1zM3543.6 1500.4h4.1v4.1h-4.1zM3543.6 1516.2h4.1v4.1h-4.1zM3547.5 1366.3h4.1v4.1h-4.1zM3547.5 1378.1h4.1v4.1h-4.1zM3547.5 1417.6h4.1v4.1h-4.1zM3547.5 1429.4h4.1v4.1h-4.1zM3547.5 1437.3h4.1v4.1h-4.1zM3547.5 1453.1h4.1v4.1h-4.1zM3547.5 1500.4h4.1v4.1h-4.1zM3547.5 1528.1h4.1v4.1h-4.1zM3551.5 1366.3h4.1v4.1h-4.1zM3551.5 1386.0h4.1v4.1h-4.1zM3551.5 1433.4h4.1v4.1h-4.1zM3551.5 1508.3h4.1v4.1h-4.1zM3551.5 1528.1h4.1v4.1h-4.1zM3555.4 1390.0h4.1v4.1h-4.1zM3555.4 1405.7h4.1v4.1h-4.1zM3555.4 1461.0h4.1v4.1h-4.1zM3555.4 1464.9h4.1v4.1h-4.1zM3555.4 1484.7h4.1v4.1h-4.1zM3555.4 1496.5h4.1v4.1h-4.1zM3555.4 1508.3h4.1v4.1h-4.1zM3555.4 1512.3h4.1v4.1h-4.1zM3555.4 1528.1h4.1v4.1h-4.1zM3559.3 1354.4h4.1v4.1h-4.1zM3559.3 1362.3h4.1v4.1h-4.1zM3559.3 1370.2h4.1v4.1h-4.1zM3559.3 1445.2h4.1v4.1h-4.1zM3559.3 1504.4h4.1v4.1h-4.1zM3563.3 1457.0h4.1v4.1h-4.1zM3563.3 1468.9h4.1v4.1h-4.1zM3563.3 1492.5h4.1v4.1h-4.1zM3567.2 1378.1h4.1v4.1h-4.1zM3567.2 1457.0h4.1v4.1h-4.1zM3567.2 1480.7h4.1v4.1h-4.1zM3567.2 1484.7h4.1v4.1h-4.1zM3567.2 1496.5h4.1v4.1h-4.1zM3567.2 1512.3h4.1v4.1h-4.1zM3571.2 1362.3h4.1v4.1h-4.1zM3571.2 1421.5h4.1v4.1h-4.1zM3571.2 1441.2h4.1v4.1h-4.1zM3571.2 1461.0h4.1v4.1h-4.1zM3571.2 1492.5h4.1v4.1h-4.1zM3575.1 1390.0h4.1v4.1h-4.1zM3575.1 1433.4h4.1v4.1h-4.1zM3575.1 1445.2h4.1v4.1h-4.1zM3575.1 1468.9h4.1v4.1h-4.1zM3575.1 1516.2h4.1v4.1h-4.1zM3579.1 1374.2h4.1v4.1h-4.1zM3579.1 1378.1h4.1v4.1h-4.1zM3579.1 1461.0h4.1v4.1h-4.1zM3579.1 1464.9h4.1v4.1h-4.1zM3579.1 1476.8h4.1v4.1h-4.1zM3579.1 1484.7h4.1v4.1h-4.1zM3579.1 1500.4h4.1v4.1h-4.1zM3579.1 1508.3h4.1v4.1h-4.1zM3579.1 1520.2h4.1v4.1h-4.1zM3583.0 1445.2h4.1v4.1h-4.1zM3583.0 1516.2h4.1v4.1h-4.1zM3583.0 1528.1h4.1v4.1h-4.1zM3587.0 1378.1h4.1v4.1h-4.1zM3587.0 1425.5h4.1v4.1h-4.1zM3587.0 1476.8h4.1v4.1h-4.1zM3587.0 1488.6h4.1v4.1h-4.1zM3587.0 1508.3h4.1v4.1h-4.1zM3590.9 1382.1h4.1v4.1h-4.1zM3590.9 1449.1h4.1v4.1h-4.1zM3590.9 1472.8h4.1v4.1h-4.1zM3590.9 1476.8h4.1v4.1h-4.1zM3594.9 1362.3h4.1v4.1h-4.1zM3594.9 1409.7h4.1v4.1h-4.1zM3594.9 1464.9h4.1v4.1h-4.1zM3594.9 1488.6h4.1v4.1h-4.1zM3598.8 1378.1h4.1v4.1h-4.1zM3598.8 1409.7h4.1v4.1h-4.1zM3598.8 1429.4h4.1v4.1h-4.1zM3598.8 1453.1h4.1v4.1h-4.1zM3598.8 1461.0h4.1v4.1h-4.1zM3598.8 1480.7h4.1v4.1h-4.1zM3598.8 1484.7h4.1v4.1h-4.1zM3598.8 1492.5h4.1v4.1h-4.1zM3598.8 1496.5h4.1v4.1h-4.1zM3598.8 1508.3h4.1v4.1h-4.1zM3598.8 1520.2h4.1v4.1h-4.1zM3602.8 1425.5h4.1v4.1h-4.1zM3602.8 1437.3h4.1v4.1h-4.1zM3606.7 1453.1h4.1v4.1h-4.1zM3606.7 1516.2h4.1v4.1h-4.1zM3610.6 1386.0h4.1v4.1h-4.1zM3610.6 1421.5h4.1v4.1h-4.1zM3610.6 1433.4h4.1v4.1h-4.1zM3610.6 1445.2h4.1v4.1h-4.1zM3610.6 1453.1h4.1v4.1h-4.1zM3610.6 1468.9h4.1v4.1h-4.1zM3610.6 1488.6h4.1v4.1h-4.1zM3614.6 1354.4h4.1v4.1h-4.1zM3614.6 1362.3h4.1v4.1h-4.1zM3614.6 1433.4h4.1v4.1h-4.1zM3614.6 1441.2h4.1v4.1h-4.1zM3618.5 1374.2h4.1v4.1h-4.1zM3618.5 1417.6h4.1v4.1h-4.1zM3618.5 1445.2h4.1v4.1h-4.1zM3618.5 1468.9h4.1v4.1h-4.1zM3618.5 1492.5h4.1v4.1h-4.1zM3622.5 1417.6h4.1v4.1h-4.1zM3622.5 1433.4h4.1v4.1h-4.1zM3622.5 1480.7h4.1v4.1h-4.1zM3622.5 1496.5h4.1v4.1h-4.1zM3622.5 1508.3h4.1v4.1h-4.1zM3626.4 1374.2h4.1v4.1h-4.1zM3626.4 1382.1h4.1v4.1h-4.1zM3626.4 1390.0h4.1v4.1h-4.1zM3626.4 1413.6h4.1v4.1h-4.1zM3626.4 1441.2h4.1v4.1h-4.1zM3626.4 1453.1h4.1v4.1h-4.1zM3626.4 1480.7h4.1v4.1h-4.1zM3626.4 1512.3h4.1v4.1h-4.1zM3630.4 1366.3h4.1v4.1h-4.1zM3630.4 1437.3h4.1v4.1h-4.1zM3630.4 1461.0h4.1v4.1h-4.1zM3630.4 1516.2h4.1v4.1h-4.1zM3634.3 1374.2h4.1v4.1h-4.1zM3634.3 1382.1h4.1v4.1h-4.1zM3634.3 1413.6h4.1v4.1h-4.1zM3634.3 1421.5h4.1v4.1h-4.1zM3634.3 1425.5h4.1v4.1h-4.1zM3634.3 1520.2h4.1v4.1h-4.1zM3638.3 1362.3h4.1v4.1h-4.1zM3638.3 1370.2h4.1v4.1h-4.1zM3638.3 1386.0h4.1v4.1h-4.1zM3638.3 1500.4h4.1v4.1h-4.1zM3638.3 1504.4h4.1v4.1h-4.1zM3638.3 1528.1h4.1v4.1h-4.1zM3642.2 1374.2h4.1v4.1h-4.1zM3642.2 1390.0h4.1v4.1h-4.1zM3642.2 1441.2h4.1v4.1h-4.1zM3642.2 1472.8h4.1v4.1h-4.1zM3642.2 1488.6h4.1v4.1h-4.1zM3642.2 1516.2h4.1v4.1h-4.1zM3646.2 1457.0h4.1v4.1h-4.1zM3646.2 1464.9h4.1v4.1h-4.1zM3646.2 1492.5h4.1v4.1h-4.1zM3646.2 1528.1h4.1v4.1h-4.1zM3650.1 1401.8h4.1v4.1h-4.1zM3650.1 1437.3h4.1v4.1h-4.1zM3650.1 1441.2h4.1v4.1h-4.1zM3654.0 1476.8h4.1v4.1h-4.1zM3654.0 1484.7h4.1v4.1h-4.1zM3658.0 1366.3h4.1v4.1h-4.1zM3658.0 1401.8h4.1v4.1h-4.1zM3658.0 1421.5h4.1v4.1h-4.1zM3658.0 1441.2h4.1v4.1h-4.1zM3658.0 1480.7h4.1v4.1h-4.1zM3661.9 1386.0h4.1v4.1h-4.1zM3661.9 1417.6h4.1v4.1h-4.1zM3661.9 1425.5h4.1v4.1h-4.1zM3661.9 1468.9h4.1v4.1h-4.1zM3661.9 1476.8h4.1v4.1h-4.1zM3661.9 1484.7h4.1v4.1h-4.1zM3661.9 1488.6h4.1v4.1h-4.1zM3661.9 1500.4h4.1v4.1h-4.1zM3665.9 1468.9h4.1v4.1h-4.1zM3665.9 1480.7h4.1v4.1h-4.1zM3665.9 1504.4h4.1v4.1h-4.1zM3665.9 1528.1h4.1v4.1h-4.1zM3669.8 1354.4h4.1v4.1h-4.1zM3669.8 1374.2h4.1v4.1h-4.1zM3669.8 1382.1h4.1v4.1h-4.1zM3669.8 1425.5h4.1v4.1h-4.1zM3669.8 1480.7h4.1v4.1h-4.1zM3669.8 1484.7h4.1v4.1h-4.1zM3669.8 1488.6h4.1v4.1h-4.1zM3669.8 1528.1h4.1v4.1h-4.1zM3673.8 1401.8h4.1v4.1h-4.1zM3673.8 1429.4h4.1v4.1h-4.1zM3673.8 1453.1h4.1v4.1h-4.1zM3673.8 1461.0h4.1v4.1h-4.1zM3673.8 1504.4h4.1v4.1h-4.1zM3677.7 1362.3h4.1v4.1h-4.1zM3677.7 1417.6h4.1v4.1h-4.1zM3677.7 1461.0h4.1v4.1h-4.1zM3677.7 1512.3h4.1v4.1h-4.1zM3677.7 1524.1h4.1v4.1h-4.1zM3681.7 1358.4h4.1v4.1h-4.1zM3681.7 1374.2h4.1v4.1h-4.1zM3681.7 1413.6h4.1v4.1h-4.1zM3681.7 1421.5h4.1v4.1h-4.1zM3681.7 1445.2h4.1v4.1h-4.1zM3681.7 1488.6h4.1v4.1h-4.1zM3681.7 1520.2h4.1v4.1h-4.1zM3681.7 1524.1h4.1v4.1h-4.1zM3685.6 1457.0h4.1v4.1h-4.1zM3685.6 1472.8h4.1v4.1h-4.1zM3689.6 1370.2h4.1v4.1h-4.1zM3689.6 1390.0h4.1v4.1h-4.1zM3689.6 1393.9h4.1v4.1h-4.1zM3689.6 1476.8h4.1v4.1h-4.1z"/>
<path fill="#919191" d="M3512.0 1366.3h4.1v4.1h-4.1zM3512.0 1382.1h4.1v4.1h-4.1zM3512.0 1449.1h4.1v4.1h-4.1zM3512.0 1480.7h4.1v4.1h-4.1zM3512.0 1508.3h4.1v4.1h-4.1zM3512.0 1516.2h4.1v4.1h-4.1zM3515.9 1350.5h4.1v4.1h-4.1zM3515.9 1409.7h4.1v4.1h-4.1zM3515.9 1421.5h4.1v4.1h-4.1zM3515.9 1445.2h4.1v4.1h-4.1zM3515.9 1472.8h4.1v4.1h-4.1zM3515.9 1488.6h4.1v4.1h-4.1zM3519.9 1370.2h4.1v4.1h-4.1zM3519.9 1386.0h4.1v4.1h-4.1zM3519.9 1441.2h4.1v4.1h-4.1zM3519.9 1461.0h4.1v4.1h-4.1zM3519.9 1512.3h4.1v4.1h-4.1zM3523.8 1382.1h4.1v4.1h-4.1zM3523.8 1437.3h4.1v4.1h-4.1zM3523.8 1457.0h4.1v4.1h-4.1zM3523.8 1488.6h4.1v4.1h-4.1zM3523.8 1504.4h4.1v4.1h-4.1zM3527.8 1409.7h4.1v4.1h-4.1zM3527.8 1433.4h4.1v4.1h-4.1zM3527.8 1445.2h4.1v4.1h-4.1zM3527.8 1508.3h4.1v4.1h-4.1zM3527.8 1528.1h4.1v4.1h-4.1zM3531.7 1421.5h4.1v4.1h-4.1zM3531.7 1461.0h4.1v4.1h-4.1zM3531.7 1468.9h4.1v4.1h-4.1zM3531.7 1504.4h4.1v4.1h-4.1zM3535.7 1366.3h4.1v4.1h-4.1zM3535.7 1374.2h4.1v4.1h-4.1zM3535.7 1484.7h4.1v4.1h-4.1zM3535.7 1508.3h4.1v4.1h-4.1zM3535.7 1512.3h4.1v4.1h-4.1zM3539.6 1354.4h4.1v4.1h-4.1zM3539.6 1362.3h4.1v4.1h-4.1zM3539.6 1421.5h4.1v4.1h-4.1zM3539.6 1425.5h4.1v4.1h-4.1zM3539.6 1516.2h4.1v4.1h-4.1zM3543.6 1354.4h4.1v4.1h-4.1zM3543.6 1366.3h4.1v4.1h-4.1zM3543.6 1445.2h4.1v4.1h-4.1zM3543.6 1457.0h4.1v4.1h-4.1zM3543.6 1484.7h4.1v4.1h-4.1zM3543.6 1520.2h4.1v4.1h-4.1zM3547.5 1354.4h4.1v4.1h-4.1zM3547.5 1393.9h4.1v4.1h-4.1zM3547.5 1524.1h4.1v4.1h-4.1zM3551.5 1374.2h4.1v4.1h-4.1zM3551.5 1393.9h4.1v4.1h-4.1zM3551.5 1397.8h4.1v4.1h-4.1zM3551.5 1425.5h4.1v4.1h-4.1zM3551.5 1441.2h4.1v4.1h-4.1zM3551.5 1453.1h4.1v4.1h-4.1zM3555.4 1354.4h4.1v4.1h-4.1zM3555.4 1488.6h4.1v4.1h-4.1zM3559.3 1358.4h4.1v4.1h-4.1zM3559.3 1382.1h4.1v4.1h-4.1zM3559.3 1405.7h4.1v4.1h-4.1zM3559.3 1472.8h4.1v4.1h-4.1zM3559.3 1492.5h4.1v4.1h-4.1zM3559.3 1496.5h4.1v4.1h-4.1zM3563.3 1354.4h4.1v4.1h-4.1zM3563.3 1374.2h4.1v4.1h-4.1zM3563.3 1386.0h4.1v4.1h-4.1zM3563.3 1393.9h4.1v4.1h-4.1zM3563.3 1405.7h4.1v4.1h-4.1zM3563.3 1453.1h4.1v4.1h-4.1zM3567.2 1386.0h4.1v4.1h-4.1zM3567.2 1409.7h4.1v4.1h-4.1zM3567.2 1421.5h4.1v4.1h-4.1zM3571.2 1350.5h4.1v4.1h-4.1zM3571.2 1370.2h4.1v4.1h-4.1zM3571.2 1393.9h4.1v4.1h-4.1zM3571.2 1413.6h4.1v4.1h-4.1zM3571.2 1457.0h4.1v4.1h-4.1zM3571.2 1476.8h4.1v4.1h-4.1zM3575.1 1362.3h4.1v4.1h-4.1zM3575.1 1409.7h4.1v4.1h-4.1zM3575.1 1480.7h4.1v4.1h-4.1zM3579.1 1366.3h4.1v4.1h-4.1zM3579.1 1417.6h4.1v4.1h-4.1zM3579.1 1421.5h4.1v4.1h-4.1zM3579.1 1429.4h4.1v4.1h-4.1zM3579.1 1437.3h4.1v4.1h-4.1zM3579.1 1445.2h4.1v4.1h-4.1zM3579.1 1488.6h4.1v4.1h-4.1zM3583.0 1386.0h4.1v4.1h-4.1zM3583.0 1401.8h4.1v4.1h-4.1zM3583.0 1437.3h4.1v4.1h-4.1zM3583.0 1468.9h4.1v4.1h-4.1zM3583.0 1472.8h4.1v4.1h-4.1zM3583.0 1500.4h4.1v4.1h-4.1zM3587.0 1354.4h4.1v4.1h-4.1zM3587.0 1382.1h4.1v4.1h-4.1zM3587.0 1397.8h4.1v4.1h-4.1zM3587.0 1445.2h4.1v4.1h-4.1zM3587.0 1496.5h4.1v4.1h-4.1zM3587.0 1512.3h4.1v4.1h-4.1zM3587.0 1520.2h4.1v4.1h-4.1zM3590.9 1504.4h4.1v4.1h-4.1zM3590.9 1520.2h4.1v4.1h-4.1zM3594.9 1366.3h4.1v4.1h-4.1zM3594.9 1413.6h4.1v4.1h-4.1zM3594.9 1417.6h4.1v4.1h-4.1zM3594.9 1476.8h4.1v4.1h-4.1zM3594.9 1492.5h4.1v4.1h-4.1zM3594.9 1528.1h4.1v4.1h-4.1zM3598.8 1354.4h4.1v4.1h-4.1zM3598.8 1370.2h4.1v4.1h-4.1zM3598.8 1397.8h4.1v4.1h-4.1zM3598.8 1421.5h4.1v4.1h-4.1zM3598.8 1433.4h4.1v4.1h-4.1zM3598.8 1457.0h4.1v4.1h-4.1zM3598.8 1468.9h4.1v4.1h-4.1zM3598.8 1516.2h4.1v4.1h-4.1zM3602.8 1378.1h4.1v4.1h-4.1zM3602.8 1382.1h4.1v4.1h-4.1zM3602.8 1429.4h4.1v4.1h-4.1zM3602.8 1504.4h4.1v4.1h-4.1zM3606.7 1374.2h4.1v4.1h-4.1zM3606.7 1382.1h4.1v4.1h-4.1zM3606.7 1390.0h4.1v4.1h-4.1zM3606.7 1433.4h4.1v4.1h-4.1zM3606.7 1464.9h4.1v4.1h-4.1zM3606.7 1500.4h4.1v4.1h-4.1zM3606.7 1508.3h4.1v4.1h-4.1zM3610.6 1350.5h4.1v4.1h-4.1zM3610.6 1382.1h4.1v4.1h-4.1zM3610.6 1390.0h4.1v4.1h-4.1zM3610.6 1425.5h4.1v4.1h-4.1zM3610.6 1429.4h4.1v4.1h-4.1zM3610.6 1476.8h4.1v4.1h-4.1zM3610.6 1516.2h4.1v4.1h-4.1zM3614.6 1350.5h4.1v4.1h-4.1zM3614.6 1492.5h4.1v4.1h-4.1zM3614.6 1500.4h4.1v4.1h-4.1zM3614.6 1508.3h4.1v4.1h-4.1zM3614.6 1512.3h4.1v4.1h-4.1zM3614.6 1520.2h4.1v4.1h-4.1zM3614.6 1524.1h4.1v4.1h-4.1zM3618.5 1393.9h4.1v4.1h-4.1zM3618.5 1413.6h4.1v4.1h-4.1zM3618.5 1476.8h4.1v4.1h-4.1zM3622.5 1350.5h4.1v4.1h-4.1zM3622.5 1390.0h4.1v4.1h-4.1zM3622.5 1401.8h4.1v4.1h-4.1zM3622.5 1528.1h4.1v4.1h-4.1zM3626.4 1457.0h4.1v4.1h-4.1zM3626.4 1464.9h4.1v4.1h-4.1zM3626.4 1496.5h4.1v4.1h-4.1zM3630.4 1358.4h4.1v4.1h-4.1zM3630.4 1378.1h4.1v4.1h-4.1zM3630.4 1417.6h4.1v4.1h-4.1zM3630.4 1453.1h4.1v4.1h-4.1zM3630.4 1496.5h4.1v4.1h-4.1zM3630.4 1504.4h4.1v4.1h-4.1zM3630.4 1528.1h4.1v4.1h-4.1zM3634.3 1366.3h4.1v4.1h-4.1zM3634.3 1397.8h4.1v4.1h-4.1zM3634.3 1409.7h4.1v4.1h-4.1zM3634.3 1441.2h4.1v4.1h-4.1zM3634.3 1468.9h4.1v4.1h-4.1zM3634.3 1516.2h4.1v4.1h-4.1zM3638.3 1374.2h4.1v4.1h-4.1zM3638.3 1393.9h4.1v4.1h-4.1zM3638.3 1421.5h4.1v4.1h-4.1zM3638.3 1437.3h4.1v4.1h-4.1zM3642.2 1358.4h4.1v4.1h-4.1zM3642.2 1417.6h4.1v4.1h-4.1zM3642.2 1437.3h4.1v4.1h-4.1zM3642.2 1476.8h4.1v4.1h-4.1zM3642.2 1484.7h4.1v4.1h-4.1zM3646.2 1437.3h4.1v4.1h-4.1zM3646.2 1468.9h4.1v4.1h-4.1zM3646.2 1516.2h4.1v4.1h-4.1zM3646.2 1524.1h4.1v4.1h-4.1zM3650.1 1362.3h4.1v4.1h-4.1zM3650.1 1374.2h4.1v4.1h-4.1zM3650.1 1405.7h4.1v4.1h-4.1zM3650.1 1417.6h4.1v4.1h-4.1zM3650.1 1516.2h4.1v4.1h-4.1zM3654.0 1350.5h4.1v4.1h-4.1zM3654.0 1370.2h4.1v4.1h-4.1zM3654.0 1386.0h4.1v4.1h-4.1zM3654.0 1441.2h4.1v4.1h-4.1zM3658.0 1362.3h4.1v4.1h-4.1zM3658.0 1393.9h4.1v4.1h-4.1zM3658.0 1464.9h4.1v4.1h-4.1zM3661.9 1393.9h4.1v4.1h-4.1zM3661.9 1464.9h4.1v4.1h-4.1zM3661.9 1472.8h4.1v4.1h-4.1zM3661.9 1496.5h4.1v4.1h-4.1zM3661.9 1508.3h4.1v4.1h-4.1zM3665.9 1370.2h4.1v4.1h-4.1zM3665.9 1425.5h4.1v4.1h-4.1zM3665.9 1445.2h4.1v4.1h-4.1zM3665.9 1457.0h4.1v4.1h-4.1zM3669.8 1429.4h4.1v4.1h-4.1zM3669.8 1472.8h4.1v4.1h-4.1zM3669.8 1508.3h4.1v4.1h-4.1zM3673.8 1393.9h4.1v4.1h-4.1zM3673.8 1433.4h4.1v4.1h-4.1zM3673.8 1457.0h4.1v4.1h-4.1zM3673.8 1500.4h4.1v4.1h-4.1zM3677.7 1358.4h4.1v4.1h-4.1zM3677.7 1405.7h4.1v4.1h-4.1zM3677.7 1433.4h4.1v4.1h-4.1zM3677.7 1476.8h4.1v4.1h-4.1zM3677.7 1504.4h4.1v4.1h-4.1zM3677.7 1520.2h4.1v4.1h-4.1zM3681.7 1362.3h4.1v4.1h-4.1zM3681.7 1370.2h4.1v4.1h-4.1zM3681.7 1409.7h4.1v4.1h-4.1zM3681.7 1464.9h4.1v4.1h-4.1zM3681.7 1512.3h4.1v4.1h-4.1zM3681.7 1528.1h4.1v4.1h-4.1zM3685.6 1397.8h4.1v4.1h-4.1zM3689.6 1374.2h4.1v4.1h-4.1zM3689.6 1421.5h4.1v4.1h-4.1zM3689.6 1449.1h4.1v4.1h-4.1zM3689.6 1500.4h4.1v4.1h-4.1zM3689.6 1516.2h4.1v4.1h-4.1z"/>
<path fill="#5f5f5f" d="M3512.0 1370.2h4.1v4.1h-4.1zM3512.0 1374.2h4.1v4.1h-4.1zM3512.0 1401.8h4.1v4.1h-4.1zM3512.0 1413.6h4.1v4.1h-4.1zM3512.0 1433.4h4.1v4.1h-4.1zM3512.0 1457.0h4.1v4.1h-4.1zM3512.0 1484.7h4.1v4.1h-4.1zM3512.0 1520.2h4.1v4.1h-4.1zM3512.0 1524.1h4.1v4.1h-4.1zM3515.9 1386.0h4.1v4.1h-4.1zM3515.9 1449.1h4.1v4.1h-4.1zM3515.9 1457.0h4.1v4.1h-4.1zM3515.9 1464.9h4.1v4.1h-4.1zM3515.9 1468.9h4.1v4.1h-4.1zM3515.9 1500.4h4.1v4.1h-4.1zM3515.9 1508.3h4.1v4.1h-4.1zM3515.9 1516.2h4.1v4.1h-4.1zM3519.9 1433.4h4.1v4.1h-4.1zM3519.9 1496.5h4.1v4.1h-4.1zM3519.9 1500.4h4.1v4.1h-4.1zM3519.9 1504.4h4.1v4.1h-4.1zM3523.8 1393.9h4.1v4.1h-4.1zM3523.8 1480.7h4.1v4.1h-4.1zM3523.8 1508.3h4.1v4.1h-4.1zM3527.8 1350.5h4.1v4.1h-4.1zM3527.8 1374.2h4.1v4.1h-4.1zM3527.8 1464.9h4.1v4.1h-4.1zM3527.8 1492.5h4.1v4.1h-4.1zM3531.7 1362.3h4.1v4.1h-4.1zM3531.7 1382.1h4.1v4.1h-4.1zM3531.7 1386.0h4.1v4.1h-4.1zM3531.7 1397.8h4.1v4.1h-4.1zM3531.7 1472.8h4.1v4.1h-4.1zM3531.7 1484.7h4.1v4.1h-4.1zM3535.7 1350.5h4.1v4.1h-4.1zM3535.7 1358.4h4.1v4.1h-4.1zM3535.7 1401.8h4.1v4.1h-4.1zM3535.7 1409.7h4.1v4.1h-4.1zM3535.7 1453.1h4.1v4.1h-4.1zM3535.7 1461.0h4.1v4.1h-4.1zM3535.7 1488.6h4.1v4.1h-4.1zM3539.6 1358.4h4.1v4.1h-4.1zM3539.6 1382.1h4.1v4.1h-4.1zM3539.6 1390.0h4.1v4.1h-4.1zM3539.6 1405.7h4.1v4.1h-4.1zM3539.6 1429.4h4.1v4.1h-4.1zM3539.6 1441.2h4.1v4.1h-4.1zM3539.6 1445.2h4.1v4.1h-4.1zM3539.6 1464.9h4.1v4.1h-4.1zM3539.6 1512.3h4.1v4.1h-4.1zM3543.6 1362.3h4.1v4.1h-4.1zM3543.6 1413.6h4.1v4.1h-4.1zM3543.6 1441.2h4.1v4.1h-4.1zM3543.6 1453.1h4.1v4.1h-4.1zM3543.6 1488.6h4.1v4.1h-4.1zM3543.6 1492.5h4.1v4.1h-4.1zM3543.6 1524.1h4.1v4.1h-4.1zM3543.6 1528.1h4.1v4.1h-4.1zM3547.5 1362.3h4.1v4.1h-4.1zM3547.5 1512.3h4.1v4.1h-4.1zM3551.5 1370.2h4.1v4.1h-4.1zM3551.5 1378.1h4.1v4.1h-4.1zM3551.5 1401.8h4.1v4.1h-4.1zM3551.5 1472.8h4.1v4.1h-4.1zM3551.5 1516.2h4.1v4.1h-4.1zM3555.4 1425.5h4.1v4.1h-4.1zM3555.4 1441.2h4.1v4.1h-4.1zM3555.4 1449.1h4.1v4.1h-4.1zM3555.4 1480.7h4.1v4.1h-4.1zM3555.4 1504.4h4.1v4.1h-4.1zM3555.4 1524.1h4.1v4.1h-4.1zM3559.3 1386.0h4.1v4.1h-4.1zM3559.3 1397.8h4.1v4.1h-4.1zM3559.3 1413.6h4.1v4.1h-4.1zM3559.3 1425.5h4.1v4.1h-4.1zM3559.3 1453.1h4.1v4.1h-4.1zM3559.3 1484.7h4.1v4.1h-4.1zM3559.3 1508.3h4.1v4.1h-4.1zM3563.3 1378.1h4.1v4.1h-4.1zM3563.3 1390.0h4.1v4.1h-4.1zM3563.3 1417.6h4.1v4.1h-4.1zM3563.3 1429.4h4.1v4.1h-4.1zM3563.3 1441.2h4.1v4.1h-4.1zM3563.3 1472.8h4.1v4.1h-4.1zM3567.2 1417.6h4.1v4.1h-4.1zM3567.2 1445.2h4.1v4.1h-4.1zM3571.2 1374.2h4.1v4.1h-4.1zM3571.2 1397.8h4.1v4.1h-4.1zM3571.2 1429.4h4.1v4.1h-4.1zM3571.2 1437.3h4.1v4.1h-4.1zM3571.2 1468.9h4.1v4.1h-4.1zM3571.2 1496.5h4.1v4.1h-4.1zM3571.2 1500.4h4.1v4.1h-4.1zM3575.1 1354.4h4.1v4.1h-4.1zM3575.1 1382.1h4.1v4.1h-4.1zM3575.1 1437.3h4.1v4.1h-4.1zM3575.1 1484.7h4.1v4.1h-4.1zM3575.1 1492.5h4.1v4.1h-4.1zM3579.1 1354.4h4.1v4.1h-4.1zM3579.1 1393.9h4.1v4.1h-4.1zM3579.1 1425.5h4.1v4.1h-4.1zM3579.1 1441.2h4.1v4.1h-4.1zM3579.1 1492.5h4.1v4.1h-4.1zM3587.0 1386.0h4.1v4.1h-4.1zM3587.0 1449.1h4.1v4.1h-4.1zM3587.0 1504.4h4.1v4.1h-4.1zM3587.0 1516.2h4.1v4.1h-4.1zM3590.9 1350.5h4.1v4.1h-4.1zM3590.9 1366.3h4.1v4.1h-4.1zM3590.9 1370.2h4.1v4.1h-4.1zM3590.9 1417.6h4.1v4.1h-4.1zM3590.9 1457.0h4.1v4.1h-4.1zM3590.9 1464.9h4.1v4.1h-4.1zM3590.9 1512.3h4.1v4.1h-4.1zM3594.9 1374.2h4.1v4.1h-4.1zM3594.9 1386.0h4.1v4.1h-4.1zM3594.9 1397.8h4.1v4.1h-4.1zM3594.9 1401.8h4.1v4.1h-4.1zM3594.9 1457.0h4.1v4.1h-4.1zM3598.8 1358.4h4.1v4.1h-4.1zM3598.8 1386.0h4.1v4.1h-4.1zM3598.8 1405.7h4.1v4.1h-4.1zM3598.8 1417.6h4.1v4.1h-4.1zM3598.8 1441.2h4.1v4.1h-4.1zM3598.8 1449.1h4.1v4.1h-4.1zM3602.8 1370.2h4.1v4.1h-4.1zM3602.8 1393.9h4.1v4.1h-4.1zM3602.8 1421.5h4.1v4.1h-4.1zM3602.8 1433.4h4.1v4.1h-4.1zM3602.8 1480.7h4.1v4.1h-4.1zM3602.8 1520.2h4.1v4.1h-4.1zM3606.7 1358.4h4.1v4.1h-4.1zM3606.7 1512.3h4.1v4.1h-4.1zM3610.6 1378.1h4.1v4.1h-4.1zM3610.6 1413.6h4.1v4.1h-4.1zM3610.6 1449.1h4.1v4.1h-4.1zM3610.6 1484.7h4.1v4.1h-4.1zM3610.6 1500.4h4.1v4.1h-4.1zM3614.6 1425.5h4.1v4.1h-4.1zM3614.6 1480.7h4.1v4.1h-4.1zM3614.6 1496.5h4.1v4.1h-4.1zM3614.6 1504.4h4.1v4.1h-4.1zM3614.6 1528.1h4.1v4.1h-4.1zM3618.5 1421.5h4.1v4.1h-4.1zM3618.5 1429.4h4.1v4.1h-4.1zM3622.5 1374.2h4.1v4.1h-4.1zM3622.5 1405.7h4.1v4.1h-4.1zM3622.5 1413.6h4.1v4.1h-4.1zM3622.5 1429.4h4.1v4.1h-4.1zM3622.5 1441.2h4.1v4.1h-4.1zM3622.5 1476.8h4.1v4.1h-4.1zM3622.5 1492.5h4.1v4.1h-4.1zM3622.5 1500.4h4.1v4.1h-4.1zM3622.5 1516.2h4.1v4.1h-4.1zM3626.4 1484.7h4.1v4.1h-4.1zM3626.4 1488.6h4.1v4.1h-4.1zM3626.4 1508.3h4.1v4.1h-4.1zM3630.4 1409.7h4.1v4.1h-4.1zM3630.4 1413.6h4.1v4.1h-4.1zM3630.4 1425.5h4.1v4.1h-4.1zM3630.4 1433.4h4.1v4.1h-4.1zM3630.4 1441.2h4.1v4.1h-4.1zM3630.4 1464.9h4.1v4.1h-4.1zM3634.3 1370.2h4.1v4.1h-4.1zM3634.3 1417.6h4.1v4.1h-4.1zM3634.3 1429.4h4.1v4.1h-4.1zM3634.3 1464.9h4.1v4.1h-4.1zM3634.3 1480.7h4.1v4.1h-4.1zM3634.3 1496.5h4.1v4.1h-4.1zM3634.3 1504.4h4.1v4.1h-4.1zM3638.3 1366.3h4.1v4.1h-4.1zM3638.3 1449.1h4.1v4.1h-4.1zM3638.3 1457.0h4.1v4.1h-4.1zM3638.3 1476.8h4.1v4.1h-4.1zM3638.3 1488.6h4.1v4.1h-4.1zM3642.2 1397.8h4.1v4.1h-4.1zM3642.2 1409.7h4.1v4.1h-4.1zM3642.2 1453.1h4.1v4.1h-4.1zM3642.2 1468.9h4.1v4.1h-4.1zM3646.2 1358.4h4.1v4.1h-4.1zM3646.2 1421.5h4.1v4.1h-4.1zM3646.2 1425.5h4.1v4.1h-4.1zM3646.2 1429.4h4.1v4.1h-4.1zM3650.1 1358.4h4.1v4.1h-4.1zM3650.1 1366.3h4.1v4.1h-4.1zM3650.1 1378.1h4.1v4.1h-4.1zM3650.1 1445.2h4.1v4.1h-4.1zM3650.1 1449.1h4.1v4.1h-4.1zM3650.1 1468.9h4.1v4.1h-4.1zM3650.1 1480.7h4.1v4.1h-4.1zM3650.1 1492.5h4.1v4.1h-4.1zM3650.1 1496.5h4.1v4.1h-4.1zM3650.1 1500.4h4.1v4.1h-4.1zM3654.0 1401.8h4.1v4.1h-4.1zM3654.0 1445.2h4.1v4.1h-4.1zM3654.0 1461.0h4.1v4.1h-4.1zM3654.0 1468.9h4.1v4.1h-4.1zM3658.0 1390.0h4.1v4.1h-4.1zM3658.0 1397.8h4.1v4.1h-4.1zM3658.0 1413.6h4.1v4.1h-4.1zM3658.0 1425.5h4.1v4.1h-4.1zM3658.0 1492.5h4.1v4.1h-4.1zM3658.0 1496.5h4.1v4.1h-4.1zM3661.9 1409.7h4.1v4.1h-4.1zM3661.9 1445.2h4.1v4.1h-4.1zM3661.9 1480.7h4.1v4.1h-4.1zM3661.9 1516.2h4.1v4.1h-4.1zM3665.9 1397.8h4.1v4.1h-4.1zM3665.9 1433.4h4.1v4.1h-4.1zM3665.9 1437.3h4.1v4.1h-4.1zM3665.9 1441.2h4.1v4.1h-4.1zM3665.9 1508.3h4.1v4.1h-4.1zM3669.8 1441.2h4.1v4.1h-4.1zM3669.8 1500.4h4.1v4.1h-4.1zM3669.8 1504.4h4.1v4.1h-4.1zM3669.8 1524.1h4.1v4.1h-4.1zM3673.8 1413.6h4.1v4.1h-4.1zM3673.8 1425.5h4.1v4.1h-4.1zM3673.8 1528.1h4.1v4.1h-4.1zM3677.7 1429.4h4.1v4.1h-4.1zM3677.7 1468.9h4.1v4.1h-4.1zM3677.7 1480.7h4.1v4.1h-4.1zM3677.7 1508.3h4.1v4.1h-4.1zM3681.7 1449.1h4.1v4.1h-4.1zM3685.6 1382.1h4.1v4.1h-4.1zM3685.6 1390.0h4.1v4.1h-4.1zM3685.6 1453.1h4.1v4.1h-4.1zM3689.6 1366.3h4.1v4.1h-4.1zM3689.6 1378.1h4.1v4.1h-4.1zM3689.6 1441.2h4.1v4.1h-4.1zM3689.6 1457.0h4.1v4.1h-4.1zM3689.6 1468.9h4.1v4.1h-4.1zM3689.6 1472.8h4.1v4.1h-4.1z"/>
<path fill="#c3c3c3" d="M3512.0 1390.0h4.1v4.1h-4.1zM3512.0 1437.3h4.1v4.1h-4.1zM3512.0 1445.2h4.1v4.1h-4.1zM3512.0 1488.6h4.1v4.1h-4.1zM3515.9 1390.0h4.1v4.1h-4.1zM3515.9 1405.7h4.1v4.1h-4.1zM3515.9 1425.5h4.1v4.1h-4.1zM3515.9 1433.4h4.1v4.1h-4.1zM3515.9 1441.2h4.1v4.1h-4.1zM3515.9 1453.1h4.1v4.1h-4.1zM3519.9 1354.4h4.1v4.1h-4.1zM3519.9 1366.3h4.1v4.1h-4.1zM3519.9 1374.2h4.1v4.1h-4.1zM3519.9 1401.8h4.1v4.1h-4.1zM3519.9 1449.1h4.1v4.1h-4.1zM3519.9 1468.9h4.1v4.1h-4.1zM3519.9 1480.7h4.1v4.1h-4.1zM3519.9 1488.6h4.1v4.1h-4.1zM3519.9 1516.2h4.1v4.1h-4.1zM3523.8 1441.2h4.1v4.1h-4.1zM3527.8 1386.0h4.1v4.1h-4.1zM3527.8 1401.8h4.1v4.1h-4.1zM3527.8 1437.3h4.1v4.1h-4.1zM3527.8 1484.7h4.1v4.1h-4.1zM3531.7 1390.0h4.1v4.1h-4.1zM3531.7 1425.5h4.1v4.1h-4.1zM3531.7 1433.4h4.1v4.1h-4.1zM3531.7 1480.7h4.1v4.1h-4.1zM3531.7 1500.4h4.1v4.1h-4.1zM3531.7 1512.3h4.1v4.1h-4.1zM3531.7 1516.2h4.1v4.1h-4.1zM3535.7 1390.0h4.1v4.1h-4.1zM3535.7 1413.6h4.1v4.1h-4.1zM3535.7 1433.4h4.1v4.1h-4.1zM3535.7 1449.1h4.1v4.1h-4.1zM3535.7 1457.0h4.1v4.1h-4.1zM3535.7 1468.9h4.1v4.1h-4.1zM3535.7 1496.5h4.1v4.1h-4.1zM3535.7 1528.1h4.1v4.1h-4.1zM3539.6 1480.7h4.1v4.1h-4.1zM3539.6 1484.7h4.1v4.1h-4.1zM3539.6 1520.2h4.1v4.1h-4.1zM3539.6 1528.1h4.1v4.1h-4.1zM3543.6 1425.5h4.1v4.1h-4.1zM3547.5 1358.4h4.1v4.1h-4.1zM3547.5 1370.2h4.1v4.1h-4.1zM3547.5 1382.1h4.1v4.1h-4.1zM3547.5 1397.8h4.1v4.1h-4.1zM3547.5 1409.7h4.1v4.1h-4.1zM3547.5 1421.5h4.1v4.1h-4.1zM3547.5 1457.0h4.1v4.1h-4.1zM3547.5 1464.9h4.1v4.1h-4.1zM3547.5 1484.7h4.1v4.1h-4.1zM3547.5 1508.3h4.1v4.1h-4.1zM3547.5 1520.2h4.1v4.1h-4.1zM3551.5 1437.3h4.1v4.1h-4.1zM3551.5 1488.6h4.1v4.1h-4.1zM3555.4 1378.1h4.1v4.1h-4.1zM3555.4 1401.8h4.1v4.1h-4.1zM3555.4 1429.4h4.1v4.1h-4.1zM3555.4 1516.2h4.1v4.1h-4.1zM3555.4 1520.2h4.1v4.1h-4.1zM3559.3 1393.9h4.1v4.1h-4.1zM3559.3 1457.0h4.1v4.1h-4.1zM3559.3 1464.9h4.1v4.1h-4.1zM3559.3 1524.1h4.1v4.1h-4.1zM3563.3 1382.1h4.1v4.1h-4.1zM3563.3 1476.8h4.1v4.1h-4.1zM3563.3 1520.2h4.1v4.1h-4.1zM3563.3 1528.1h4.1v4.1h-4.1zM3567.2 1350.5h4.1v4.1h-4.1zM3567.2 1390.0h4.1v4.1h-4.1zM3567.2 1413.6h4.1v4.1h-4.1zM3567.2 1449.1h4.1v4.1h-4.1zM3567.2 1476.8h4.1v4.1h-4.1zM3567.2 1492.5h4.1v4.1h-4.1zM3567.2 1508.3h4.1v4.1h-4.1zM3571.2 1382.1h4.1v4.1h-4.1zM3571.2 1409.7h4.1v4.1h-4.1zM3571.2 1433.4h4.1v4.1h-4.1zM3571.2 1453.1h4.1v4.1h-4.1zM3571.2 1504.4h4.1v4.1h-4.1zM3571.2 1512.3h4.1v4.1h-4.1zM3571.2 1516.2h4.1v4.1h-4.1zM3571.2 1528.1h4.1v4.1h-4.1zM3575.1 1350.5h4.1v4.1h-4.1zM3575.1 1393.9h4.1v4.1h-4.1zM3575.1 1397.8h4.1v4.1h-4.1zM3575.1 1429.4h4.1v4.1h-4.1zM3575.1 1441.2h4.1v4.1h-4.1zM3575.1 1476.8h4.1v4.1h-4.1zM3575.1 1520.2h4.1v4.1h-4.1zM3579.1 1405.7h4.1v4.1h-4.1zM3579.1 1457.0h4.1v4.1h-4.1zM3579.1 1480.7h4.1v4.1h-4.1zM3579.1 1512.3h4.1v4.1h-4.1zM3583.0 1354.4h4.1v4.1h-4.1zM3583.0 1449.1h4.1v4.1h-4.1zM3583.0 1464.9h4.1v4.1h-4.1zM3583.0 1488.6h4.1v4.1h-4.1zM3583.0 1520.2h4.1v4.1h-4.1zM3587.0 1417.6h4.1v4.1h-4.1zM3587.0 1441.2h4.1v4.1h-4.1zM3587.0 1524.1h4.1v4.1h-4.1zM3590.9 1445.2h4.1v4.1h-4.1zM3590.9 1484.7h4.1v4.1h-4.1zM3590.9 1492.5h4.1v4.1h-4.1zM3590.9 1500.4h4.1v4.1h-4.1zM3590.9 1508.3h4.1v4.1h-4.1zM3590.9 1524.1h4.1v4.1h-4.1zM3594.9 1390.0h4.1v4.1h-4.1zM3594.9 1421.5h4.1v4.1h-4.1zM3594.9 1433.4h4.1v4.1h-4.1zM3594.9 1437.3h4.1v4.1h-4.1zM3594.9 1480.7h4.1v4.1h-4.1zM3598.8 1393.9h4.1v4.1h-4.1zM3598.8 1425.5h4.1v4.1h-4.1zM3598.8 1445.2h4.1v4.1h-4.1zM3598.8 1464.9h4.1v4.1h-4.1zM3598.8 1472.8h4.1v4.1h-4.1zM3602.8 1417.6h4.1v4.1h-4.1zM3602.8 1449.1h4.1v4.1h-4.1zM3602.8 1461.0h4.1v4.1h-4.1zM3606.7 1350.5h4.1v4.1h-4.1zM3606.7 1401.8h4.1v4.1h-4.1zM3606.7 1441.2h4.1v4.1h-4.1zM3606.7 1472.8h4.1v4.1h-4.1zM3606.7 1480.7h4.1v4.1h-4.1zM3610.6 1358.4h4.1v4.1h-4.1zM3610.6 1405.7h4.1v4.1h-4.1zM3610.6 1437.3h4.1v4.1h-4.1zM3610.6 1472.8h4.1v4.1h-4.1zM3610.6 1504.4h4.1v4.1h-4.1zM3614.6 1393.9h4.1v4.1h-4.1zM3614.6 1405.7h4.1v4.1h-4.1zM3614.6 1413.6h4.1v4.1h-4.1zM3614.6 1445.2h4.1v4.1h-4.1zM3614.6 1464.9h4.1v4.1h-4.1zM3614.6 1488.6h4.1v4.1h-4.1zM3618.5 1386.0h4.1v4.1h-4.1zM3618.5 1437.3h4.1v4.1h-4.1zM3618.5 1464.9h4.1v4.1h-4.1zM3622.5 1358.4h4.1v4.1h-4.1zM3622.5 1409.7h4.1v4.1h-4.1zM3622.5 1425.5h4.1v4.1h-4.1zM3622.5 1437.3h4.1v4.1h-4.1zM3622.5 1445.2h4.1v4.1h-4.1zM3626.4 1378.1h4.1v4.1h-4.1zM3626.4 1429.4h4.1v4.1h-4.1zM3626.4 1449.1h4.1v4.1h-4.1zM3626.4 1516.2h4.1v4.1h-4.1zM3630.4 1390.0h4.1v4.1h-4.1zM3630.4 1401.8h4.1v4.1h-4.1zM3630.4 1405.7h4.1v4.1h-4.1zM3630.4 1421.5h4.1v4.1h-4.1zM3634.3 1354.4h4.1v4.1h-4.1zM3634.3 1433.4h4.1v4.1h-4.1zM3634.3 1453.1h4.1v4.1h-4.1zM3634.3 1472.8h4.1v4.1h-4.1zM3638.3 1409.7h4.1v4.1h-4.1zM3638.3 1492.5h4.1v4.1h-4.1zM3638.3 1496.5h4.1v4.1h-4.1zM3638.3 1508.3h4.1v4.1h-4.1zM3642.2 1370.2h4.1v4.1h-4.1zM3642.2 1378.1h4.1v4.1h-4.1zM3642.2 1425.5h4.1v4.1h-4.1zM3642.2 1429.4h4.1v4.1h-4.1zM3642.2 1464.9h4.1v4.1h-4.1zM3642.2 1496.5h4.1v4.1h-4.1zM3642.2 1500.4h4.1v4.1h-4.1zM3646.2 1370.2h4.1v4.1h-4.1zM3646.2 1390.0h4.1v4.1h-4.1zM3646.2 1445.2h4.1v4.1h-4.1zM3646.2 1504.4h4.1v4.1h-4.1zM3646.2 1512.3h4.1v4.1h-4.1zM3650.1 1370.2h4.1v4.1h-4.1zM3650.1 1382.1h4.1v4.1h-4.1zM3650.1 1397.8h4.1v4.1h-4.1zM3650.1 1425.5h4.1v4.1h-4.1zM3650.1 1429.4h4.1v4.1h-4.1zM3650.1 1453.1h4.1v4.1h-4.1zM3650.1 1457.0h4.1v4.1h-4.1zM3650.1 1464.9h4.1v4.1h-4.1zM3650.1 1524.1h4.1v4.1h-4.1zM3654.0 1358.4h4.1v4.1h-4.1zM3654.0 1366.3h4.1v4.1h-4.1zM3654.0 1378.1h4.1v4.1h-4.1zM3654.0 1409.7h4.1v4.1h-4.1zM3654.0 1421.5h4.1v4.1h-4.1zM3658.0 1358.4h4.1v4.1h-4.1zM3658.0 1409.7h4.1v4.1h-4.1zM3658.0 1433.4h4.1v4.1h-4.1zM3658.0 1445.2h4.1v4.1h-4.1zM3658.0 1449.1h4.1v4.1h-4.1zM3658.0 1472.8h4.1v4.1h-4.1zM3661.9 1358.4h4.1v4.1h-4.1zM3661.9 1405.7h4.1v4.1h-4.1zM3665.9 1354.4h4.1v4.1h-4.1zM3665.9 1378.1h4.1v4.1h-4.1zM3665.9 1390.0h4.1v4.1h-4.1zM3665.9 1449.1h4.1v4.1h-4.1zM3665.9 1476.8h4.1v4.1h-4.1zM3665.9 1488.6h4.1v4.1h-4.1zM3665.9 1512.3h4.1v4.1h-4.1zM3669.8 1366.3h4.1v4.1h-4.1zM3669.8 1461.0h4.1v4.1h-4.1zM3669.8 1492.5h4.1v4.1h-4.1zM3673.8 1374.2h4.1v4.1h-4.1zM3673.8 1378.1h4.1v4.1h-4.1zM3673.8 1397.8h4.1v4.1h-4.1zM3673.8 1437.3h4.1v4.1h-4.1zM3673.8 1496.5h4.1v4.1h-4.1zM3677.7 1413.6h4.1v4.1h-4.1zM3677.7 1437.3h4.1v4.1h-4.1zM3677.7 1449.1h4.1v4.1h-4.1zM3681.7 1393.9h4.1v4.1h-4.1zM3681.7 1405.7h4.1v4.1h-4.1zM3681.7 1425.5h4.1v4.1h-4.1zM3681.7 1433.4h4.1v4.1h-4.1zM3681.7 1441.2h4.1v4.1h-4.1zM3681.7 1496.5h4.1v4.1h-4.1zM3685.6 1350.5h4.1v4.1h-4.1zM3685.6 1370.2h4.1v4.1h-4.1zM3685.6 1413.6h4.1v4.1h-4.1zM3685.6 1417.6h4.1v4.1h-4.1zM3685.6 1441.2h4.1v4.1h-4.1zM3685.6 1476.8h4.1v4.1h-4.1zM3685.6 1500.4h4.1v4.1h-4.1zM3685.6 1504.4h4.1v4.1h-4.1zM3685.6 1512.3h4.1v4.1h-4.1zM3689.6 1358.4h4.1v4.1h-4.1zM3689.6 1386.0h4.1v4.1h-4.1zM3689.6 1401.8h4.1v4.1h-4.1zM3689.6 1425.5h4.1v4.1h-4.1zM3689.6 1445.2h4.1v4.1h-4.1zM3689.6 1453.1h4.1v4.1h-4.1zM3689.6 1461.0h4.1v4.1h-4.1zM3689.6 1520.2h4.1v4.1h-4.1z"/>
<path fill="#464646" d="M3512.0 1405.7h4.1v4.1h-4.1zM3512.0 1504.4h4.1v4.1h-4.1zM3515.9 1362.3h4.1v4.1h-4.1zM3515.9 1378.1h4.1v4.1h-4.1zM3515.9 1401.8h4.1v4.1h-4.1zM3515.9 1413.6h4.1v4.1h-4.1zM3519.9 1358.4h4.1v4.1h-4.1zM3519.9 1445.2h4.1v4.1h-4.1zM3519.9 1472.8h4.1v4.1h-4.1zM3519.9 1528.1h4.1v4.1h-4.1zM3523.8 1362.3h4.1v4.1h-4.1zM3523.8 1413.6h4.1v4.1h-4.1zM3523.8 1461.0h4.1v4.1h-4.1zM3523.8 1472.8h4.1v4.1h-4.1zM3523.8 1528.1h4.1v4.1h-4.1zM3527.8 1390.0h4.1v4.1h-4.1zM3527.8 1425.5h4.1v4.1h-4.1zM3527.8 1429.4h4.1v4.1h-4.1zM3527.8 1461.0h4.1v4.1h-4.1zM3527.8 1468.9h4.1v4.1h-4.1zM3531.7 1366.3h4.1v4.1h-4.1zM3531.7 1453.1h4.1v4.1h-4.1zM3531.7 1457.0h4.1v4.1h-4.1zM3531.7 1524.1h4.1v4.1h-4.1zM3535.7 1354.4h4.1v4.1h-4.1zM3535.7 1362.3h4.1v4.1h-4.1zM3535.7 1386.0h4.1v4.1h-4.1zM3535.7 1405.7h4.1v4.1h-4.1zM3535.7 1429.4h4.1v4.1h-4.1zM3535.7 1441.2h4.1v4.1h-4.1zM3535.7 1504.4h4.1v4.1h-4.1zM3535.7 1516.2h4.1v4.1h-4.1zM3539.6 1366.3h4.1v4.1h-4.1zM3539.6 1449.1h4.1v4.1h-4.1zM3539.6 1492.5h4.1v4.1h-4.1zM3539.6 1524.1h4.1v4.1h-4.1zM3543.6 1382.1h4.1v4.1h-4.1zM3543.6 1417.6h4.1v4.1h-4.1zM3543.6 1449.1h4.1v4.1h-4.1zM3543.6 1461.0h4.1v4.1h-4.1zM3543.6 1468.9h4.1v4.1h-4.1zM3543.6 1472.8h4.1v4.1h-4.1zM3547.5 1350.5h4.1v4.1h-4.1zM3547.5 1425.5h4.1v4.1h-4.1zM3547.5 1445.2h4.1v4.1h-4.1zM3547.5 1461.0h4.1v4.1h-4.1zM3547.5 1468.9h4.1v4.1h-4.1zM3547.5 1496.5h4.1v4.1h-4.1zM3551.5 1358.4h4.1v4.1h-4.1zM3551.5 1413.6h4.1v4.1h-4.1zM3551.5 1468.9h4.1v4.1h-4.1zM3555.4 1366.3h4.1v4.1h-4.1zM3555.4 1374.2h4.1v4.1h-4.1zM3555.4 1382.1h4.1v4.1h-4.1zM3555.4 1409.7h4.1v4.1h-4.1zM3555.4 1417.6h4.1v4.1h-4.1zM3555.4 1421.5h4.1v4.1h-4.1zM3555.4 1457.0h4.1v4.1h-4.1zM3555.4 1476.8h4.1v4.1h-4.1zM3559.3 1401.8h4.1v4.1h-4.1zM3559.3 1441.2h4.1v4.1h-4.1zM3559.3 1500.4h4.1v4.1h-4.1zM3563.3 1413.6h4.1v4.1h-4.1zM3563.3 1421.5h4.1v4.1h-4.1zM3563.3 1425.5h4.1v4.1h-4.1zM3563.3 1449.1h4.1v4.1h-4.1zM3563.3 1480.7h4.1v4.1h-4.1zM3563.3 1484.7h4.1v4.1h-4.1zM3563.3 1496.5h4.1v4.1h-4.1zM3563.3 1500.4h4.1v4.1h-4.1zM3563.3 1516.2h4.1v4.1h-4.1zM3563.3 1524.1h4.1v4.1h-4.1zM3567.2 1366.3h4.1v4.1h-4.1zM3567.2 1401.8h4.1v4.1h-4.1zM3567.2 1405.7h4.1v4.1h-4.1zM3567.2 1433.4h4.1v4.1h-4.1zM3567.2 1488.6h4.1v4.1h-4.1zM3567.2 1500.4h4.1v4.1h-4.1zM3567.2 1520.2h4.1v4.1h-4.1zM3571.2 1401.8h4.1v4.1h-4.1zM3571.2 1405.7h4.1v4.1h-4.1zM3571.2 1445.2h4.1v4.1h-4.1zM3575.1 1453.1h4.1v4.1h-4.1zM3575.1 1457.0h4.1v4.1h-4.1zM3575.1 1461.0h4.1v4.1h-4.1zM3575.1 1488.6h4.1v4.1h-4.1zM3575.1 1508.3h4.1v4.1h-4.1zM3575.1 1528.1h4.1v4.1h-4.1zM3579.1 1350.5h4.1v4.1h-4.1zM3579.1 1358.4h4.1v4.1h-4.1zM3579.1 1409.7h4.1v4.1h-4.1zM3579.1 1413.6h4.1v4.1h-4.1zM3579.1 1449.1h4.1v4.1h-4.1zM3583.0 1370.2h4.1v4.1h-4.1zM3583.0 1378.1h4.1v4.1h-4.1zM3583.0 1409.7h4.1v4.1h-4.1zM3583.0 1425.5h4.1v4.1h-4.1zM3583.0 1433.4h4.1v4.1h-4.1zM3583.0 1457.0h4.1v4.1h-4.1zM3583.0 1504.4h4.1v4.1h-4.1zM3587.0 1350.5h4.1v4.1h-4.1zM3587.0 1358.4h4.1v4.1h-4.1zM3587.0 1393.9h4.1v4.1h-4.1zM3587.0 1401.8h4.1v4.1h-4.1zM3587.0 1413.6h4.1v4.1h-4.1zM3587.0 1429.4h4.1v4.1h-4.1zM3587.0 1433.4h4.1v4.1h-4.1zM3587.0 1468.9h4.1v4.1h-4.1zM3587.0 1480.7h4.1v4.1h-4.1zM3590.9 1358.4h4.1v4.1h-4.1zM3590.9 1362.3h4.1v4.1h-4.1zM3590.9 1386.0h4.1v4.1h-4.1zM3590.9 1397.8h4.1v4.1h-4.1zM3590.9 1401.8h4.1v4.1h-4.1zM3590.9 1421.5h4.1v4.1h-4.1zM3590.9 1425.5h4.1v4.1h-4.1zM3590.9 1437.3h4.1v4.1h-4.1zM3590.9 1480.7h4.1v4.1h-4.1zM3594.9 1370.2h4.1v4.1h-4.1zM3594.9 1378.1h4.1v4.1h-4.1zM3594.9 1382.1h4.1v4.1h-4.1zM3594.9 1449.1h4.1v4.1h-4.1zM3594.9 1484.7h4.1v4.1h-4.1zM3594.9 1516.2h4.1v4.1h-4.1zM3594.9 1520.2h4.1v4.1h-4.1zM3598.8 1374.2h4.1v4.1h-4.1zM3598.8 1413.6h4.1v4.1h-4.1zM3602.8 1354.4h4.1v4.1h-4.1zM3602.8 1374.2h4.1v4.1h-4.1zM3602.8 1413.6h4.1v4.1h-4.1zM3602.8 1445.2h4.1v4.1h-4.1zM3602.8 1453.1h4.1v4.1h-4.1zM3602.8 1468.9h4.1v4.1h-4.1zM3602.8 1496.5h4.1v4.1h-4.1zM3602.8 1516.2h4.1v4.1h-4.1zM3606.7 1362.3h4.1v4.1h-4.1zM3606.7 1409.7h4.1v4.1h-4.1zM3606.7 1413.6h4.1v4.1h-4.1zM3606.7 1429.4h4.1v4.1h-4.1zM3606.7 1488.6h4.1v4.1h-4.1zM3606.7 1520.2h4.1v4.1h-4.1zM3606.7 1524.1h4.1v4.1h-4.1zM3610.6 1370.2h4.1v4.1h-4.1zM3610.6 1397.8h4.1v4.1h-4.1zM3610.6 1457.0h4.1v4.1h-4.1zM3610.6 1480.7h4.1v4.1h-4.1zM3614.6 1386.0h4.1v4.1h-4.1zM3614.6 1421.5h4.1v4.1h-4.1zM3614.6 1437.3h4.1v4.1h-4.1zM3614.6 1449.1h4.1v4.1h-4.1zM3614.6 1453.1h4.1v4.1h-4.1zM3618.5 1370.2h4.1v4.1h-4.1zM3618.5 1390.0h4.1v4.1h-4.1zM3618.5 1397.8h4.1v4.1h-4.1zM3618.5 1401.8h4.1v4.1h-4.1zM3618.5 1441.2h4.1v4.1h-4.1zM3618.5 1461.0h4.1v4.1h-4.1zM3618.5 1480.7h4.1v4.1h-4.1zM3618.5 1484.7h4.1v4.1h-4.1zM3618.5 1500.4h4.1v4.1h-4.1zM3618.5 1528.1h4.1v4.1h-4.1zM3622.5 1354.4h4.1v4.1h-4.1zM3622.5 1386.0h4.1v4.1h-4.1zM3622.5 1393.9h4.1v4.1h-4.1zM3622.5 1453.1h4.1v4.1h-4.1zM3622.5 1472.8h4.1v4.1h-4.1zM3622.5 1524.1h4.1v4.1h-4.1zM3626.4 1350.5h4.1v4.1h-4.1zM3626.4 1354.4h4.1v4.1h-4.1zM3626.4 1433.4h4.1v4.1h-4.1zM3626.4 1472.8h4.1v4.1h-4.1zM3626.4 1504.4h4.1v4.1h-4.1zM3626.4 1528.1h4.1v4.1h-4.1zM3630.4 1354.4h4.1v4.1h-4.1zM3630.4 1362.3h4.1v4.1h-4.1zM3630.4 1386.0h4.1v4.1h-4.1zM3630.4 1484.7h4.1v4.1h-4.1zM3630.4 1520.2h4.1v4.1h-4.1zM3634.3 1362.3h4.1v4.1h-4.1zM3634.3 1378.1h4.1v4.1h-4.1zM3634.3 1390.0h4.1v4.1h-4.1zM3638.3 1350.5h4.1v4.1h-4.1zM3638.3 1397.8h4.1v4.1h-4.1zM3638.3 1401.8h4.1v4.1h-4.1zM3638.3 1405.7h4.1v4.1h-4.1zM3638.3 1433.4h4.1v4.1h-4.1zM3638.3 1445.2h4.1v4.1h-4.1zM3638.3 1453.1h4.1v4.1h-4.1zM3638.3 1472.8h4.1v4.1h-4.1zM3642.2 1393.9h4.1v4.1h-4.1zM3642.2 1449.1h4.1v4.1h-4.1zM3642.2 1457.0h4.1v4.1h-4.1zM3642.2 1508.3h4.1v4.1h-4.1zM3642.2 1524.1h4.1v4.1h-4.1zM3646.2 1354.4h4.1v4.1h-4.1zM3646.2 1366.3h4.1v4.1h-4.1zM3646.2 1378.1h4.1v4.1h-4.1zM3646.2 1386.0h4.1v4.1h-4.1zM3646.2 1520.2h4.1v4.1h-4.1zM3650.1 1386.0h4.1v4.1h-4.1zM3650.1 1390.0h4.1v4.1h-4.1zM3650.1 1409.7h4.1v4.1h-4.1zM3650.1 1413.6h4.1v4.1h-4.1zM3650.1 1476.8h4.1v4.1h-4.1zM3650.1 1484.7h4.1v4.1h-4.1zM3650.1 1488.6h4.1v4.1h-4.1zM3654.0 1362.3h4.1v4.1h-4.1zM3654.0 1390.0h4.1v4.1h-4.1zM3654.0 1480.7h4.1v4.1h-4.1zM3654.0 1488.6h4.1v4.1h-4.1zM3654.0 1496.5h4.1v4.1h-4.1zM3654.0 1504.4h4.1v4.1h-4.1zM3654.0 1512.3h4.1v4.1h-4.1zM3654.0 1516.2h4.1v4.1h-4.1zM3654.0 1528.1h4.1v4.1h-4.1zM3658.0 1488.6h4.1v4.1h-4.1zM3658.0 1508.3h4.1v4.1h-4.1zM3661.9 1421.5h4.1v4.1h-4.1zM3661.9 1449.1h4.1v4.1h-4.1zM3661.9 1457.0h4.1v4.1h-4.1zM3661.9 1461.0h4.1v4.1h-4.1zM3661.9 1504.4h4.1v4.1h-4.1zM3665.9 1472.8h4.1v4.1h-4.1zM3665.9 1484.7h4.1v4.1h-4.1zM3665.9 1492.5h4.1v4.1h-4.1zM3665.9 1516.2h4.1v4.1h-4.1zM3669.8 1413.6h4.1v4.1h-4.1zM3669.8 1433.4h4.1v4.1h-4.1zM3669.8 1445.2h4.1v4.1h-4.1zM3669.8 1449.1h4.1v4.1h-4.1zM3669.8 1512.3h4.1v4.1h-4.1zM3673.8 1350.5h4.1v4.1h-4.1zM3673.8 1370.2h4.1v4.1h-4.1zM3673.8 1421.5h4.1v4.1h-4.1zM3673.8 1449.1h4.1v4.1h-4.1zM3673.8 1476.8h4.1v4.1h-4.1zM3677.7 1382.1h4.1v4.1h-4.1zM3677.7 1390.0h4.1v4.1h-4.1zM3677.7 1393.9h4.1v4.1h-4.1zM3677.7 1472.8h4.1v4.1h-4.1zM3681.7 1354.4h4.1v4.1h-4.1zM3681.7 1461.0h4.1v4.1h-4.1zM3685.6 1374.2h4.1v4.1h-4.1zM3685.6 1433.4h4.1v4.1h-4.1zM3685.6 1461.0h4.1v4.1h-4.1zM3685.6 1524.1h4.1v4.1h-4.1zM3689.6 1433.4h4.1v4.1h-4.1zM3689.6 1437.3h4.1v4.1h-4.1zM3689.6 1480.7h4.1v4.1h-4.1zM3689.6 1488.6h4.1v4.1h-4.1zM3689.6 1496.5h4.1v4.1h-4.1zM3689.6 1504.4h4.1v4.1h-4.1zM3689.6 1508.3h4.1v4.1h-4.1z"/>
<g opacity="0.85"><path fill="#7468c8" d="M3552.0 1358.5h8.0v8.0h-8.0zM3568.0 1358.5h8.0v8.0h-8.0zM3576.0 1358.5h8.0v8.0h-8.0zM3687.9 1358.5h8.0v8.0h-8.0zM3687.9 1366.5h8.0v8.0h-8.0zM3615.9 1374.5h8.0v8.0h-8.0zM3679.9 1374.5h8.0v8.0h-8.0zM3647.9 1390.5h8.0v8.0h-8.0zM3655.9 1390.5h8.0v8.0h-8.0zM3576.0 1398.5h8.0v8.0h-8.0zM3647.9 1398.5h8.0v8.0h-8.0zM3615.9 1414.5h8.0v8.0h-8.0zM3607.9 1414.5h8.0v8.0h-8.0zM3520.0 1422.5h8.0v8.0h-8.0zM3528.0 1430.5h8.0v8.0h-8.0zM3536.0 1438.5h8.0v8.0h-8.0zM3544.0 1438.5h8.0v8.0h-8.0zM3560.0 1470.4h8.0v8.0h-8.0zM3592.0 1462.4h8.0v8.0h-8.0zM3600.0 1462.4h8.0v8.0h-8.0zM3647.9 1470.4h8.0v8.0h-8.0zM3520.0 1502.4h8.0v8.0h-8.0z"/><path fill="#a0b040" d="M3560.0 1358.5h8.0v8.0h-8.0zM3615.9 1382.5h8.0v8.0h-8.0zM3623.9 1382.5h8.0v8.0h-8.0zM3671.9 1382.5h8.0v8.0h-8.0zM3679.9 1382.5h8.0v8.0h-8.0zM3671.9 1390.5h8.0v8.0h-8.0zM3631.9 1398.5h8.0v8.0h-8.0zM3576.0 1406.5h8.0v8.0h-8.0zM3647.9 1406.5h8.0v8.0h-8.0zM3679.9 1406.5h8.0v8.0h-8.0zM3576.0 1414.5h8.0v8.0h-8.0zM3584.0 1414.5h8.0v8.0h-8.0zM3679.9 1414.5h8.0v8.0h-8.0zM3528.0 1422.5h8.0v8.0h-8.0zM3552.0 1470.4h8.0v8.0h-8.0zM3639.9 1470.4h8.0v8.0h-8.0zM3600.0 1478.4h8.0v8.0h-8.0zM3607.9 1478.4h8.0v8.0h-8.0zM3536.0 1486.4h8.0v8.0h-8.0zM3544.0 1486.4h8.0v8.0h-8.0zM3615.9 1486.4h8.0v8.0h-8.0zM3623.9 1486.4h8.0v8.0h-8.0zM3631.9 1486.4h8.0v8.0h-8.0zM3536.0 1494.4h8.0v8.0h-8.0zM3528.0 1502.4h8.0v8.0h-8.0z"/><path fill="#40a088" d="M3647.9 1374.5h8.0v8.0h-8.0zM3615.9 1390.5h8.0v8.0h-8.0zM3623.9 1390.5h8.0v8.0h-8.0zM3655.9 1398.5h8.0v8.0h-8.0zM3663.9 1398.5h8.0v8.0h-8.0zM3679.9 1398.5h8.0v8.0h-8.0z"/><path fill="#a050c0" d="M3655.9 1374.5h8.0v8.0h-8.0zM3663.9 1374.5h8.0v8.0h-8.0z"/><path fill="#4a40b0" d="M3584.0 1382.5h8.0v8.0h-8.0zM3592.0 1382.5h8.0v8.0h-8.0zM3584.0 1390.5h8.0v8.0h-8.0zM3592.0 1390.5h8.0v8.0h-8.0zM3600.0 1398.5h8.0v8.0h-8.0zM3607.9 1398.5h8.0v8.0h-8.0zM3600.0 1406.5h8.0v8.0h-8.0zM3607.9 1406.5h8.0v8.0h-8.0z"/><path fill="#e08050" d="M3655.9 1382.5h8.0v8.0h-8.0zM3663.9 1382.5h8.0v8.0h-8.0z"/><path fill="#d07080" d="M3663.9 1390.5h8.0v8.0h-8.0z"/><path fill="#2a6080" d="M3584.0 1398.5h8.0v8.0h-8.0zM3592.0 1398.5h8.0v8.0h-8.0z"/><path fill="#c0d050" d="M3592.0 1414.5h8.0v8.0h-8.0zM3600.0 1414.5h8.0v8.0h-8.0zM3600.0 1422.5h8.0v8.0h-8.0z"/><path fill="#c07080" d="M3647.9 1438.5h8.0v8.0h-8.0zM3647.9 1446.4h8.0v8.0h-8.0z"/></g>
<rect x="3768" y="1362.5" width="170" height="171.5" fill="#00008c"/>
<rect x="3776" y="1370.5" width="154" height="9" fill="#0008b8"/>
<rect x="3776" y="1514.0" width="154" height="9" fill="#0008b8"/>
<defs><radialGradient id="bl"><stop offset="0" stop-color="#0050ff" stop-opacity="0.9"/><stop offset="1" stop-color="#0000c8" stop-opacity="0"/></radialGradient><radialGradient id="cy"><stop offset="0" stop-color="#a0ff60"/><stop offset="0.5" stop-color="#00e0ff"/><stop offset="1" stop-color="#0040ff" stop-opacity="0"/></radialGradient><radialGradient id="rd"><stop offset="0" stop-color="#c00000"/><stop offset="0.35" stop-color="#ff4000"/><stop offset="0.6" stop-color="#ffe000"/><stop offset="0.8" stop-color="#00e0ff"/><stop offset="1" stop-color="#0040ff" stop-opacity="0"/></radialGradient></defs>
<path fill="#0030f0" d="M3807.9 1409.5h16.0v10.0h-16.0zM3849.6 1443.0h10.0v8.0h-10.0zM3855.7 1440.1h12.0v10.0h-12.0zM3833.2 1414.8h12.0v16.0h-12.0zM3824.6 1406.7h16.0v8.0h-16.0zM3891.9 1477.7h16.0v16.0h-16.0zM3785.2 1406.3h12.0v8.0h-12.0zM3813.1 1424.0h10.0v10.0h-10.0zM3892.7 1462.8h12.0v16.0h-12.0zM3896.8 1458.9h12.0v16.0h-12.0zM3861.6 1455.2h8.0v8.0h-8.0zM3800.6 1408.6h10.0v12.0h-10.0zM3871.2 1450.4h16.0v12.0h-16.0z"/>
<path fill="#0010c8" d="M3886.3 1467.9h10.0v8.0h-10.0zM3833.8 1413.2h10.0v10.0h-10.0zM3850.5 1436.1h16.0v16.0h-16.0zM3885.8 1481.1h10.0v8.0h-10.0zM3866.4 1439.8h12.0v10.0h-12.0zM3796.9 1394.7h16.0v10.0h-16.0zM3896.4 1465.4h16.0v10.0h-16.0zM3831.9 1414.7h16.0v8.0h-16.0zM3866.0 1459.8h8.0v16.0h-8.0zM3872.7 1450.8h16.0v16.0h-16.0z"/>
<path fill="#0020e0" d="M3904.7 1487.3h12.0v8.0h-12.0zM3867.1 1466.0h8.0v16.0h-8.0zM3795.5 1398.3h12.0v8.0h-12.0zM3792.0 1402.7h10.0v16.0h-10.0zM3904.7 1489.1h16.0v16.0h-16.0zM3778.1 1399.9h16.0v8.0h-16.0zM3821.3 1431.4h12.0v12.0h-12.0zM3890.8 1464.1h16.0v10.0h-16.0zM3908.4 1485.5h10.0v16.0h-10.0zM3854.1 1450.4h12.0v12.0h-12.0zM3826.1 1413.0h8.0v16.0h-8.0zM3849.6 1446.7h16.0v12.0h-16.0zM3842.1 1431.3h16.0v8.0h-16.0z"/>
<path fill="#0008b0" d="M3871.3 1462.0h12.0v12.0h-12.0zM3806.4 1422.2h10.0v16.0h-10.0zM3830.8 1441.5h10.0v10.0h-10.0zM3800.8 1410.4h12.0v8.0h-12.0z"/>
<g transform="rotate(38 3850 1445)"><ellipse cx="3850" cy="1445" rx="74" ry="24" fill="url(#bl)"/></g>
<circle cx="3798" cy="1405" r="8" fill="url(#cy)"/>
<circle cx="3818" cy="1428" r="10" fill="url(#cy)"/>
<circle cx="3834" cy="1447" r="10" fill="url(#cy)"/>
<circle cx="3850" cy="1462" r="9" fill="url(#cy)"/>
<circle cx="3883" cy="1459" r="9" fill="url(#cy)"/>
<circle cx="3904" cy="1470" r="10" fill="url(#cy)"/>
<circle cx="3867" cy="1493" r="9" fill="url(#rd)"/>
<circle cx="3862" cy="1473" r="13" fill="url(#rd)"/>

</svg>
</div></body></html>
